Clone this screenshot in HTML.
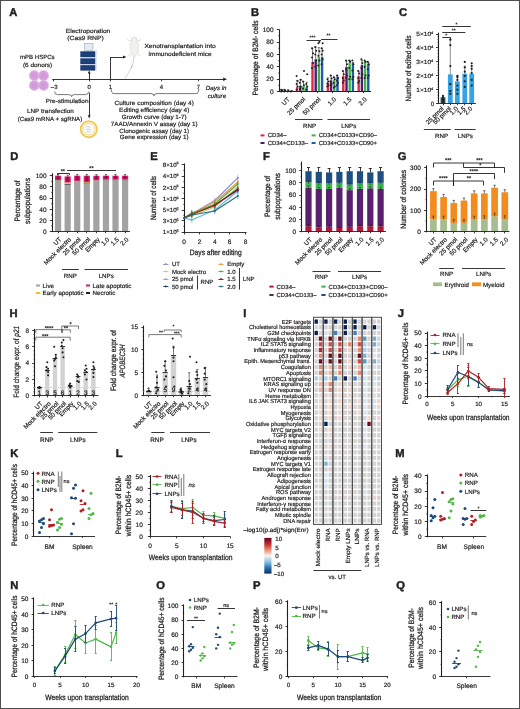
<!DOCTYPE html>
<html><head><meta charset="utf-8"><style>
html,body{margin:0;padding:0;background:#fff;}
body{width:520px;height:709px;overflow:hidden;}
svg{display:block;will-change:transform;}
svg text{text-rendering:geometricPrecision;font-family:"Liberation Sans", sans-serif;fill:#231f20;stroke:#231f20;stroke-width:0.2px;}
</style></head><body>
<svg width="520" height="709" viewBox="0 0 520 709" font-family='"Liberation Sans", sans-serif'>
<rect x="0" y="0" width="520" height="709" fill="#ffffff"/>
<text x="9.2" y="16.16" font-size="11.2" font-weight="bold" style="stroke-width:0.45px">A</text>
<text x="88.00" y="32.66" font-size="6.0" text-anchor="middle" textLength="44.5" lengthAdjust="spacingAndGlyphs">Electroporation</text>
<text x="85.50" y="39.86" font-size="6.0" text-anchor="middle" textLength="36.5" lengthAdjust="spacingAndGlyphs">(Cas9 RNP)</text>
<text x="37.30" y="59.16" font-size="6.0" text-anchor="middle" textLength="34.6" lengthAdjust="spacingAndGlyphs">mPB HSPCs</text>
<text x="37.60" y="67.16" font-size="6.0" text-anchor="middle" textLength="29.3" lengthAdjust="spacingAndGlyphs">(6 donors)</text>
<circle cx="34.30" cy="75.60" r="5.00" fill="#d7a0de" stroke="#e2bce8" stroke-width="0.8"/>
<circle cx="43.60" cy="75.60" r="5.00" fill="#d7a0de" stroke="#e2bce8" stroke-width="0.8"/>
<circle cx="34.30" cy="85.40" r="5.00" fill="#d7a0de" stroke="#e2bce8" stroke-width="0.8"/>
<circle cx="43.60" cy="85.40" r="5.00" fill="#d7a0de" stroke="#e2bce8" stroke-width="0.8"/>
<circle cx="34.30" cy="75.60" r="2.60" fill="#d29ada" />
<circle cx="43.60" cy="75.60" r="2.60" fill="#d29ada" />
<circle cx="34.30" cy="85.40" r="2.60" fill="#d29ada" />
<circle cx="43.60" cy="85.40" r="2.60" fill="#d29ada" />
<rect x="84.60" y="43.40" width="8.40" height="6.90" fill="#e6ecf3" stroke="#9aa8b8" stroke-width="0.6"/>
<rect x="95.20" y="49.50" width="1.60" height="21.00" fill="#dde3ea" />
<rect x="80.30" y="51.30" width="14.90" height="5.80" fill="#1c3c76" />
<line x1="81.50" y1="54.20" x2="94.00" y2="54.20" stroke="#3b5c96" stroke-width="0.5" stroke-dasharray="1 0.6"/>
<rect x="80.30" y="58.20" width="14.90" height="5.80" fill="#1c3c76" />
<line x1="81.50" y1="61.10" x2="94.00" y2="61.10" stroke="#3b5c96" stroke-width="0.5" stroke-dasharray="1 0.6"/>
<rect x="80.30" y="65.10" width="14.90" height="5.50" fill="#1c3c76" />
<line x1="81.50" y1="67.85" x2="94.00" y2="67.85" stroke="#3b5c96" stroke-width="0.5" stroke-dasharray="1 0.6"/>
<rect x="80.30" y="57.10" width="14.90" height="1.10" fill="#c4d1e6" />
<rect x="80.30" y="64.00" width="14.90" height="1.10" fill="#c4d1e6" />
<line x1="52.30" y1="79.50" x2="224.00" y2="79.50" stroke="#231f20" stroke-width="0.9" />
<path d="M223.2,77.6 L227.0,79.3 L223.2,81.0 Z" fill="#231f20" stroke="none" stroke-width="0" />
<line x1="53.50" y1="79.30" x2="53.50" y2="81.30" stroke="#231f20" stroke-width="0.9" />
<line x1="89.50" y1="79.30" x2="89.50" y2="81.30" stroke="#231f20" stroke-width="0.9" />
<line x1="110.50" y1="79.30" x2="110.50" y2="81.30" stroke="#231f20" stroke-width="0.9" />
<line x1="161.50" y1="79.30" x2="161.50" y2="81.30" stroke="#231f20" stroke-width="0.9" />
<line x1="198.50" y1="79.30" x2="198.50" y2="81.30" stroke="#231f20" stroke-width="0.9" />
<text x="54.20" y="89.16" font-size="6.0" text-anchor="middle">–3</text>
<text x="89.20" y="89.36" font-size="6.0" text-anchor="middle">0</text>
<text x="110.30" y="89.36" font-size="6.0" text-anchor="middle">1</text>
<text x="161.40" y="89.36" font-size="6.0" text-anchor="middle">4</text>
<text x="198.30" y="89.36" font-size="6.0" text-anchor="middle">7</text>
<line x1="89.50" y1="79.30" x2="89.50" y2="73.00" stroke="#231f20" stroke-width="0.9" />
<path d="M87.8,73.6 L89.2,70.6 L90.6,73.6 Z" fill="#231f20" stroke="none" stroke-width="0" />
<line x1="89.50" y1="92.60" x2="89.50" y2="116.00" stroke="#231f20" stroke-width="0.9" />
<path d="M87.8,115.2 L89.2,118.4 L90.6,115.2 Z" fill="#231f20" stroke="none" stroke-width="0" />
<path d="M54.6,91.5 Q54.6,94.6 57.6,94.6 L68.6,94.6 Q71.6,94.6 71.6,96.6 Q71.6,94.6 74.6,94.6 L85.6,94.6 Q88.6,94.6 88.6,91.5" fill="none" stroke="#231f20" stroke-width="0.6" />
<text x="67.10" y="102.96" font-size="6.0" text-anchor="middle" textLength="42.8" lengthAdjust="spacingAndGlyphs">Pre-stimulation</text>
<text x="50.40" y="113.36" font-size="6.0" text-anchor="middle" textLength="46.8" lengthAdjust="spacingAndGlyphs">LNP transfection</text>
<text x="50.00" y="120.66" font-size="6.0" text-anchor="middle" textLength="64.6" lengthAdjust="spacingAndGlyphs">(Cas9 mRNA + sgRNA)</text>
<circle cx="88.80" cy="129.20" r="8.60" fill="#fdf6dc" />
<circle cx="88.80" cy="129.20" r="8.10" fill="none" stroke="#efc84c" stroke-width="1.7"/>
<circle cx="88.80" cy="129.20" r="5.60" fill="#ffffff" stroke="#f0cf66" stroke-width="0.7"/>
<path d="M85.8,127.2 Q88,125.8 90.5,127.6 M86.2,129.6 Q88.6,128.4 91.2,130.2 M86.4,132 Q88.8,130.6 90.8,132.6" fill="none" stroke="#9a8fbf" stroke-width="0.5" />
<line x1="110.50" y1="79.30" x2="110.50" y2="57.00" stroke="#231f20" stroke-width="0.9" />
<line x1="110.00" y1="57.50" x2="123.60" y2="57.50" stroke="#231f20" stroke-width="0.9" />
<path d="M123.0,55.4 L126.4,57.0 L123.0,58.6 Z" fill="#231f20" stroke="none" stroke-width="0" />
<g fill="#f3f0f0" stroke="#d2cccc" stroke-width="0.5">
<path d="M134.2,36.6 Q131.2,38 131.4,41.5 Q129.6,44 130.2,48.5 Q130.6,53.5 133.2,56.2 L135.4,56.2 Q138,53.5 138.4,48.5 Q139,44 137.2,41.5 Q137.4,38 134.2,36.6 Z"/>
</g>
<path d="M131.2,41.2 L127.2,39.6 M137.2,41.2 L141.2,39.6 M130.6,53.6 L128.2,56.4 M137.8,53.6 L140.6,56.4 M132.2,39.2 L131.2,37.6 M136.2,39.2 L137.2,37.6" fill="none" stroke="#cfc6c6" stroke-width="0.7" />
<path d="M134.2,56.2 Q133.6,63 131.2,68 Q128.5,73.5 124.8,78.6" fill="none" stroke="#d6d0d0" stroke-width="1.0" />
<path d="M131.0,68.4 L132.6,65.0" fill="none" stroke="#e8b890" stroke-width="1.0" />
<text x="180.10" y="47.96" font-size="6.0" text-anchor="middle" textLength="71.4" lengthAdjust="spacingAndGlyphs">Xenotransplantation into</text>
<text x="180.10" y="55.96" font-size="6.0" text-anchor="middle" textLength="63.2" lengthAdjust="spacingAndGlyphs">immunodeficient mice</text>
<text x="216.20" y="90.46" font-size="6.0" text-anchor="middle" textLength="20.7" lengthAdjust="spacingAndGlyphs" font-style="italic">Days in</text>
<text x="216.90" y="98.46" font-size="6.0" text-anchor="middle" textLength="18.3" lengthAdjust="spacingAndGlyphs" font-style="italic">culture</text>
<path d="M111.2,89.0 Q111.2,93.6 114.2,93.6 L151.0,93.6 Q154.0,93.6 154.0,95.8 Q154.0,93.6 157.0,93.6 L195.8,93.6 Q198.8,93.6 198.8,89.0" fill="none" stroke="#231f20" stroke-width="0.6" />
<text x="154.20" y="105.46" font-size="6.0" text-anchor="middle" textLength="79.2" lengthAdjust="spacingAndGlyphs">Culture composition (day 4)</text>
<text x="154.20" y="112.16" font-size="6.0" text-anchor="middle" textLength="70.2" lengthAdjust="spacingAndGlyphs">Editing efficiency (day 4)</text>
<text x="154.20" y="118.76" font-size="6.0" text-anchor="middle" textLength="64.8" lengthAdjust="spacingAndGlyphs">Growth curve (day 1-7)</text>
<text x="154.20" y="125.66" font-size="6.0" text-anchor="middle" textLength="86.9" lengthAdjust="spacingAndGlyphs">7AAD/Annexin V assay (day 1)</text>
<text x="154.20" y="132.76" font-size="6.0" text-anchor="middle" textLength="69.8" lengthAdjust="spacingAndGlyphs">Clonogenic assay (day 1)</text>
<text x="154.20" y="139.46" font-size="6.0" text-anchor="middle" textLength="68.7" lengthAdjust="spacingAndGlyphs">Gene expression (day 1)</text>
<text x="251.0" y="16.16" font-size="11.2" font-weight="bold" style="stroke-width:0.45px">B</text>
<line x1="279.50" y1="29.30" x2="279.50" y2="92.00" stroke="#231f20" stroke-width="1.1" />
<line x1="276.80" y1="91.50" x2="279.00" y2="91.50" stroke="#231f20" stroke-width="0.9" />
<text x="273.60" y="93.84" font-size="6.5" text-anchor="end">0</text>
<line x1="276.80" y1="79.50" x2="279.00" y2="79.50" stroke="#231f20" stroke-width="0.9" />
<text x="273.60" y="81.48" font-size="6.5" text-anchor="end">20</text>
<line x1="276.80" y1="66.50" x2="279.00" y2="66.50" stroke="#231f20" stroke-width="0.9" />
<text x="273.60" y="69.12" font-size="6.5" text-anchor="end">40</text>
<line x1="276.80" y1="54.50" x2="279.00" y2="54.50" stroke="#231f20" stroke-width="0.9" />
<text x="273.60" y="56.76" font-size="6.5" text-anchor="end">60</text>
<line x1="276.80" y1="42.50" x2="279.00" y2="42.50" stroke="#231f20" stroke-width="0.9" />
<text x="273.60" y="44.40" font-size="6.5" text-anchor="end">80</text>
<line x1="276.80" y1="29.50" x2="279.00" y2="29.50" stroke="#231f20" stroke-width="0.9" />
<text x="273.60" y="32.04" font-size="6.5" text-anchor="end">100</text>
<line x1="278.00" y1="85.32" x2="279.00" y2="85.32" stroke="#231f20" stroke-width="0.6" />
<line x1="278.00" y1="72.96" x2="279.00" y2="72.96" stroke="#231f20" stroke-width="0.6" />
<line x1="278.00" y1="60.60" x2="279.00" y2="60.60" stroke="#231f20" stroke-width="0.6" />
<line x1="278.00" y1="48.24" x2="279.00" y2="48.24" stroke="#231f20" stroke-width="0.6" />
<line x1="278.00" y1="35.88" x2="279.00" y2="35.88" stroke="#231f20" stroke-width="0.6" />
<text x="255.40" y="60.81" font-size="7.8" text-anchor="middle" textLength="75" lengthAdjust="spacingAndGlyphs" transform="rotate(-90 255.40 58.00)" style="stroke-width:0.26px">Percentage of B2M- cells</text>
<line x1="278.60" y1="91.50" x2="371.00" y2="91.50" stroke="#231f20" stroke-width="0.9" />
<line x1="301.50" y1="91.50" x2="301.50" y2="93.10" stroke="#231f20" stroke-width="0.9" />
<line x1="317.50" y1="91.50" x2="317.50" y2="93.10" stroke="#231f20" stroke-width="0.9" />
<line x1="332.50" y1="91.50" x2="332.50" y2="93.10" stroke="#231f20" stroke-width="0.9" />
<line x1="348.50" y1="91.50" x2="348.50" y2="93.10" stroke="#231f20" stroke-width="0.9" />
<line x1="363.50" y1="91.50" x2="363.50" y2="93.10" stroke="#231f20" stroke-width="0.9" />
<rect x="280.50" y="90.57" width="2.40" height="0.93" fill="#e0294a" />
<line x1="281.70" y1="89.65" x2="281.70" y2="90.57" stroke="#231f20" stroke-width="0.6" />
<line x1="280.70" y1="89.65" x2="282.70" y2="89.65" stroke="#231f20" stroke-width="0.6" />
<circle cx="281.20" cy="91.50" r="1.00" fill="#231f20" />
<circle cx="282.20" cy="90.26" r="1.00" fill="#231f20" />
<circle cx="281.20" cy="89.65" r="1.00" fill="#231f20" />
<rect x="283.70" y="90.76" width="2.40" height="0.74" fill="#4b1f6f" />
<line x1="284.90" y1="89.65" x2="284.90" y2="90.76" stroke="#231f20" stroke-width="0.6" />
<line x1="283.90" y1="89.65" x2="285.90" y2="89.65" stroke="#231f20" stroke-width="0.6" />
<circle cx="284.40" cy="91.50" r="1.00" fill="#231f20" />
<circle cx="285.40" cy="90.88" r="1.00" fill="#231f20" />
<circle cx="284.40" cy="89.65" r="1.00" fill="#231f20" />
<rect x="286.90" y="90.57" width="2.40" height="0.93" fill="#3db54a" />
<line x1="288.10" y1="89.65" x2="288.10" y2="90.57" stroke="#231f20" stroke-width="0.6" />
<line x1="287.10" y1="89.65" x2="289.10" y2="89.65" stroke="#231f20" stroke-width="0.6" />
<circle cx="287.60" cy="91.50" r="1.00" fill="#231f20" />
<circle cx="288.60" cy="90.88" r="1.00" fill="#231f20" />
<rect x="290.10" y="90.88" width="2.40" height="0.62" fill="#1f5fa8" />
<circle cx="290.80" cy="91.50" r="1.00" fill="#231f20" />
<circle cx="291.80" cy="90.88" r="1.00" fill="#231f20" />
<rect x="295.90" y="87.17" width="2.40" height="4.33" fill="#e0294a" />
<line x1="297.10" y1="80.38" x2="297.10" y2="87.17" stroke="#231f20" stroke-width="0.6" />
<line x1="296.10" y1="80.38" x2="298.10" y2="80.38" stroke="#231f20" stroke-width="0.6" />
<circle cx="296.60" cy="89.65" r="1.00" fill="#231f20" />
<circle cx="297.60" cy="86.56" r="1.00" fill="#231f20" />
<circle cx="296.60" cy="84.08" r="1.00" fill="#231f20" />
<circle cx="297.60" cy="80.99" r="1.00" fill="#231f20" />
<circle cx="296.60" cy="76.05" r="1.00" fill="#231f20" />
<rect x="299.10" y="85.94" width="2.40" height="5.56" fill="#4b1f6f" />
<line x1="300.30" y1="79.76" x2="300.30" y2="85.94" stroke="#231f20" stroke-width="0.6" />
<line x1="299.30" y1="79.76" x2="301.30" y2="79.76" stroke="#231f20" stroke-width="0.6" />
<circle cx="299.80" cy="89.03" r="1.00" fill="#231f20" />
<circle cx="300.80" cy="86.56" r="1.00" fill="#231f20" />
<circle cx="299.80" cy="82.85" r="1.00" fill="#231f20" />
<circle cx="300.80" cy="79.76" r="1.00" fill="#231f20" />
<rect x="302.30" y="85.94" width="2.40" height="5.56" fill="#3db54a" />
<line x1="303.50" y1="81.61" x2="303.50" y2="85.94" stroke="#231f20" stroke-width="0.6" />
<line x1="302.50" y1="81.61" x2="304.50" y2="81.61" stroke="#231f20" stroke-width="0.6" />
<circle cx="303.00" cy="88.41" r="1.00" fill="#231f20" />
<circle cx="304.00" cy="85.32" r="1.00" fill="#231f20" />
<circle cx="303.00" cy="81.61" r="1.00" fill="#231f20" />
<circle cx="304.00" cy="71.11" r="1.00" fill="#231f20" />
<rect x="305.50" y="87.17" width="2.40" height="4.33" fill="#1f5fa8" />
<line x1="306.70" y1="82.23" x2="306.70" y2="87.17" stroke="#231f20" stroke-width="0.6" />
<line x1="305.70" y1="82.23" x2="307.70" y2="82.23" stroke="#231f20" stroke-width="0.6" />
<circle cx="306.20" cy="89.65" r="1.00" fill="#231f20" />
<circle cx="307.20" cy="86.56" r="1.00" fill="#231f20" />
<circle cx="306.20" cy="84.08" r="1.00" fill="#231f20" />
<circle cx="307.20" cy="74.20" r="1.00" fill="#231f20" />
<rect x="311.30" y="61.84" width="2.40" height="29.66" fill="#e0294a" />
<line x1="312.50" y1="48.24" x2="312.50" y2="61.84" stroke="#231f20" stroke-width="0.6" />
<line x1="311.50" y1="48.24" x2="313.50" y2="48.24" stroke="#231f20" stroke-width="0.6" />
<circle cx="312.00" cy="68.02" r="1.00" fill="#231f20" />
<circle cx="313.00" cy="63.07" r="1.00" fill="#231f20" />
<circle cx="312.00" cy="57.51" r="1.00" fill="#231f20" />
<circle cx="313.00" cy="53.18" r="1.00" fill="#231f20" />
<circle cx="312.00" cy="48.24" r="1.00" fill="#231f20" />
<rect x="314.50" y="59.36" width="2.40" height="32.14" fill="#4b1f6f" />
<line x1="315.70" y1="47.00" x2="315.70" y2="59.36" stroke="#231f20" stroke-width="0.6" />
<line x1="314.70" y1="47.00" x2="316.70" y2="47.00" stroke="#231f20" stroke-width="0.6" />
<circle cx="315.20" cy="66.78" r="1.00" fill="#231f20" />
<circle cx="316.20" cy="60.60" r="1.00" fill="#231f20" />
<circle cx="315.20" cy="54.42" r="1.00" fill="#231f20" />
<circle cx="316.20" cy="50.71" r="1.00" fill="#231f20" />
<circle cx="315.20" cy="47.00" r="1.00" fill="#231f20" />
<rect x="317.70" y="56.89" width="2.40" height="34.61" fill="#3db54a" />
<line x1="318.90" y1="47.62" x2="318.90" y2="56.89" stroke="#231f20" stroke-width="0.6" />
<line x1="317.90" y1="47.62" x2="319.90" y2="47.62" stroke="#231f20" stroke-width="0.6" />
<circle cx="318.40" cy="65.54" r="1.00" fill="#231f20" />
<circle cx="319.40" cy="60.60" r="1.00" fill="#231f20" />
<circle cx="318.40" cy="55.66" r="1.00" fill="#231f20" />
<circle cx="319.40" cy="51.33" r="1.00" fill="#231f20" />
<circle cx="318.40" cy="43.30" r="1.00" fill="#231f20" />
<circle cx="319.40" cy="42.06" r="1.00" fill="#231f20" />
<rect x="320.90" y="56.89" width="2.40" height="34.61" fill="#1f5fa8" />
<line x1="322.10" y1="48.24" x2="322.10" y2="56.89" stroke="#231f20" stroke-width="0.6" />
<line x1="321.10" y1="48.24" x2="323.10" y2="48.24" stroke="#231f20" stroke-width="0.6" />
<circle cx="321.60" cy="64.31" r="1.00" fill="#231f20" />
<circle cx="322.60" cy="59.36" r="1.00" fill="#231f20" />
<circle cx="321.60" cy="54.42" r="1.00" fill="#231f20" />
<circle cx="322.60" cy="50.71" r="1.00" fill="#231f20" />
<circle cx="321.60" cy="48.24" r="1.00" fill="#231f20" />
<circle cx="322.60" cy="43.30" r="1.00" fill="#231f20" />
<rect x="326.70" y="82.85" width="2.40" height="8.65" fill="#e0294a" />
<line x1="327.90" y1="77.90" x2="327.90" y2="82.85" stroke="#231f20" stroke-width="0.6" />
<line x1="326.90" y1="77.90" x2="328.90" y2="77.90" stroke="#231f20" stroke-width="0.6" />
<circle cx="327.40" cy="86.56" r="1.00" fill="#231f20" />
<circle cx="328.40" cy="85.32" r="1.00" fill="#231f20" />
<circle cx="327.40" cy="83.47" r="1.00" fill="#231f20" />
<circle cx="328.40" cy="81.61" r="1.00" fill="#231f20" />
<circle cx="327.40" cy="79.14" r="1.00" fill="#231f20" />
<rect x="329.90" y="80.38" width="2.40" height="11.12" fill="#4b1f6f" />
<line x1="331.10" y1="75.43" x2="331.10" y2="80.38" stroke="#231f20" stroke-width="0.6" />
<line x1="330.10" y1="75.43" x2="332.10" y2="75.43" stroke="#231f20" stroke-width="0.6" />
<circle cx="330.60" cy="85.32" r="1.00" fill="#231f20" />
<circle cx="331.60" cy="84.08" r="1.00" fill="#231f20" />
<circle cx="330.60" cy="81.61" r="1.00" fill="#231f20" />
<circle cx="331.60" cy="78.52" r="1.00" fill="#231f20" />
<circle cx="330.60" cy="75.43" r="1.00" fill="#231f20" />
<rect x="333.10" y="79.76" width="2.40" height="11.74" fill="#3db54a" />
<line x1="334.30" y1="77.29" x2="334.30" y2="79.76" stroke="#231f20" stroke-width="0.6" />
<line x1="333.30" y1="77.29" x2="335.30" y2="77.29" stroke="#231f20" stroke-width="0.6" />
<circle cx="333.80" cy="87.79" r="1.00" fill="#231f20" />
<circle cx="334.80" cy="86.56" r="1.00" fill="#231f20" />
<circle cx="333.80" cy="82.85" r="1.00" fill="#231f20" />
<circle cx="334.80" cy="79.14" r="1.00" fill="#231f20" />
<circle cx="333.80" cy="77.29" r="1.00" fill="#231f20" />
<rect x="336.30" y="76.67" width="2.40" height="14.83" fill="#1f5fa8" />
<line x1="337.50" y1="75.43" x2="337.50" y2="76.67" stroke="#231f20" stroke-width="0.6" />
<line x1="336.50" y1="75.43" x2="338.50" y2="75.43" stroke="#231f20" stroke-width="0.6" />
<circle cx="337.00" cy="85.32" r="1.00" fill="#231f20" />
<circle cx="338.00" cy="82.85" r="1.00" fill="#231f20" />
<circle cx="337.00" cy="80.38" r="1.00" fill="#231f20" />
<circle cx="338.00" cy="77.90" r="1.00" fill="#231f20" />
<circle cx="337.00" cy="75.43" r="1.00" fill="#231f20" />
<rect x="342.10" y="76.05" width="2.40" height="15.45" fill="#e0294a" />
<line x1="343.30" y1="71.11" x2="343.30" y2="76.05" stroke="#231f20" stroke-width="0.6" />
<line x1="342.30" y1="71.11" x2="344.30" y2="71.11" stroke="#231f20" stroke-width="0.6" />
<circle cx="342.80" cy="82.85" r="1.00" fill="#231f20" />
<circle cx="343.80" cy="80.38" r="1.00" fill="#231f20" />
<circle cx="342.80" cy="77.90" r="1.00" fill="#231f20" />
<circle cx="343.80" cy="74.20" r="1.00" fill="#231f20" />
<circle cx="342.80" cy="71.11" r="1.00" fill="#231f20" />
<rect x="345.30" y="66.78" width="2.40" height="24.72" fill="#4b1f6f" />
<line x1="346.50" y1="61.22" x2="346.50" y2="66.78" stroke="#231f20" stroke-width="0.6" />
<line x1="345.50" y1="61.22" x2="347.50" y2="61.22" stroke="#231f20" stroke-width="0.6" />
<circle cx="346.00" cy="77.90" r="1.00" fill="#231f20" />
<circle cx="347.00" cy="75.43" r="1.00" fill="#231f20" />
<circle cx="346.00" cy="69.25" r="1.00" fill="#231f20" />
<circle cx="347.00" cy="64.31" r="1.00" fill="#231f20" />
<circle cx="346.00" cy="60.60" r="1.00" fill="#231f20" />
<rect x="348.50" y="62.45" width="2.40" height="29.05" fill="#3db54a" />
<line x1="349.70" y1="60.60" x2="349.70" y2="62.45" stroke="#231f20" stroke-width="0.6" />
<line x1="348.70" y1="60.60" x2="350.70" y2="60.60" stroke="#231f20" stroke-width="0.6" />
<circle cx="349.20" cy="79.14" r="1.00" fill="#231f20" />
<circle cx="350.20" cy="76.67" r="1.00" fill="#231f20" />
<circle cx="349.20" cy="68.02" r="1.00" fill="#231f20" />
<circle cx="350.20" cy="61.84" r="1.00" fill="#231f20" />
<circle cx="349.20" cy="60.60" r="1.00" fill="#231f20" />
<rect x="351.70" y="63.07" width="2.40" height="28.43" fill="#1f5fa8" />
<line x1="352.90" y1="62.45" x2="352.90" y2="63.07" stroke="#231f20" stroke-width="0.6" />
<line x1="351.90" y1="62.45" x2="353.90" y2="62.45" stroke="#231f20" stroke-width="0.6" />
<circle cx="352.40" cy="79.14" r="1.00" fill="#231f20" />
<circle cx="353.40" cy="76.67" r="1.00" fill="#231f20" />
<circle cx="352.40" cy="70.49" r="1.00" fill="#231f20" />
<circle cx="353.40" cy="64.31" r="1.00" fill="#231f20" />
<circle cx="352.40" cy="60.60" r="1.00" fill="#231f20" />
<rect x="357.50" y="76.05" width="2.40" height="15.45" fill="#e0294a" />
<line x1="358.70" y1="71.11" x2="358.70" y2="76.05" stroke="#231f20" stroke-width="0.6" />
<line x1="357.70" y1="71.11" x2="359.70" y2="71.11" stroke="#231f20" stroke-width="0.6" />
<circle cx="358.20" cy="82.85" r="1.00" fill="#231f20" />
<circle cx="359.20" cy="80.99" r="1.00" fill="#231f20" />
<circle cx="358.20" cy="77.90" r="1.00" fill="#231f20" />
<circle cx="359.20" cy="73.58" r="1.00" fill="#231f20" />
<circle cx="358.20" cy="71.11" r="1.00" fill="#231f20" />
<rect x="360.70" y="64.93" width="2.40" height="26.57" fill="#4b1f6f" />
<line x1="361.90" y1="60.60" x2="361.90" y2="64.93" stroke="#231f20" stroke-width="0.6" />
<line x1="360.90" y1="60.60" x2="362.90" y2="60.60" stroke="#231f20" stroke-width="0.6" />
<circle cx="361.40" cy="77.90" r="1.00" fill="#231f20" />
<circle cx="362.40" cy="74.20" r="1.00" fill="#231f20" />
<circle cx="361.40" cy="68.02" r="1.00" fill="#231f20" />
<circle cx="362.40" cy="63.07" r="1.00" fill="#231f20" />
<circle cx="361.40" cy="59.36" r="1.00" fill="#231f20" />
<rect x="363.90" y="61.22" width="2.40" height="30.28" fill="#3db54a" />
<circle cx="364.60" cy="77.90" r="1.00" fill="#231f20" />
<circle cx="365.60" cy="75.43" r="1.00" fill="#231f20" />
<circle cx="364.60" cy="66.78" r="1.00" fill="#231f20" />
<circle cx="365.60" cy="61.84" r="1.00" fill="#231f20" />
<circle cx="364.60" cy="60.60" r="1.00" fill="#231f20" />
<rect x="367.10" y="63.69" width="2.40" height="27.81" fill="#1f5fa8" />
<line x1="368.30" y1="62.45" x2="368.30" y2="63.69" stroke="#231f20" stroke-width="0.6" />
<line x1="367.30" y1="62.45" x2="369.30" y2="62.45" stroke="#231f20" stroke-width="0.6" />
<circle cx="367.80" cy="77.90" r="1.00" fill="#231f20" />
<circle cx="368.80" cy="75.43" r="1.00" fill="#231f20" />
<circle cx="367.80" cy="69.25" r="1.00" fill="#231f20" />
<circle cx="368.80" cy="64.31" r="1.00" fill="#231f20" />
<circle cx="367.80" cy="61.84" r="1.00" fill="#231f20" />
<line x1="278.60" y1="91.50" x2="371.00" y2="91.50" stroke="#231f20" stroke-width="0.9" />
<line x1="306.50" y1="40.50" x2="321.00" y2="40.50" stroke="#231f20" stroke-width="0.9" />
<line x1="321.00" y1="39.50" x2="337.50" y2="39.50" stroke="#231f20" stroke-width="0.9" />
<text x="312.50" y="38.70" font-size="5.0" text-anchor="middle">***</text>
<text x="328.50" y="37.40" font-size="5.0" text-anchor="middle">**</text>
<text x="290.30" y="99.70" font-size="6.3" text-anchor="end" transform="rotate(-45 290.30 99.70)">UT</text>
<text x="305.70" y="99.70" font-size="6.3" text-anchor="end" transform="rotate(-45 305.70 99.70)">25 pmol</text>
<text x="321.10" y="99.70" font-size="6.3" text-anchor="end" transform="rotate(-45 321.10 99.70)">50 pmol</text>
<text x="336.50" y="99.70" font-size="6.3" text-anchor="end" transform="rotate(-45 336.50 99.70)">1.0</text>
<text x="351.90" y="99.70" font-size="6.3" text-anchor="end" transform="rotate(-45 351.90 99.70)">1.5</text>
<text x="367.30" y="99.70" font-size="6.3" text-anchor="end" transform="rotate(-45 367.30 99.70)">2.0</text>
<line x1="295.00" y1="119.50" x2="322.50" y2="119.50" stroke="#231f20" stroke-width="0.9" />
<line x1="327.50" y1="119.50" x2="370.00" y2="119.50" stroke="#231f20" stroke-width="0.9" />
<text x="309.50" y="128.43" font-size="6.2" text-anchor="middle">RNP</text>
<text x="348.70" y="128.43" font-size="6.2" text-anchor="middle">LNPs</text>
<rect x="260.50" y="134.40" width="4.00" height="2.00" fill="#e0294a" />
<text x="267.70" y="137.49" font-size="5.8" textLength="18.8" lengthAdjust="spacingAndGlyphs">CD34–</text>
<rect x="260.50" y="142.00" width="4.00" height="2.00" fill="#4b1f6f" />
<text x="267.70" y="145.09" font-size="5.8" textLength="40.4" lengthAdjust="spacingAndGlyphs">CD34+CD133–</text>
<rect x="311.60" y="134.40" width="4.00" height="2.00" fill="#3db54a" />
<text x="318.80" y="137.49" font-size="5.8" textLength="58.2" lengthAdjust="spacingAndGlyphs">CD34+CD133+CD90–</text>
<rect x="311.60" y="142.00" width="4.00" height="2.00" fill="#1f5fa8" />
<text x="318.80" y="145.09" font-size="5.8" textLength="58.2" lengthAdjust="spacingAndGlyphs">CD34+CD133+CD90+</text>
<text x="399.0" y="16.46" font-size="11.2" font-weight="bold" style="stroke-width:0.45px">C</text>
<line x1="438.50" y1="104.00" x2="438.50" y2="32.60" stroke="#231f20" stroke-width="1.1" />
<line x1="436.10" y1="103.50" x2="438.50" y2="103.50" stroke="#231f20" stroke-width="0.9" />
<text x="434.30" y="105.83" font-size="6.2" text-anchor="end">0</text>
<line x1="436.10" y1="89.50" x2="438.50" y2="89.50" stroke="#231f20" stroke-width="0.9" />
<text x="433.30" y="91.80" font-size="6.0" text-anchor="end" textLength="17" lengthAdjust="spacingAndGlyphs">1×10<tspan font-size="3.6" dy="-2.2">4</tspan></text>
<line x1="436.10" y1="75.50" x2="438.50" y2="75.50" stroke="#231f20" stroke-width="0.9" />
<text x="433.30" y="77.90" font-size="6.0" text-anchor="end" textLength="17" lengthAdjust="spacingAndGlyphs">2×10<tspan font-size="3.6" dy="-2.2">4</tspan></text>
<line x1="436.10" y1="61.50" x2="438.50" y2="61.50" stroke="#231f20" stroke-width="0.9" />
<text x="433.30" y="64.00" font-size="6.0" text-anchor="end" textLength="17" lengthAdjust="spacingAndGlyphs">3×10<tspan font-size="3.6" dy="-2.2">4</tspan></text>
<line x1="436.10" y1="47.50" x2="438.50" y2="47.50" stroke="#231f20" stroke-width="0.9" />
<text x="433.30" y="50.10" font-size="6.0" text-anchor="end" textLength="17" lengthAdjust="spacingAndGlyphs">4×10<tspan font-size="3.6" dy="-2.2">4</tspan></text>
<line x1="436.10" y1="34.50" x2="438.50" y2="34.50" stroke="#231f20" stroke-width="0.9" />
<text x="433.30" y="36.20" font-size="6.0" text-anchor="end" textLength="17" lengthAdjust="spacingAndGlyphs">5×10<tspan font-size="3.6" dy="-2.2">4</tspan></text>
<line x1="437.40" y1="100.82" x2="438.50" y2="100.82" stroke="#231f20" stroke-width="0.55" />
<line x1="437.40" y1="98.04" x2="438.50" y2="98.04" stroke="#231f20" stroke-width="0.55" />
<line x1="437.40" y1="95.26" x2="438.50" y2="95.26" stroke="#231f20" stroke-width="0.55" />
<line x1="437.40" y1="92.48" x2="438.50" y2="92.48" stroke="#231f20" stroke-width="0.55" />
<line x1="437.40" y1="86.92" x2="438.50" y2="86.92" stroke="#231f20" stroke-width="0.55" />
<line x1="437.40" y1="84.14" x2="438.50" y2="84.14" stroke="#231f20" stroke-width="0.55" />
<line x1="437.40" y1="81.36" x2="438.50" y2="81.36" stroke="#231f20" stroke-width="0.55" />
<line x1="437.40" y1="78.58" x2="438.50" y2="78.58" stroke="#231f20" stroke-width="0.55" />
<line x1="437.40" y1="73.02" x2="438.50" y2="73.02" stroke="#231f20" stroke-width="0.55" />
<line x1="437.40" y1="70.24" x2="438.50" y2="70.24" stroke="#231f20" stroke-width="0.55" />
<line x1="437.40" y1="67.46" x2="438.50" y2="67.46" stroke="#231f20" stroke-width="0.55" />
<line x1="437.40" y1="64.68" x2="438.50" y2="64.68" stroke="#231f20" stroke-width="0.55" />
<line x1="437.40" y1="59.12" x2="438.50" y2="59.12" stroke="#231f20" stroke-width="0.55" />
<line x1="437.40" y1="56.34" x2="438.50" y2="56.34" stroke="#231f20" stroke-width="0.55" />
<line x1="437.40" y1="53.56" x2="438.50" y2="53.56" stroke="#231f20" stroke-width="0.55" />
<line x1="437.40" y1="50.78" x2="438.50" y2="50.78" stroke="#231f20" stroke-width="0.55" />
<line x1="437.40" y1="45.22" x2="438.50" y2="45.22" stroke="#231f20" stroke-width="0.55" />
<line x1="437.40" y1="42.44" x2="438.50" y2="42.44" stroke="#231f20" stroke-width="0.55" />
<line x1="437.40" y1="39.66" x2="438.50" y2="39.66" stroke="#231f20" stroke-width="0.55" />
<line x1="437.40" y1="36.88" x2="438.50" y2="36.88" stroke="#231f20" stroke-width="0.55" />
<text x="408.60" y="71.31" font-size="7.8" text-anchor="middle" textLength="66" lengthAdjust="spacingAndGlyphs" transform="rotate(-90 408.60 68.50)" style="stroke-width:0.26px">Number of edited cells</text>
<rect x="440.60" y="97.34" width="4.80" height="6.25" fill="#1f4f5c" />
<line x1="443.00" y1="97.34" x2="443.00" y2="97.34" stroke="#231f20" stroke-width="0.5" />
<line x1="442.00" y1="97.34" x2="444.00" y2="97.34" stroke="#231f20" stroke-width="0.5" />
<circle cx="443.00" cy="102.21" r="1.10" fill="#231f20" />
<circle cx="443.00" cy="101.52" r="1.10" fill="#231f20" />
<circle cx="443.00" cy="100.12" r="1.10" fill="#231f20" />
<circle cx="443.00" cy="99.43" r="1.10" fill="#231f20" />
<circle cx="443.00" cy="97.34" r="1.10" fill="#231f20" />
<circle cx="443.00" cy="95.95" r="1.10" fill="#231f20" />
<rect x="447.90" y="74.41" width="4.80" height="29.19" fill="#37a3e4" />
<line x1="450.30" y1="39.66" x2="450.30" y2="74.41" stroke="#231f20" stroke-width="0.5" />
<line x1="449.30" y1="39.66" x2="451.30" y2="39.66" stroke="#231f20" stroke-width="0.5" />
<circle cx="450.30" cy="93.87" r="1.10" fill="#231f20" />
<circle cx="450.30" cy="91.09" r="1.10" fill="#231f20" />
<circle cx="450.30" cy="84.14" r="1.10" fill="#231f20" />
<circle cx="450.30" cy="66.07" r="1.10" fill="#231f20" />
<circle cx="450.30" cy="45.22" r="1.10" fill="#231f20" />
<circle cx="450.30" cy="39.66" r="1.10" fill="#231f20" />
<rect x="455.00" y="81.36" width="4.80" height="22.24" fill="#37a3e4" />
<line x1="457.40" y1="75.80" x2="457.40" y2="81.36" stroke="#231f20" stroke-width="0.5" />
<line x1="456.40" y1="75.80" x2="458.40" y2="75.80" stroke="#231f20" stroke-width="0.5" />
<circle cx="457.40" cy="93.87" r="1.10" fill="#231f20" />
<circle cx="457.40" cy="89.70" r="1.10" fill="#231f20" />
<circle cx="457.40" cy="85.53" r="1.10" fill="#231f20" />
<circle cx="457.40" cy="79.97" r="1.10" fill="#231f20" />
<circle cx="457.40" cy="77.19" r="1.10" fill="#231f20" />
<circle cx="457.40" cy="75.80" r="1.10" fill="#231f20" />
<rect x="462.40" y="73.72" width="4.80" height="29.88" fill="#37a3e4" />
<line x1="464.80" y1="66.07" x2="464.80" y2="73.72" stroke="#231f20" stroke-width="0.5" />
<line x1="463.80" y1="66.07" x2="465.80" y2="66.07" stroke="#231f20" stroke-width="0.5" />
<circle cx="464.80" cy="86.92" r="1.10" fill="#231f20" />
<circle cx="464.80" cy="81.36" r="1.10" fill="#231f20" />
<circle cx="464.80" cy="75.80" r="1.10" fill="#231f20" />
<circle cx="464.80" cy="71.63" r="1.10" fill="#231f20" />
<circle cx="464.80" cy="67.46" r="1.10" fill="#231f20" />
<circle cx="464.80" cy="61.90" r="1.10" fill="#231f20" />
<rect x="469.30" y="73.72" width="4.80" height="29.88" fill="#37a3e4" />
<line x1="471.70" y1="66.07" x2="471.70" y2="73.72" stroke="#231f20" stroke-width="0.5" />
<line x1="470.70" y1="66.07" x2="472.70" y2="66.07" stroke="#231f20" stroke-width="0.5" />
<circle cx="471.70" cy="85.53" r="1.10" fill="#231f20" />
<circle cx="471.70" cy="79.97" r="1.10" fill="#231f20" />
<circle cx="471.70" cy="73.02" r="1.10" fill="#231f20" />
<circle cx="471.70" cy="68.85" r="1.10" fill="#231f20" />
<circle cx="471.70" cy="66.07" r="1.10" fill="#231f20" />
<circle cx="471.70" cy="63.29" r="1.10" fill="#231f20" />
<line x1="438.10" y1="103.50" x2="476.00" y2="103.50" stroke="#231f20" stroke-width="0.9" />
<line x1="443.50" y1="103.60" x2="443.50" y2="105.20" stroke="#231f20" stroke-width="0.9" />
<line x1="450.50" y1="103.60" x2="450.50" y2="105.20" stroke="#231f20" stroke-width="0.9" />
<line x1="457.50" y1="103.60" x2="457.50" y2="105.20" stroke="#231f20" stroke-width="0.9" />
<line x1="464.50" y1="103.60" x2="464.50" y2="105.20" stroke="#231f20" stroke-width="0.9" />
<line x1="471.50" y1="103.60" x2="471.50" y2="105.20" stroke="#231f20" stroke-width="0.9" />
<line x1="442.30" y1="26.50" x2="470.80" y2="26.50" stroke="#231f20" stroke-width="0.9" />
<text x="456.50" y="26.40" font-size="5.0" text-anchor="middle">*</text>
<line x1="442.30" y1="32.50" x2="465.40" y2="32.50" stroke="#231f20" stroke-width="0.9" />
<text x="453.80" y="32.00" font-size="5.0" text-anchor="middle">**</text>
<line x1="442.30" y1="37.50" x2="450.60" y2="37.50" stroke="#231f20" stroke-width="0.9" />
<line x1="450.50" y1="37.30" x2="450.50" y2="39.50" stroke="#231f20" stroke-width="0.9" />
<text x="446.20" y="37.40" font-size="5.0" text-anchor="middle">*</text>
<text x="444.10" y="109.00" font-size="6.3" text-anchor="end" transform="rotate(-45 444.10 109.00)">25 pmol</text>
<text x="451.40" y="109.00" font-size="6.3" text-anchor="end" transform="rotate(-45 451.40 109.00)">50 pmol</text>
<text x="458.50" y="109.00" font-size="6.3" text-anchor="end" transform="rotate(-45 458.50 109.00)">1.0</text>
<text x="465.90" y="109.00" font-size="6.3" text-anchor="end" transform="rotate(-45 465.90 109.00)">1.5</text>
<text x="472.80" y="109.00" font-size="6.3" text-anchor="end" transform="rotate(-45 472.80 109.00)">2.0</text>
<line x1="423.80" y1="129.50" x2="450.80" y2="129.50" stroke="#231f20" stroke-width="0.9" />
<line x1="454.60" y1="129.50" x2="475.70" y2="129.50" stroke="#231f20" stroke-width="0.9" />
<text x="441.50" y="138.13" font-size="6.2" text-anchor="middle">RNP</text>
<text x="465.40" y="138.13" font-size="6.2" text-anchor="middle">LNPs</text>
<text x="10.2" y="160.16" font-size="11.2" font-weight="bold" style="stroke-width:0.45px">D</text>
<line x1="52.50" y1="173.30" x2="52.50" y2="232.10" stroke="#231f20" stroke-width="1.1" />
<line x1="49.80" y1="231.50" x2="52.00" y2="231.50" stroke="#231f20" stroke-width="0.9" />
<text x="46.60" y="233.94" font-size="6.5" text-anchor="end">0</text>
<line x1="49.80" y1="220.50" x2="52.00" y2="220.50" stroke="#231f20" stroke-width="0.9" />
<text x="46.60" y="222.76" font-size="6.5" text-anchor="end">20</text>
<line x1="49.80" y1="209.50" x2="52.00" y2="209.50" stroke="#231f20" stroke-width="0.9" />
<text x="46.60" y="211.58" font-size="6.5" text-anchor="end">40</text>
<line x1="49.80" y1="198.50" x2="52.00" y2="198.50" stroke="#231f20" stroke-width="0.9" />
<text x="46.60" y="200.40" font-size="6.5" text-anchor="end">60</text>
<line x1="49.80" y1="186.50" x2="52.00" y2="186.50" stroke="#231f20" stroke-width="0.9" />
<text x="46.60" y="189.22" font-size="6.5" text-anchor="end">80</text>
<line x1="49.80" y1="175.50" x2="52.00" y2="175.50" stroke="#231f20" stroke-width="0.9" />
<text x="46.60" y="178.04" font-size="6.5" text-anchor="end">100</text>
<line x1="51.00" y1="226.01" x2="52.00" y2="226.01" stroke="#231f20" stroke-width="0.6" />
<line x1="51.00" y1="214.83" x2="52.00" y2="214.83" stroke="#231f20" stroke-width="0.6" />
<line x1="51.00" y1="203.65" x2="52.00" y2="203.65" stroke="#231f20" stroke-width="0.6" />
<line x1="51.00" y1="192.47" x2="52.00" y2="192.47" stroke="#231f20" stroke-width="0.6" />
<line x1="51.00" y1="181.29" x2="52.00" y2="181.29" stroke="#231f20" stroke-width="0.6" />
<text x="17.30" y="203.71" font-size="7.8" text-anchor="middle" textLength="41" lengthAdjust="spacingAndGlyphs" transform="rotate(-90 17.30 200.90)" style="stroke-width:0.26px">Percentage of</text>
<text x="26.90" y="203.71" font-size="7.8" text-anchor="middle" textLength="46" lengthAdjust="spacingAndGlyphs" transform="rotate(-90 26.90 200.90)" style="stroke-width:0.26px">subpopulations</text>
<rect x="55.00" y="180.45" width="6.20" height="51.15" fill="#a3a3a3" />
<rect x="55.00" y="180.17" width="6.20" height="0.28" fill="#231f20" />
<rect x="55.00" y="180.00" width="6.20" height="0.17" fill="#f2c318" />
<rect x="55.00" y="175.70" width="6.20" height="4.30" fill="#df1a78" />
<ellipse cx="58.10" cy="177.85" rx="1.9" ry="1.55" fill="#9e0f45"/>
<line x1="58.10" y1="174.50" x2="58.10" y2="177.20" stroke="#231f20" stroke-width="0.6" />
<line x1="57.00" y1="174.50" x2="59.20" y2="174.50" stroke="#231f20" stroke-width="0.6" />
<rect x="64.57" y="184.64" width="6.20" height="46.96" fill="#a3a3a3" />
<rect x="64.57" y="183.81" width="6.20" height="0.84" fill="#231f20" />
<rect x="64.57" y="182.58" width="6.20" height="1.23" fill="#f2c318" />
<rect x="64.57" y="176.43" width="6.20" height="6.15" fill="#df1a78" />
<ellipse cx="67.67" cy="179.50" rx="1.9" ry="2.47" fill="#9e0f45"/>
<line x1="67.67" y1="175.23" x2="67.67" y2="177.93" stroke="#231f20" stroke-width="0.6" />
<line x1="66.57" y1="175.23" x2="68.77" y2="175.23" stroke="#231f20" stroke-width="0.6" />
<rect x="74.14" y="181.57" width="6.20" height="50.03" fill="#a3a3a3" />
<rect x="74.14" y="181.23" width="6.20" height="0.34" fill="#231f20" />
<rect x="74.14" y="180.95" width="6.20" height="0.28" fill="#f2c318" />
<rect x="74.14" y="175.70" width="6.20" height="5.25" fill="#df1a78" />
<ellipse cx="77.24" cy="178.33" rx="1.9" ry="2.03" fill="#9e0f45"/>
<line x1="77.24" y1="174.50" x2="77.24" y2="177.20" stroke="#231f20" stroke-width="0.6" />
<line x1="76.14" y1="174.50" x2="78.34" y2="174.50" stroke="#231f20" stroke-width="0.6" />
<rect x="83.71" y="183.25" width="6.20" height="48.35" fill="#a3a3a3" />
<rect x="83.71" y="182.58" width="6.20" height="0.67" fill="#231f20" />
<rect x="83.71" y="182.13" width="6.20" height="0.45" fill="#f2c318" />
<rect x="83.71" y="175.70" width="6.20" height="6.43" fill="#df1a78" />
<ellipse cx="86.81" cy="178.91" rx="1.9" ry="2.61" fill="#9e0f45"/>
<line x1="86.81" y1="174.50" x2="86.81" y2="177.20" stroke="#231f20" stroke-width="0.6" />
<line x1="85.71" y1="174.50" x2="87.91" y2="174.50" stroke="#231f20" stroke-width="0.6" />
<rect x="93.28" y="180.73" width="6.20" height="50.87" fill="#a3a3a3" />
<rect x="93.28" y="180.51" width="6.20" height="0.22" fill="#231f20" />
<rect x="93.28" y="180.28" width="6.20" height="0.22" fill="#f2c318" />
<rect x="93.28" y="175.70" width="6.20" height="4.58" fill="#df1a78" />
<ellipse cx="96.38" cy="177.99" rx="1.9" ry="1.69" fill="#9e0f45"/>
<line x1="96.38" y1="174.50" x2="96.38" y2="177.20" stroke="#231f20" stroke-width="0.6" />
<line x1="95.28" y1="174.50" x2="97.48" y2="174.50" stroke="#231f20" stroke-width="0.6" />
<rect x="102.85" y="180.17" width="6.20" height="51.43" fill="#a3a3a3" />
<rect x="102.85" y="179.95" width="6.20" height="0.22" fill="#231f20" />
<rect x="102.85" y="179.72" width="6.20" height="0.22" fill="#f2c318" />
<rect x="102.85" y="175.70" width="6.20" height="4.02" fill="#df1a78" />
<ellipse cx="105.95" cy="177.71" rx="1.9" ry="1.41" fill="#9e0f45"/>
<line x1="105.95" y1="174.50" x2="105.95" y2="177.20" stroke="#231f20" stroke-width="0.6" />
<line x1="104.85" y1="174.50" x2="107.05" y2="174.50" stroke="#231f20" stroke-width="0.6" />
<rect x="112.42" y="180.17" width="6.20" height="51.43" fill="#a3a3a3" />
<rect x="112.42" y="179.95" width="6.20" height="0.22" fill="#231f20" />
<rect x="112.42" y="179.72" width="6.20" height="0.22" fill="#f2c318" />
<rect x="112.42" y="175.70" width="6.20" height="4.02" fill="#df1a78" />
<ellipse cx="115.52" cy="177.71" rx="1.9" ry="1.41" fill="#9e0f45"/>
<line x1="115.52" y1="174.50" x2="115.52" y2="177.20" stroke="#231f20" stroke-width="0.6" />
<line x1="114.42" y1="174.50" x2="116.62" y2="174.50" stroke="#231f20" stroke-width="0.6" />
<rect x="121.99" y="180.17" width="6.20" height="51.43" fill="#a3a3a3" />
<rect x="121.99" y="179.95" width="6.20" height="0.22" fill="#231f20" />
<rect x="121.99" y="179.72" width="6.20" height="0.22" fill="#f2c318" />
<rect x="121.99" y="175.70" width="6.20" height="4.02" fill="#df1a78" />
<ellipse cx="125.09" cy="177.71" rx="1.9" ry="1.41" fill="#9e0f45"/>
<line x1="125.09" y1="174.50" x2="125.09" y2="177.20" stroke="#231f20" stroke-width="0.6" />
<line x1="123.99" y1="174.50" x2="126.19" y2="174.50" stroke="#231f20" stroke-width="0.6" />
<line x1="51.60" y1="231.50" x2="130.00" y2="231.50" stroke="#231f20" stroke-width="0.9" />
<line x1="58.50" y1="231.60" x2="58.50" y2="233.20" stroke="#231f20" stroke-width="0.9" />
<line x1="67.50" y1="231.60" x2="67.50" y2="233.20" stroke="#231f20" stroke-width="0.9" />
<line x1="77.50" y1="231.60" x2="77.50" y2="233.20" stroke="#231f20" stroke-width="0.9" />
<line x1="86.50" y1="231.60" x2="86.50" y2="233.20" stroke="#231f20" stroke-width="0.9" />
<line x1="96.50" y1="231.60" x2="96.50" y2="233.20" stroke="#231f20" stroke-width="0.9" />
<line x1="105.50" y1="231.60" x2="105.50" y2="233.20" stroke="#231f20" stroke-width="0.9" />
<line x1="115.50" y1="231.60" x2="115.50" y2="233.20" stroke="#231f20" stroke-width="0.9" />
<line x1="125.50" y1="231.60" x2="125.50" y2="233.20" stroke="#231f20" stroke-width="0.9" />
<path d="M57.5,175.2 L57.5,173.5 L69.5,173.5 L69.5,175.2" fill="none" stroke="#231f20" stroke-width="0.9" />
<text x="62.80" y="172.98" font-size="5.5" text-anchor="middle">**</text>
<line x1="67.00" y1="170.50" x2="116.00" y2="170.50" stroke="#231f20" stroke-width="0.9" />
<text x="91.50" y="169.88" font-size="5.5" text-anchor="middle">**</text>
<text x="62.00" y="239.90" font-size="6.3" text-anchor="end" transform="rotate(-45 62.00 239.90)">UT</text>
<text x="71.57" y="239.90" font-size="6.3" text-anchor="end" transform="rotate(-45 71.57 239.90)">Mock electro</text>
<text x="81.14" y="239.90" font-size="6.3" text-anchor="end" transform="rotate(-45 81.14 239.90)">25 pmol</text>
<text x="90.71" y="239.90" font-size="6.3" text-anchor="end" transform="rotate(-45 90.71 239.90)">50 pmol</text>
<text x="100.28" y="239.90" font-size="6.3" text-anchor="end" transform="rotate(-45 100.28 239.90)">Empty</text>
<text x="109.85" y="239.90" font-size="6.3" text-anchor="end" transform="rotate(-45 109.85 239.90)">1.0</text>
<text x="119.42" y="239.90" font-size="6.3" text-anchor="end" transform="rotate(-45 119.42 239.90)">1.5</text>
<text x="128.99" y="239.90" font-size="6.3" text-anchor="end" transform="rotate(-45 128.99 239.90)">2.0</text>
<line x1="62.00" y1="269.50" x2="78.80" y2="269.50" stroke="#231f20" stroke-width="0.9" />
<line x1="84.50" y1="269.50" x2="128.00" y2="269.50" stroke="#231f20" stroke-width="0.9" />
<text x="70.40" y="278.43" font-size="6.2" text-anchor="middle">RNP</text>
<text x="106.20" y="278.43" font-size="6.2" text-anchor="middle">LNPs</text>
<rect x="36.00" y="284.50" width="4.00" height="2.00" fill="#a3a3a3" />
<text x="42.60" y="287.73" font-size="6.2">Live</text>
<rect x="86.00" y="284.50" width="4.00" height="2.00" fill="#d6186a" />
<text x="92.60" y="287.73" font-size="6.2">Late apoptotic</text>
<rect x="36.00" y="292.00" width="4.00" height="2.00" fill="#f2c318" />
<text x="42.60" y="295.23" font-size="6.2">Early apoptotic</text>
<rect x="86.00" y="292.00" width="4.00" height="2.00" fill="#231f20" />
<text x="92.60" y="295.23" font-size="6.2">Necrotic</text>
<text x="150.2" y="160.16" font-size="11.2" font-weight="bold" style="stroke-width:0.45px">E</text>
<line x1="184.50" y1="232.60" x2="184.50" y2="163.50" stroke="#231f20" stroke-width="1.1" />
<line x1="181.70" y1="164.50" x2="184.10" y2="164.50" stroke="#231f20" stroke-width="0.9" />
<text x="178.70" y="166.60" font-size="6.0" text-anchor="end" textLength="16" lengthAdjust="spacingAndGlyphs">8×10<tspan font-size="3.6" dy="-2.2">6</tspan></text>
<line x1="181.70" y1="176.50" x2="184.10" y2="176.50" stroke="#231f20" stroke-width="0.9" />
<text x="178.70" y="178.30" font-size="6.0" text-anchor="end" textLength="16" lengthAdjust="spacingAndGlyphs">4×10<tspan font-size="3.6" dy="-2.2">6</tspan></text>
<line x1="181.70" y1="187.50" x2="184.10" y2="187.50" stroke="#231f20" stroke-width="0.9" />
<text x="178.70" y="189.50" font-size="6.0" text-anchor="end" textLength="16" lengthAdjust="spacingAndGlyphs">2×10<tspan font-size="3.6" dy="-2.2">6</tspan></text>
<line x1="181.70" y1="198.50" x2="184.10" y2="198.50" stroke="#231f20" stroke-width="0.9" />
<text x="178.70" y="200.90" font-size="6.0" text-anchor="end" textLength="16" lengthAdjust="spacingAndGlyphs">1×10<tspan font-size="3.6" dy="-2.2">6</tspan></text>
<line x1="181.70" y1="210.50" x2="184.10" y2="210.50" stroke="#231f20" stroke-width="0.9" />
<text x="178.70" y="212.10" font-size="6.0" text-anchor="end" textLength="16" lengthAdjust="spacingAndGlyphs">5×10<tspan font-size="3.6" dy="-2.2">5</tspan></text>
<line x1="181.70" y1="220.50" x2="184.10" y2="220.50" stroke="#231f20" stroke-width="0.9" />
<text x="178.70" y="222.70" font-size="6.0" text-anchor="end" textLength="16" lengthAdjust="spacingAndGlyphs">3×10<tspan font-size="3.6" dy="-2.2">5</tspan></text>
<line x1="181.70" y1="232.50" x2="184.10" y2="232.50" stroke="#231f20" stroke-width="0.9" />
<text x="178.70" y="234.30" font-size="6.0" text-anchor="end" textLength="16" lengthAdjust="spacingAndGlyphs">1×10<tspan font-size="3.6" dy="-2.2">5</tspan></text>
<line x1="183.10" y1="170.35" x2="184.10" y2="170.35" stroke="#231f20" stroke-width="0.6" />
<line x1="183.10" y1="181.80" x2="184.10" y2="181.80" stroke="#231f20" stroke-width="0.6" />
<line x1="183.10" y1="193.10" x2="184.10" y2="193.10" stroke="#231f20" stroke-width="0.6" />
<line x1="183.10" y1="204.40" x2="184.10" y2="204.40" stroke="#231f20" stroke-width="0.6" />
<line x1="183.10" y1="215.30" x2="184.10" y2="215.30" stroke="#231f20" stroke-width="0.6" />
<line x1="183.10" y1="226.40" x2="184.10" y2="226.40" stroke="#231f20" stroke-width="0.6" />
<text x="153.50" y="200.81" font-size="7.8" text-anchor="middle" textLength="44" lengthAdjust="spacingAndGlyphs" transform="rotate(-90 153.50 198.00)" style="stroke-width:0.26px">Number of cells</text>
<line x1="183.70" y1="232.50" x2="246.50" y2="232.50" stroke="#231f20" stroke-width="0.9" />
<line x1="184.50" y1="232.20" x2="184.50" y2="234.40" stroke="#231f20" stroke-width="0.9" />
<text x="184.10" y="243.94" font-size="6.5" text-anchor="middle">0</text>
<line x1="199.50" y1="232.20" x2="199.50" y2="234.40" stroke="#231f20" stroke-width="0.9" />
<text x="199.60" y="243.94" font-size="6.5" text-anchor="middle">2</text>
<line x1="214.50" y1="232.20" x2="214.50" y2="234.40" stroke="#231f20" stroke-width="0.9" />
<text x="214.80" y="243.94" font-size="6.5" text-anchor="middle">4</text>
<line x1="229.50" y1="232.20" x2="229.50" y2="234.40" stroke="#231f20" stroke-width="0.9" />
<text x="229.60" y="243.94" font-size="6.5" text-anchor="middle">6</text>
<line x1="245.50" y1="232.20" x2="245.50" y2="234.40" stroke="#231f20" stroke-width="0.9" />
<text x="245.50" y="243.94" font-size="6.5" text-anchor="middle">8</text>
<text x="215.80" y="255.01" font-size="7.8" text-anchor="middle" textLength="52" lengthAdjust="spacingAndGlyphs" style="stroke-width:0.26px">Days after editing</text>
<line x1="191.77" y1="210.80" x2="191.77" y2="217.20" stroke="#8f86d6" stroke-width="0.5" />
<line x1="214.78" y1="197.30" x2="214.78" y2="203.70" stroke="#8f86d6" stroke-width="0.5" />
<line x1="237.79" y1="174.60" x2="237.79" y2="181.00" stroke="#8f86d6" stroke-width="0.5" />
<path d="M184.10,218.00 L191.77,214.00 L214.78,200.50 L237.79,177.80" fill="none" stroke="#8f86d6" stroke-width="1.1" stroke-linejoin="round"/>
<circle cx="184.10" cy="218.00" r="1.10" fill="#8f86d6" />
<circle cx="191.77" cy="214.00" r="1.10" fill="#8f86d6" />
<circle cx="214.78" cy="200.50" r="1.10" fill="#8f86d6" />
<circle cx="237.79" cy="177.80" r="1.10" fill="#8f86d6" />
<line x1="191.77" y1="212.80" x2="191.77" y2="219.20" stroke="#c8c86a" stroke-width="0.5" />
<line x1="214.78" y1="203.80" x2="214.78" y2="210.20" stroke="#c8c86a" stroke-width="0.5" />
<line x1="237.79" y1="183.80" x2="237.79" y2="190.20" stroke="#c8c86a" stroke-width="0.5" />
<path d="M184.10,218.00 L191.77,216.00 L214.78,207.00 L237.79,187.00" fill="none" stroke="#c8c86a" stroke-width="1.1" stroke-linejoin="round"/>
<circle cx="184.10" cy="218.00" r="1.10" fill="#c8c86a" />
<circle cx="191.77" cy="216.00" r="1.10" fill="#c8c86a" />
<circle cx="214.78" cy="207.00" r="1.10" fill="#c8c86a" />
<circle cx="237.79" cy="187.00" r="1.10" fill="#c8c86a" />
<line x1="191.77" y1="216.80" x2="191.77" y2="223.20" stroke="#58b6e8" stroke-width="0.5" />
<line x1="214.78" y1="206.80" x2="214.78" y2="213.20" stroke="#58b6e8" stroke-width="0.5" />
<line x1="237.79" y1="187.80" x2="237.79" y2="194.20" stroke="#58b6e8" stroke-width="0.5" />
<path d="M184.10,218.00 L191.77,220.00 L214.78,210.00 L237.79,191.00" fill="none" stroke="#58b6e8" stroke-width="1.1" stroke-linejoin="round"/>
<circle cx="184.10" cy="218.00" r="1.10" fill="#58b6e8" />
<circle cx="191.77" cy="220.00" r="1.10" fill="#58b6e8" />
<circle cx="214.78" cy="210.00" r="1.10" fill="#58b6e8" />
<circle cx="237.79" cy="191.00" r="1.10" fill="#58b6e8" />
<line x1="191.77" y1="209.80" x2="191.77" y2="216.20" stroke="#17365e" stroke-width="0.5" />
<line x1="214.78" y1="201.80" x2="214.78" y2="208.20" stroke="#17365e" stroke-width="0.5" />
<line x1="237.79" y1="186.80" x2="237.79" y2="193.20" stroke="#17365e" stroke-width="0.5" />
<path d="M184.10,218.00 L191.77,213.00 L214.78,205.00 L237.79,190.00" fill="none" stroke="#17365e" stroke-width="1.1" stroke-linejoin="round"/>
<circle cx="184.10" cy="218.00" r="1.10" fill="#17365e" />
<circle cx="191.77" cy="213.00" r="1.10" fill="#17365e" />
<circle cx="214.78" cy="205.00" r="1.10" fill="#17365e" />
<circle cx="237.79" cy="190.00" r="1.10" fill="#17365e" />
<line x1="191.77" y1="210.30" x2="191.77" y2="216.70" stroke="#f29a38" stroke-width="0.5" />
<line x1="214.78" y1="198.80" x2="214.78" y2="205.20" stroke="#f29a38" stroke-width="0.5" />
<line x1="237.79" y1="178.80" x2="237.79" y2="185.20" stroke="#f29a38" stroke-width="0.5" />
<path d="M184.10,218.00 L191.77,213.50 L214.78,202.00 L237.79,182.00" fill="none" stroke="#f29a38" stroke-width="1.1" stroke-linejoin="round"/>
<circle cx="184.10" cy="218.00" r="1.10" fill="#f29a38" />
<circle cx="191.77" cy="213.50" r="1.10" fill="#f29a38" />
<circle cx="214.78" cy="202.00" r="1.10" fill="#f29a38" />
<circle cx="237.79" cy="182.00" r="1.10" fill="#f29a38" />
<line x1="191.77" y1="210.80" x2="191.77" y2="217.20" stroke="#3dae49" stroke-width="0.5" />
<line x1="214.78" y1="200.80" x2="214.78" y2="207.20" stroke="#3dae49" stroke-width="0.5" />
<line x1="237.79" y1="180.80" x2="237.79" y2="187.20" stroke="#3dae49" stroke-width="0.5" />
<path d="M184.10,218.00 L191.77,214.00 L214.78,204.00 L237.79,184.00" fill="none" stroke="#3dae49" stroke-width="1.1" stroke-linejoin="round"/>
<circle cx="184.10" cy="218.00" r="1.10" fill="#3dae49" />
<circle cx="191.77" cy="214.00" r="1.10" fill="#3dae49" />
<circle cx="214.78" cy="204.00" r="1.10" fill="#3dae49" />
<circle cx="237.79" cy="184.00" r="1.10" fill="#3dae49" />
<line x1="191.77" y1="211.30" x2="191.77" y2="217.70" stroke="#8e1b1b" stroke-width="0.5" />
<line x1="214.78" y1="202.30" x2="214.78" y2="208.70" stroke="#8e1b1b" stroke-width="0.5" />
<line x1="237.79" y1="185.80" x2="237.79" y2="192.20" stroke="#8e1b1b" stroke-width="0.5" />
<path d="M184.10,218.00 L191.77,214.50 L214.78,205.50 L237.79,189.00" fill="none" stroke="#8e1b1b" stroke-width="1.1" stroke-linejoin="round"/>
<circle cx="184.10" cy="218.00" r="1.10" fill="#8e1b1b" />
<circle cx="191.77" cy="214.50" r="1.10" fill="#8e1b1b" />
<circle cx="214.78" cy="205.50" r="1.10" fill="#8e1b1b" />
<circle cx="237.79" cy="189.00" r="1.10" fill="#8e1b1b" />
<line x1="191.77" y1="211.80" x2="191.77" y2="218.20" stroke="#2c6d7a" stroke-width="0.5" />
<line x1="214.78" y1="207.80" x2="214.78" y2="214.20" stroke="#2c6d7a" stroke-width="0.5" />
<line x1="237.79" y1="192.80" x2="237.79" y2="199.20" stroke="#2c6d7a" stroke-width="0.5" />
<path d="M184.10,218.00 L191.77,215.00 L214.78,211.00 L237.79,196.00" fill="none" stroke="#2c6d7a" stroke-width="1.1" stroke-linejoin="round"/>
<circle cx="184.10" cy="218.00" r="1.10" fill="#2c6d7a" />
<circle cx="191.77" cy="215.00" r="1.10" fill="#2c6d7a" />
<circle cx="214.78" cy="211.00" r="1.10" fill="#2c6d7a" />
<circle cx="237.79" cy="196.00" r="1.10" fill="#2c6d7a" />
<line x1="163.20" y1="264.50" x2="168.40" y2="264.50" stroke="#8f86d6" stroke-width="0.9" />
<circle cx="165.80" cy="264.00" r="0.90" fill="#8f86d6" />
<text x="172.00" y="266.16" font-size="6.0">UT</text>
<line x1="163.20" y1="271.50" x2="168.40" y2="271.50" stroke="#c8c86a" stroke-width="0.9" />
<circle cx="165.80" cy="271.40" r="0.90" fill="#c8c86a" />
<text x="172.00" y="273.56" font-size="6.0">Mock electro</text>
<line x1="163.20" y1="279.50" x2="168.40" y2="279.50" stroke="#58b6e8" stroke-width="0.9" />
<circle cx="165.80" cy="279.00" r="0.90" fill="#58b6e8" />
<text x="172.00" y="281.16" font-size="6.0">25 pmol</text>
<line x1="163.20" y1="286.50" x2="168.40" y2="286.50" stroke="#17365e" stroke-width="0.9" />
<circle cx="165.80" cy="286.50" r="0.90" fill="#17365e" />
<text x="172.00" y="288.66" font-size="6.0">50 pmol</text>
<line x1="218.40" y1="264.50" x2="223.60" y2="264.50" stroke="#f29a38" stroke-width="0.9" />
<circle cx="221.00" cy="264.00" r="0.90" fill="#f29a38" />
<text x="227.20" y="266.16" font-size="6.0">Empty</text>
<line x1="218.40" y1="271.50" x2="223.60" y2="271.50" stroke="#3dae49" stroke-width="0.9" />
<circle cx="221.00" cy="271.40" r="0.90" fill="#3dae49" />
<text x="227.20" y="273.56" font-size="6.0">1.0</text>
<line x1="218.40" y1="279.50" x2="223.60" y2="279.50" stroke="#8e1b1b" stroke-width="0.9" />
<circle cx="221.00" cy="279.00" r="0.90" fill="#8e1b1b" />
<text x="227.20" y="281.16" font-size="6.0">1.5</text>
<line x1="218.40" y1="286.50" x2="223.60" y2="286.50" stroke="#2c6d7a" stroke-width="0.9" />
<circle cx="221.00" cy="286.50" r="0.90" fill="#2c6d7a" />
<text x="227.20" y="288.66" font-size="6.0">2.0</text>
<line x1="197.50" y1="275.60" x2="197.50" y2="289.60" stroke="#231f20" stroke-width="0.9" />
<text x="200.60" y="284.16" font-size="6.0">RNP</text>
<line x1="239.50" y1="268.00" x2="239.50" y2="289.60" stroke="#231f20" stroke-width="0.9" />
<text x="242.80" y="280.66" font-size="6.0">LNP</text>
<text x="262.9" y="160.16" font-size="11.2" font-weight="bold" style="stroke-width:0.45px">F</text>
<line x1="301.50" y1="161.60" x2="301.50" y2="232.20" stroke="#231f20" stroke-width="1.1" />
<line x1="299.30" y1="231.50" x2="301.50" y2="231.50" stroke="#231f20" stroke-width="0.9" />
<text x="296.10" y="234.04" font-size="6.5" text-anchor="end">0</text>
<line x1="299.30" y1="219.50" x2="301.50" y2="219.50" stroke="#231f20" stroke-width="0.9" />
<text x="296.10" y="221.82" font-size="6.5" text-anchor="end">20</text>
<line x1="299.30" y1="207.50" x2="301.50" y2="207.50" stroke="#231f20" stroke-width="0.9" />
<text x="296.10" y="209.60" font-size="6.5" text-anchor="end">40</text>
<line x1="299.30" y1="195.50" x2="301.50" y2="195.50" stroke="#231f20" stroke-width="0.9" />
<text x="296.10" y="197.38" font-size="6.5" text-anchor="end">60</text>
<line x1="299.30" y1="182.50" x2="301.50" y2="182.50" stroke="#231f20" stroke-width="0.9" />
<text x="296.10" y="185.16" font-size="6.5" text-anchor="end">80</text>
<line x1="299.30" y1="170.50" x2="301.50" y2="170.50" stroke="#231f20" stroke-width="0.9" />
<text x="296.10" y="172.94" font-size="6.5" text-anchor="end">100</text>
<line x1="300.50" y1="225.59" x2="301.50" y2="225.59" stroke="#231f20" stroke-width="0.6" />
<line x1="300.50" y1="213.37" x2="301.50" y2="213.37" stroke="#231f20" stroke-width="0.6" />
<line x1="300.50" y1="201.15" x2="301.50" y2="201.15" stroke="#231f20" stroke-width="0.6" />
<line x1="300.50" y1="188.93" x2="301.50" y2="188.93" stroke="#231f20" stroke-width="0.6" />
<line x1="300.50" y1="176.71" x2="301.50" y2="176.71" stroke="#231f20" stroke-width="0.6" />
<line x1="300.50" y1="164.49" x2="301.50" y2="164.49" stroke="#231f20" stroke-width="0.6" />
<text x="267.50" y="199.21" font-size="7.8" text-anchor="middle" textLength="41" lengthAdjust="spacingAndGlyphs" transform="rotate(-90 267.50 196.40)" style="stroke-width:0.26px">Percentage of</text>
<text x="277.50" y="199.21" font-size="7.8" text-anchor="middle" textLength="46.8" lengthAdjust="spacingAndGlyphs" transform="rotate(-90 277.50 196.40)" style="stroke-width:0.26px">subpopulations</text>
<rect x="305.40" y="226.20" width="6.20" height="5.50" fill="#b3173c" />
<rect x="305.40" y="187.71" width="6.20" height="38.49" fill="#5a1f6e" />
<rect x="305.40" y="182.21" width="6.20" height="5.50" fill="#3cb44b" />
<rect x="305.40" y="171.21" width="6.20" height="11.00" fill="#1d4f7f" />
<line x1="308.50" y1="167.24" x2="308.50" y2="171.21" stroke="#231f20" stroke-width="0.9" />
<line x1="307.00" y1="167.50" x2="310.00" y2="167.50" stroke="#231f20" stroke-width="0.9" />
<line x1="308.50" y1="224.67" x2="308.50" y2="227.73" stroke="#231f20" stroke-width="0.5" />
<line x1="307.60" y1="224.67" x2="309.40" y2="224.67" stroke="#231f20" stroke-width="0.5" />
<line x1="308.50" y1="186.18" x2="308.50" y2="189.24" stroke="#231f20" stroke-width="0.5" />
<line x1="307.60" y1="186.18" x2="309.40" y2="186.18" stroke="#231f20" stroke-width="0.5" />
<line x1="308.50" y1="180.68" x2="308.50" y2="183.74" stroke="#231f20" stroke-width="0.5" />
<line x1="307.60" y1="180.68" x2="309.40" y2="180.68" stroke="#231f20" stroke-width="0.5" />
<rect x="315.70" y="227.42" width="6.20" height="4.28" fill="#b3173c" />
<rect x="315.70" y="188.93" width="6.20" height="38.49" fill="#5a1f6e" />
<rect x="315.70" y="183.43" width="6.20" height="5.50" fill="#3cb44b" />
<rect x="315.70" y="171.82" width="6.20" height="11.61" fill="#1d4f7f" />
<line x1="318.50" y1="167.85" x2="318.50" y2="171.82" stroke="#231f20" stroke-width="0.9" />
<line x1="317.30" y1="167.50" x2="320.30" y2="167.50" stroke="#231f20" stroke-width="0.9" />
<line x1="318.80" y1="225.90" x2="318.80" y2="228.95" stroke="#231f20" stroke-width="0.5" />
<line x1="317.90" y1="225.90" x2="319.70" y2="225.90" stroke="#231f20" stroke-width="0.5" />
<line x1="318.80" y1="187.40" x2="318.80" y2="190.46" stroke="#231f20" stroke-width="0.5" />
<line x1="317.90" y1="187.40" x2="319.70" y2="187.40" stroke="#231f20" stroke-width="0.5" />
<line x1="318.80" y1="181.90" x2="318.80" y2="184.96" stroke="#231f20" stroke-width="0.5" />
<line x1="317.90" y1="181.90" x2="319.70" y2="181.90" stroke="#231f20" stroke-width="0.5" />
<rect x="326.00" y="226.81" width="6.20" height="4.89" fill="#b3173c" />
<rect x="326.00" y="188.93" width="6.20" height="37.88" fill="#5a1f6e" />
<rect x="326.00" y="183.43" width="6.20" height="5.50" fill="#3cb44b" />
<rect x="326.00" y="172.43" width="6.20" height="11.00" fill="#1d4f7f" />
<line x1="329.50" y1="168.46" x2="329.50" y2="172.43" stroke="#231f20" stroke-width="0.9" />
<line x1="327.60" y1="168.50" x2="330.60" y2="168.50" stroke="#231f20" stroke-width="0.9" />
<line x1="329.10" y1="225.28" x2="329.10" y2="228.34" stroke="#231f20" stroke-width="0.5" />
<line x1="328.20" y1="225.28" x2="330.00" y2="225.28" stroke="#231f20" stroke-width="0.5" />
<line x1="329.10" y1="187.40" x2="329.10" y2="190.46" stroke="#231f20" stroke-width="0.5" />
<line x1="328.20" y1="187.40" x2="330.00" y2="187.40" stroke="#231f20" stroke-width="0.5" />
<line x1="329.10" y1="181.90" x2="329.10" y2="184.96" stroke="#231f20" stroke-width="0.5" />
<line x1="328.20" y1="181.90" x2="330.00" y2="181.90" stroke="#231f20" stroke-width="0.5" />
<rect x="336.30" y="228.03" width="6.20" height="3.67" fill="#b3173c" />
<rect x="336.30" y="187.71" width="6.20" height="40.33" fill="#5a1f6e" />
<rect x="336.30" y="182.82" width="6.20" height="4.89" fill="#3cb44b" />
<rect x="336.30" y="171.82" width="6.20" height="11.00" fill="#1d4f7f" />
<line x1="339.50" y1="167.85" x2="339.50" y2="171.82" stroke="#231f20" stroke-width="0.9" />
<line x1="337.90" y1="167.50" x2="340.90" y2="167.50" stroke="#231f20" stroke-width="0.9" />
<line x1="339.40" y1="226.51" x2="339.40" y2="229.56" stroke="#231f20" stroke-width="0.5" />
<line x1="338.50" y1="226.51" x2="340.30" y2="226.51" stroke="#231f20" stroke-width="0.5" />
<line x1="339.40" y1="186.18" x2="339.40" y2="189.24" stroke="#231f20" stroke-width="0.5" />
<line x1="338.50" y1="186.18" x2="340.30" y2="186.18" stroke="#231f20" stroke-width="0.5" />
<line x1="339.40" y1="181.29" x2="339.40" y2="184.35" stroke="#231f20" stroke-width="0.5" />
<line x1="338.50" y1="181.29" x2="340.30" y2="181.29" stroke="#231f20" stroke-width="0.5" />
<rect x="346.60" y="226.81" width="6.20" height="4.89" fill="#b3173c" />
<rect x="346.60" y="190.15" width="6.20" height="36.66" fill="#5a1f6e" />
<rect x="346.60" y="184.65" width="6.20" height="5.50" fill="#3cb44b" />
<rect x="346.60" y="171.21" width="6.20" height="13.44" fill="#1d4f7f" />
<line x1="349.50" y1="167.24" x2="349.50" y2="171.21" stroke="#231f20" stroke-width="0.9" />
<line x1="348.20" y1="167.50" x2="351.20" y2="167.50" stroke="#231f20" stroke-width="0.9" />
<line x1="349.70" y1="225.28" x2="349.70" y2="228.34" stroke="#231f20" stroke-width="0.5" />
<line x1="348.80" y1="225.28" x2="350.60" y2="225.28" stroke="#231f20" stroke-width="0.5" />
<line x1="349.70" y1="188.62" x2="349.70" y2="191.68" stroke="#231f20" stroke-width="0.5" />
<line x1="348.80" y1="188.62" x2="350.60" y2="188.62" stroke="#231f20" stroke-width="0.5" />
<line x1="349.70" y1="183.13" x2="349.70" y2="186.18" stroke="#231f20" stroke-width="0.5" />
<line x1="348.80" y1="183.13" x2="350.60" y2="183.13" stroke="#231f20" stroke-width="0.5" />
<rect x="356.90" y="226.20" width="6.20" height="5.50" fill="#b3173c" />
<rect x="356.90" y="188.93" width="6.20" height="37.27" fill="#5a1f6e" />
<rect x="356.90" y="183.43" width="6.20" height="5.50" fill="#3cb44b" />
<rect x="356.90" y="171.21" width="6.20" height="12.22" fill="#1d4f7f" />
<line x1="360.50" y1="167.24" x2="360.50" y2="171.21" stroke="#231f20" stroke-width="0.9" />
<line x1="358.50" y1="167.50" x2="361.50" y2="167.50" stroke="#231f20" stroke-width="0.9" />
<line x1="360.00" y1="224.67" x2="360.00" y2="227.73" stroke="#231f20" stroke-width="0.5" />
<line x1="359.10" y1="224.67" x2="360.90" y2="224.67" stroke="#231f20" stroke-width="0.5" />
<line x1="360.00" y1="187.40" x2="360.00" y2="190.46" stroke="#231f20" stroke-width="0.5" />
<line x1="359.10" y1="187.40" x2="360.90" y2="187.40" stroke="#231f20" stroke-width="0.5" />
<line x1="360.00" y1="181.90" x2="360.00" y2="184.96" stroke="#231f20" stroke-width="0.5" />
<line x1="359.10" y1="181.90" x2="360.90" y2="181.90" stroke="#231f20" stroke-width="0.5" />
<rect x="367.20" y="226.20" width="6.20" height="5.50" fill="#b3173c" />
<rect x="367.20" y="188.32" width="6.20" height="37.88" fill="#5a1f6e" />
<rect x="367.20" y="183.43" width="6.20" height="4.89" fill="#3cb44b" />
<rect x="367.20" y="172.43" width="6.20" height="11.00" fill="#1d4f7f" />
<line x1="370.50" y1="168.46" x2="370.50" y2="172.43" stroke="#231f20" stroke-width="0.9" />
<line x1="368.80" y1="168.50" x2="371.80" y2="168.50" stroke="#231f20" stroke-width="0.9" />
<line x1="370.30" y1="224.67" x2="370.30" y2="227.73" stroke="#231f20" stroke-width="0.5" />
<line x1="369.40" y1="224.67" x2="371.20" y2="224.67" stroke="#231f20" stroke-width="0.5" />
<line x1="370.30" y1="186.79" x2="370.30" y2="189.85" stroke="#231f20" stroke-width="0.5" />
<line x1="369.40" y1="186.79" x2="371.20" y2="186.79" stroke="#231f20" stroke-width="0.5" />
<line x1="370.30" y1="181.90" x2="370.30" y2="184.96" stroke="#231f20" stroke-width="0.5" />
<line x1="369.40" y1="181.90" x2="371.20" y2="181.90" stroke="#231f20" stroke-width="0.5" />
<rect x="377.50" y="226.20" width="6.20" height="5.50" fill="#b3173c" />
<rect x="377.50" y="188.93" width="6.20" height="37.27" fill="#5a1f6e" />
<rect x="377.50" y="182.82" width="6.20" height="6.11" fill="#3cb44b" />
<rect x="377.50" y="171.21" width="6.20" height="11.61" fill="#1d4f7f" />
<line x1="380.50" y1="167.24" x2="380.50" y2="171.21" stroke="#231f20" stroke-width="0.9" />
<line x1="379.10" y1="167.50" x2="382.10" y2="167.50" stroke="#231f20" stroke-width="0.9" />
<line x1="380.60" y1="224.67" x2="380.60" y2="227.73" stroke="#231f20" stroke-width="0.5" />
<line x1="379.70" y1="224.67" x2="381.50" y2="224.67" stroke="#231f20" stroke-width="0.5" />
<line x1="380.60" y1="187.40" x2="380.60" y2="190.46" stroke="#231f20" stroke-width="0.5" />
<line x1="379.70" y1="187.40" x2="381.50" y2="187.40" stroke="#231f20" stroke-width="0.5" />
<line x1="380.60" y1="181.29" x2="380.60" y2="184.35" stroke="#231f20" stroke-width="0.5" />
<line x1="379.70" y1="181.29" x2="381.50" y2="181.29" stroke="#231f20" stroke-width="0.5" />
<line x1="301.10" y1="231.50" x2="386.00" y2="231.50" stroke="#231f20" stroke-width="0.9" />
<line x1="308.50" y1="231.70" x2="308.50" y2="233.30" stroke="#231f20" stroke-width="0.9" />
<line x1="318.50" y1="231.70" x2="318.50" y2="233.30" stroke="#231f20" stroke-width="0.9" />
<line x1="329.50" y1="231.70" x2="329.50" y2="233.30" stroke="#231f20" stroke-width="0.9" />
<line x1="339.50" y1="231.70" x2="339.50" y2="233.30" stroke="#231f20" stroke-width="0.9" />
<line x1="349.50" y1="231.70" x2="349.50" y2="233.30" stroke="#231f20" stroke-width="0.9" />
<line x1="360.50" y1="231.70" x2="360.50" y2="233.30" stroke="#231f20" stroke-width="0.9" />
<line x1="370.50" y1="231.70" x2="370.50" y2="233.30" stroke="#231f20" stroke-width="0.9" />
<line x1="380.50" y1="231.70" x2="380.50" y2="233.30" stroke="#231f20" stroke-width="0.9" />
<text x="312.40" y="240.00" font-size="6.3" text-anchor="end" transform="rotate(-45 312.40 240.00)">UT</text>
<text x="322.70" y="240.00" font-size="6.3" text-anchor="end" transform="rotate(-45 322.70 240.00)">Mock electro</text>
<text x="333.00" y="240.00" font-size="6.3" text-anchor="end" transform="rotate(-45 333.00 240.00)">25 pmol</text>
<text x="343.30" y="240.00" font-size="6.3" text-anchor="end" transform="rotate(-45 343.30 240.00)">50 pmol</text>
<text x="353.60" y="240.00" font-size="6.3" text-anchor="end" transform="rotate(-45 353.60 240.00)">Empty</text>
<text x="363.90" y="240.00" font-size="6.3" text-anchor="end" transform="rotate(-45 363.90 240.00)">1.0</text>
<text x="374.20" y="240.00" font-size="6.3" text-anchor="end" transform="rotate(-45 374.20 240.00)">1.5</text>
<text x="384.50" y="240.00" font-size="6.3" text-anchor="end" transform="rotate(-45 384.50 240.00)">2.0</text>
<line x1="312.50" y1="271.50" x2="330.50" y2="271.50" stroke="#231f20" stroke-width="0.9" />
<line x1="338.00" y1="271.50" x2="381.00" y2="271.50" stroke="#231f20" stroke-width="0.9" />
<text x="321.40" y="279.43" font-size="6.2" text-anchor="middle">RNP</text>
<text x="359.60" y="279.43" font-size="6.2" text-anchor="middle">LNPs</text>
<rect x="269.40" y="285.60" width="4.20" height="2.00" fill="#b3173c" />
<text x="276.60" y="288.69" font-size="5.8" textLength="18.8" lengthAdjust="spacingAndGlyphs">CD34–</text>
<rect x="269.40" y="294.00" width="4.20" height="2.00" fill="#5a1f6e" />
<text x="276.60" y="297.09" font-size="5.8" textLength="40.0" lengthAdjust="spacingAndGlyphs">CD34+CD133–</text>
<rect x="321.40" y="285.60" width="4.20" height="2.00" fill="#3cb44b" />
<text x="328.60" y="288.69" font-size="5.8" textLength="59" lengthAdjust="spacingAndGlyphs">CD34+CD133+CD90–</text>
<rect x="321.40" y="294.00" width="4.20" height="2.00" fill="#1d4f7f" />
<text x="328.60" y="297.09" font-size="5.8" textLength="59" lengthAdjust="spacingAndGlyphs">CD34+CD133+CD90+</text>
<text x="397.7" y="160.16" font-size="11.2" font-weight="bold" style="stroke-width:0.45px">G</text>
<line x1="426.50" y1="165.30" x2="426.50" y2="232.30" stroke="#231f20" stroke-width="1.1" />
<line x1="424.10" y1="231.50" x2="426.30" y2="231.50" stroke="#231f20" stroke-width="0.9" />
<text x="420.90" y="234.14" font-size="6.5" text-anchor="end">0</text>
<line x1="424.10" y1="210.50" x2="426.30" y2="210.50" stroke="#231f20" stroke-width="0.9" />
<text x="420.90" y="212.77" font-size="6.5" text-anchor="end">100</text>
<line x1="424.10" y1="189.50" x2="426.30" y2="189.50" stroke="#231f20" stroke-width="0.9" />
<text x="420.90" y="191.41" font-size="6.5" text-anchor="end">200</text>
<line x1="424.10" y1="167.50" x2="426.30" y2="167.50" stroke="#231f20" stroke-width="0.9" />
<text x="420.90" y="170.04" font-size="6.5" text-anchor="end">300</text>
<line x1="425.30" y1="221.12" x2="426.30" y2="221.12" stroke="#231f20" stroke-width="0.6" />
<line x1="425.30" y1="199.75" x2="426.30" y2="199.75" stroke="#231f20" stroke-width="0.6" />
<line x1="425.30" y1="178.38" x2="426.30" y2="178.38" stroke="#231f20" stroke-width="0.6" />
<text x="402.90" y="202.01" font-size="7.8" text-anchor="middle" textLength="59" lengthAdjust="spacingAndGlyphs" transform="rotate(-90 402.90 199.20)" style="stroke-width:0.26px">Number of colonies</text>
<rect x="430.05" y="219.41" width="6.70" height="12.39" fill="#a6bd8f" />
<rect x="430.05" y="191.20" width="6.70" height="28.20" fill="#f28c1e" />
<line x1="433.40" y1="188.64" x2="433.40" y2="191.20" stroke="#231f20" stroke-width="0.6" />
<line x1="432.20" y1="188.64" x2="434.60" y2="188.64" stroke="#231f20" stroke-width="0.6" />
<line x1="433.40" y1="216.20" x2="433.40" y2="219.41" stroke="#231f20" stroke-width="0.6" />
<line x1="432.40" y1="216.20" x2="434.40" y2="216.20" stroke="#231f20" stroke-width="0.6" />
<rect x="440.25" y="219.41" width="6.70" height="12.39" fill="#a6bd8f" />
<rect x="440.25" y="196.97" width="6.70" height="22.44" fill="#f28c1e" />
<line x1="443.60" y1="194.41" x2="443.60" y2="196.97" stroke="#231f20" stroke-width="0.6" />
<line x1="442.40" y1="194.41" x2="444.80" y2="194.41" stroke="#231f20" stroke-width="0.6" />
<line x1="443.60" y1="216.20" x2="443.60" y2="219.41" stroke="#231f20" stroke-width="0.6" />
<line x1="442.60" y1="216.20" x2="444.60" y2="216.20" stroke="#231f20" stroke-width="0.6" />
<rect x="450.45" y="222.83" width="6.70" height="8.97" fill="#a6bd8f" />
<rect x="450.45" y="202.95" width="6.70" height="19.87" fill="#f28c1e" />
<line x1="453.80" y1="200.39" x2="453.80" y2="202.95" stroke="#231f20" stroke-width="0.6" />
<line x1="452.60" y1="200.39" x2="455.00" y2="200.39" stroke="#231f20" stroke-width="0.6" />
<line x1="453.80" y1="219.62" x2="453.80" y2="222.83" stroke="#231f20" stroke-width="0.6" />
<line x1="452.80" y1="219.62" x2="454.80" y2="219.62" stroke="#231f20" stroke-width="0.6" />
<rect x="460.65" y="222.83" width="6.70" height="8.97" fill="#a6bd8f" />
<rect x="460.65" y="200.60" width="6.70" height="22.22" fill="#f28c1e" />
<line x1="464.00" y1="198.04" x2="464.00" y2="200.60" stroke="#231f20" stroke-width="0.6" />
<line x1="462.80" y1="198.04" x2="465.20" y2="198.04" stroke="#231f20" stroke-width="0.6" />
<line x1="464.00" y1="219.62" x2="464.00" y2="222.83" stroke="#231f20" stroke-width="0.6" />
<line x1="463.00" y1="219.62" x2="465.00" y2="219.62" stroke="#231f20" stroke-width="0.6" />
<rect x="470.85" y="219.41" width="6.70" height="12.39" fill="#a6bd8f" />
<rect x="470.85" y="193.34" width="6.70" height="26.07" fill="#f28c1e" />
<line x1="474.20" y1="190.78" x2="474.20" y2="193.34" stroke="#231f20" stroke-width="0.6" />
<line x1="473.00" y1="190.78" x2="475.40" y2="190.78" stroke="#231f20" stroke-width="0.6" />
<line x1="474.20" y1="216.20" x2="474.20" y2="219.41" stroke="#231f20" stroke-width="0.6" />
<line x1="473.20" y1="216.20" x2="475.20" y2="216.20" stroke="#231f20" stroke-width="0.6" />
<rect x="481.05" y="218.98" width="6.70" height="12.82" fill="#a6bd8f" />
<rect x="481.05" y="193.34" width="6.70" height="25.64" fill="#f28c1e" />
<line x1="484.40" y1="190.78" x2="484.40" y2="193.34" stroke="#231f20" stroke-width="0.6" />
<line x1="483.20" y1="190.78" x2="485.60" y2="190.78" stroke="#231f20" stroke-width="0.6" />
<line x1="484.40" y1="215.78" x2="484.40" y2="218.98" stroke="#231f20" stroke-width="0.6" />
<line x1="483.40" y1="215.78" x2="485.40" y2="215.78" stroke="#231f20" stroke-width="0.6" />
<rect x="491.25" y="216.42" width="6.70" height="15.38" fill="#a6bd8f" />
<rect x="491.25" y="187.78" width="6.70" height="28.63" fill="#f28c1e" />
<line x1="494.60" y1="185.22" x2="494.60" y2="187.78" stroke="#231f20" stroke-width="0.6" />
<line x1="493.40" y1="185.22" x2="495.80" y2="185.22" stroke="#231f20" stroke-width="0.6" />
<line x1="494.60" y1="213.21" x2="494.60" y2="216.42" stroke="#231f20" stroke-width="0.6" />
<line x1="493.60" y1="213.21" x2="495.60" y2="213.21" stroke="#231f20" stroke-width="0.6" />
<rect x="501.45" y="218.98" width="6.70" height="12.82" fill="#a6bd8f" />
<rect x="501.45" y="192.27" width="6.70" height="26.71" fill="#f28c1e" />
<line x1="504.80" y1="189.71" x2="504.80" y2="192.27" stroke="#231f20" stroke-width="0.6" />
<line x1="503.60" y1="189.71" x2="506.00" y2="189.71" stroke="#231f20" stroke-width="0.6" />
<line x1="504.80" y1="215.78" x2="504.80" y2="218.98" stroke="#231f20" stroke-width="0.6" />
<line x1="503.80" y1="215.78" x2="505.80" y2="215.78" stroke="#231f20" stroke-width="0.6" />
<line x1="425.90" y1="231.50" x2="509.50" y2="231.50" stroke="#231f20" stroke-width="0.9" />
<line x1="433.50" y1="231.80" x2="433.50" y2="233.40" stroke="#231f20" stroke-width="0.9" />
<line x1="443.50" y1="231.80" x2="443.50" y2="233.40" stroke="#231f20" stroke-width="0.9" />
<line x1="453.50" y1="231.80" x2="453.50" y2="233.40" stroke="#231f20" stroke-width="0.9" />
<line x1="464.50" y1="231.80" x2="464.50" y2="233.40" stroke="#231f20" stroke-width="0.9" />
<line x1="474.50" y1="231.80" x2="474.50" y2="233.40" stroke="#231f20" stroke-width="0.9" />
<line x1="484.50" y1="231.80" x2="484.50" y2="233.40" stroke="#231f20" stroke-width="0.9" />
<line x1="494.50" y1="231.80" x2="494.50" y2="233.40" stroke="#231f20" stroke-width="0.9" />
<line x1="504.50" y1="231.80" x2="504.50" y2="233.40" stroke="#231f20" stroke-width="0.9" />
<text x="437.30" y="240.10" font-size="6.3" text-anchor="end" transform="rotate(-45 437.30 240.10)">UT</text>
<text x="447.50" y="240.10" font-size="6.3" text-anchor="end" transform="rotate(-45 447.50 240.10)">Mock electro</text>
<text x="457.70" y="240.10" font-size="6.3" text-anchor="end" transform="rotate(-45 457.70 240.10)">25 pmol</text>
<text x="467.90" y="240.10" font-size="6.3" text-anchor="end" transform="rotate(-45 467.90 240.10)">50 pmol</text>
<text x="478.10" y="240.10" font-size="6.3" text-anchor="end" transform="rotate(-45 478.10 240.10)">Empty</text>
<text x="488.30" y="240.10" font-size="6.3" text-anchor="end" transform="rotate(-45 488.30 240.10)">1.0</text>
<text x="498.50" y="240.10" font-size="6.3" text-anchor="end" transform="rotate(-45 498.50 240.10)">1.5</text>
<text x="508.70" y="240.10" font-size="6.3" text-anchor="end" transform="rotate(-45 508.70 240.10)">2.0</text>
<path d="M433.50,167.50 L433.50,163.00 L494.50,163.00 L494.50,167.50" fill="none" stroke="#231f20" stroke-width="0.9" />
<line x1="463.50" y1="163.00" x2="463.50" y2="167.50" stroke="#231f20" stroke-width="0.9" />
<text x="448.30" y="162.18" font-size="5.5" text-anchor="middle">***</text>
<text x="479.40" y="162.18" font-size="5.5" text-anchor="middle">***</text>
<path d="M463.5,167.5 L504.5,167.5 L504.5,172.8" fill="none" stroke="#231f20" stroke-width="0.9" />
<text x="480.30" y="166.98" font-size="5.5" text-anchor="middle">*</text>
<path d="M453.5,181 L453.5,173.5 L494.5,173.5 L494.5,179.2" fill="none" stroke="#231f20" stroke-width="0.9" />
<text x="473.90" y="172.78" font-size="5.5" text-anchor="middle">****</text>
<path d="M433.50,185.50 L433.50,181.00 L483.50,181.00 L483.50,185.50" fill="none" stroke="#231f20" stroke-width="0.9" />
<line x1="453.50" y1="181.00" x2="453.50" y2="186.00" stroke="#231f20" stroke-width="1.1" />
<text x="443.40" y="180.48" font-size="5.5" text-anchor="middle">****</text>
<text x="469.00" y="180.48" font-size="5.5" text-anchor="middle">**</text>
<line x1="439.20" y1="268.50" x2="454.00" y2="268.50" stroke="#231f20" stroke-width="0.9" />
<line x1="462.00" y1="268.50" x2="505.20" y2="268.50" stroke="#231f20" stroke-width="0.9" />
<text x="446.60" y="276.43" font-size="6.2" text-anchor="middle">RNP</text>
<text x="483.60" y="276.43" font-size="6.2" text-anchor="middle">LNPs</text>
<rect x="433.00" y="282.40" width="9.00" height="3.80" fill="#a6bd8f" />
<text x="444.60" y="286.53" font-size="6.2" textLength="24.3" lengthAdjust="spacingAndGlyphs">Erythroid</text>
<rect x="472.00" y="282.40" width="9.00" height="3.80" fill="#f28c1e" />
<text x="482.90" y="286.53" font-size="6.2" textLength="21.5" lengthAdjust="spacingAndGlyphs">Myeloid</text>
<text x="9.399999999999999" y="316.66" font-size="11.2" font-weight="bold" style="stroke-width:0.45px">H</text>
<line x1="34.50" y1="328.90" x2="34.50" y2="396.30" stroke="#231f20" stroke-width="1.1" />
<line x1="32.20" y1="395.50" x2="34.40" y2="395.50" stroke="#231f20" stroke-width="0.9" />
<text x="29.00" y="398.14" font-size="6.5" text-anchor="end">0</text>
<line x1="32.20" y1="379.50" x2="34.40" y2="379.50" stroke="#231f20" stroke-width="0.9" />
<text x="29.00" y="381.76" font-size="6.5" text-anchor="end">2</text>
<line x1="32.20" y1="363.50" x2="34.40" y2="363.50" stroke="#231f20" stroke-width="0.9" />
<text x="29.00" y="365.39" font-size="6.5" text-anchor="end">4</text>
<line x1="32.20" y1="346.50" x2="34.40" y2="346.50" stroke="#231f20" stroke-width="0.9" />
<text x="29.00" y="349.01" font-size="6.5" text-anchor="end">6</text>
<line x1="32.20" y1="330.50" x2="34.40" y2="330.50" stroke="#231f20" stroke-width="0.9" />
<text x="29.00" y="332.64" font-size="6.5" text-anchor="end">8</text>
<line x1="33.40" y1="391.71" x2="34.40" y2="391.71" stroke="#231f20" stroke-width="0.6" />
<line x1="33.40" y1="387.61" x2="34.40" y2="387.61" stroke="#231f20" stroke-width="0.6" />
<line x1="33.40" y1="383.52" x2="34.40" y2="383.52" stroke="#231f20" stroke-width="0.6" />
<line x1="33.40" y1="375.33" x2="34.40" y2="375.33" stroke="#231f20" stroke-width="0.6" />
<line x1="33.40" y1="371.24" x2="34.40" y2="371.24" stroke="#231f20" stroke-width="0.6" />
<line x1="33.40" y1="367.14" x2="34.40" y2="367.14" stroke="#231f20" stroke-width="0.6" />
<line x1="33.40" y1="358.96" x2="34.40" y2="358.96" stroke="#231f20" stroke-width="0.6" />
<line x1="33.40" y1="354.86" x2="34.40" y2="354.86" stroke="#231f20" stroke-width="0.6" />
<line x1="33.40" y1="350.77" x2="34.40" y2="350.77" stroke="#231f20" stroke-width="0.6" />
<line x1="33.40" y1="342.58" x2="34.40" y2="342.58" stroke="#231f20" stroke-width="0.6" />
<line x1="33.40" y1="338.49" x2="34.40" y2="338.49" stroke="#231f20" stroke-width="0.6" />
<line x1="33.40" y1="334.39" x2="34.40" y2="334.39" stroke="#231f20" stroke-width="0.6" />
<text x="16.9" y="364.3" font-size="7.8" text-anchor="middle" transform="rotate(-90 16.9 361.8)" textLength="72" lengthAdjust="spacingAndGlyphs">Fold change expr. of <tspan font-style="italic">p21</tspan></text>
<line x1="34.40" y1="387.50" x2="100.00" y2="387.50" stroke="#c8c8c8" stroke-width="0.9" stroke-dasharray="1.5 0.8"/>
<rect x="37.20" y="387.61" width="4.40" height="8.19" fill="#d3d3d3" />
<line x1="37.00" y1="387.61" x2="41.80" y2="387.61" stroke="#231f20" stroke-width="1.4" />
<circle cx="39.40" cy="387.61" r="1.05" fill="#231f20" />
<circle cx="39.40" cy="387.61" r="1.05" fill="#231f20" />
<circle cx="39.40" cy="387.61" r="1.05" fill="#231f20" />
<circle cx="39.40" cy="387.61" r="1.05" fill="#231f20" />
<circle cx="39.40" cy="387.61" r="1.05" fill="#231f20" />
<circle cx="39.40" cy="387.61" r="1.05" fill="#231f20" />
<text x="39.40" y="394.60" font-size="6.4" text-anchor="middle" fill="#555555">1</text>
<rect x="45.10" y="370.01" width="4.40" height="25.79" fill="#d3d3d3" />
<line x1="44.90" y1="370.50" x2="49.70" y2="370.50" stroke="#231f20" stroke-width="0.9" />
<circle cx="48.10" cy="375.33" r="1.05" fill="#231f20" />
<circle cx="48.10" cy="372.06" r="1.05" fill="#231f20" />
<circle cx="46.50" cy="370.42" r="1.05" fill="#231f20" />
<circle cx="48.10" cy="368.78" r="1.05" fill="#231f20" />
<circle cx="46.50" cy="367.14" r="1.05" fill="#231f20" />
<circle cx="47.30" cy="362.23" r="1.05" fill="#231f20" />
<text x="47.30" y="394.60" font-size="6.4" text-anchor="middle" fill="#555555">3</text>
<rect x="52.80" y="358.14" width="4.40" height="37.66" fill="#d3d3d3" />
<line x1="52.60" y1="358.50" x2="57.40" y2="358.50" stroke="#231f20" stroke-width="0.9" />
<circle cx="55.00" cy="366.32" r="1.05" fill="#231f20" />
<circle cx="54.20" cy="360.59" r="1.05" fill="#231f20" />
<circle cx="55.00" cy="358.96" r="1.05" fill="#231f20" />
<circle cx="55.80" cy="357.32" r="1.05" fill="#231f20" />
<circle cx="55.80" cy="354.86" r="1.05" fill="#231f20" />
<circle cx="54.20" cy="346.68" r="1.05" fill="#231f20" />
<text x="55.00" y="394.60" font-size="6.4" text-anchor="middle" fill="#555555">5</text>
<rect x="60.40" y="346.68" width="4.40" height="49.12" fill="#d3d3d3" />
<line x1="60.20" y1="346.50" x2="65.00" y2="346.50" stroke="#231f20" stroke-width="0.9" />
<circle cx="63.40" cy="357.32" r="1.05" fill="#231f20" />
<circle cx="62.60" cy="352.41" r="1.05" fill="#231f20" />
<circle cx="62.60" cy="348.31" r="1.05" fill="#231f20" />
<circle cx="61.80" cy="345.86" r="1.05" fill="#231f20" />
<circle cx="61.80" cy="342.58" r="1.05" fill="#231f20" />
<circle cx="63.40" cy="340.12" r="1.05" fill="#231f20" />
<text x="62.60" y="394.60" font-size="6.4" text-anchor="middle" fill="#555555">6</text>
<rect x="68.00" y="385.98" width="4.40" height="9.82" fill="#d3d3d3" />
<line x1="67.80" y1="385.98" x2="72.60" y2="385.98" stroke="#231f20" stroke-width="1.4" />
<circle cx="70.20" cy="387.61" r="1.05" fill="#231f20" />
<circle cx="70.20" cy="386.79" r="1.05" fill="#231f20" />
<circle cx="71.00" cy="385.98" r="1.05" fill="#231f20" />
<circle cx="69.40" cy="385.16" r="1.05" fill="#231f20" />
<circle cx="70.20" cy="383.52" r="1.05" fill="#231f20" />
<text x="70.20" y="394.60" font-size="6.4" text-anchor="middle" fill="#555555">1</text>
<rect x="75.80" y="376.56" width="4.40" height="19.24" fill="#d3d3d3" />
<line x1="75.60" y1="376.50" x2="80.40" y2="376.50" stroke="#231f20" stroke-width="0.9" />
<circle cx="78.80" cy="381.88" r="1.05" fill="#231f20" />
<circle cx="77.20" cy="381.06" r="1.05" fill="#231f20" />
<circle cx="78.00" cy="376.97" r="1.05" fill="#231f20" />
<circle cx="78.00" cy="376.15" r="1.05" fill="#231f20" />
<circle cx="77.20" cy="374.51" r="1.05" fill="#231f20" />
<text x="78.00" y="394.60" font-size="6.4" text-anchor="middle" fill="#555555">2</text>
<rect x="83.50" y="372.06" width="4.40" height="23.74" fill="#d3d3d3" />
<line x1="83.30" y1="372.50" x2="88.10" y2="372.50" stroke="#231f20" stroke-width="0.9" />
<circle cx="86.50" cy="379.43" r="1.05" fill="#231f20" />
<circle cx="84.90" cy="374.51" r="1.05" fill="#231f20" />
<circle cx="86.50" cy="372.06" r="1.05" fill="#231f20" />
<circle cx="84.90" cy="370.42" r="1.05" fill="#231f20" />
<circle cx="86.50" cy="368.78" r="1.05" fill="#231f20" />
<circle cx="85.70" cy="365.51" r="1.05" fill="#231f20" />
<text x="85.70" y="394.60" font-size="6.4" text-anchor="middle" fill="#555555">3</text>
<rect x="91.20" y="369.19" width="4.40" height="26.61" fill="#d3d3d3" />
<line x1="91.00" y1="369.50" x2="95.80" y2="369.50" stroke="#231f20" stroke-width="0.9" />
<circle cx="93.40" cy="376.97" r="1.05" fill="#231f20" />
<circle cx="93.40" cy="372.88" r="1.05" fill="#231f20" />
<circle cx="93.40" cy="369.60" r="1.05" fill="#231f20" />
<circle cx="94.20" cy="367.96" r="1.05" fill="#231f20" />
<circle cx="93.40" cy="366.32" r="1.05" fill="#231f20" />
<circle cx="93.40" cy="362.23" r="1.05" fill="#231f20" />
<text x="93.40" y="394.60" font-size="6.4" text-anchor="middle" fill="#555555">3</text>
<line x1="34.00" y1="395.50" x2="98.50" y2="395.50" stroke="#231f20" stroke-width="0.9" />
<line x1="39.50" y1="395.80" x2="39.50" y2="397.40" stroke="#231f20" stroke-width="0.9" />
<line x1="47.50" y1="395.80" x2="47.50" y2="397.40" stroke="#231f20" stroke-width="0.9" />
<line x1="55.50" y1="395.80" x2="55.50" y2="397.40" stroke="#231f20" stroke-width="0.9" />
<line x1="62.50" y1="395.80" x2="62.50" y2="397.40" stroke="#231f20" stroke-width="0.9" />
<line x1="70.50" y1="395.80" x2="70.50" y2="397.40" stroke="#231f20" stroke-width="0.9" />
<line x1="78.50" y1="395.80" x2="78.50" y2="397.40" stroke="#231f20" stroke-width="0.9" />
<line x1="85.50" y1="395.80" x2="85.50" y2="397.40" stroke="#231f20" stroke-width="0.9" />
<line x1="93.50" y1="395.80" x2="93.50" y2="397.40" stroke="#231f20" stroke-width="0.9" />
<path d="M35.80,333.10 L35.80,329.60 L62.60,329.60 L62.60,333.10" fill="none" stroke="#231f20" stroke-width="0.6" />
<text x="49.00" y="329.98" font-size="5.5" text-anchor="middle">****</text>
<path d="M35.80,340.70 L35.80,337.20 L70.20,337.20 L70.20,340.70" fill="none" stroke="#231f20" stroke-width="0.6" />
<text x="45.30" y="337.58" font-size="5.5" text-anchor="middle">***</text>
<path d="M61.50,332.80 L61.50,329.80 L70.40,329.80 L70.40,332.80" fill="none" stroke="#231f20" stroke-width="0.6" />
<text x="66.00" y="330.18" font-size="5.5" text-anchor="middle">**</text>
<path d="M61.80,329.00 L61.80,326.00 L78.50,326.00 L78.50,329.00" fill="none" stroke="#231f20" stroke-width="0.6" />
<text x="70.50" y="326.38" font-size="5.5" text-anchor="middle">*</text>
<text x="43.30" y="404.10" font-size="6.3" text-anchor="end" transform="rotate(-45 43.30 404.10)">UT</text>
<text x="51.20" y="404.10" font-size="6.3" text-anchor="end" transform="rotate(-45 51.20 404.10)">Mock electro</text>
<text x="58.90" y="404.10" font-size="6.3" text-anchor="end" transform="rotate(-45 58.90 404.10)">25 pmol</text>
<text x="66.50" y="404.10" font-size="6.3" text-anchor="end" transform="rotate(-45 66.50 404.10)">50 pmol</text>
<text x="74.10" y="404.10" font-size="6.3" text-anchor="end" transform="rotate(-45 74.10 404.10)">Empty</text>
<text x="81.90" y="404.10" font-size="6.3" text-anchor="end" transform="rotate(-45 81.90 404.10)">1.0</text>
<text x="89.60" y="404.10" font-size="6.3" text-anchor="end" transform="rotate(-45 89.60 404.10)">1.5</text>
<text x="97.30" y="404.10" font-size="6.3" text-anchor="end" transform="rotate(-45 97.30 404.10)">2.0</text>
<line x1="40.20" y1="432.50" x2="52.90" y2="432.50" stroke="#231f20" stroke-width="0.9" />
<line x1="58.20" y1="432.50" x2="97.30" y2="432.50" stroke="#231f20" stroke-width="0.9" />
<text x="46.80" y="442.30" font-size="6.4" text-anchor="middle">RNP</text>
<text x="77.80" y="442.30" font-size="6.4" text-anchor="middle">LNPs</text>
<line x1="143.50" y1="325.60" x2="143.50" y2="396.10" stroke="#231f20" stroke-width="1.1" />
<line x1="141.40" y1="395.50" x2="143.60" y2="395.50" stroke="#231f20" stroke-width="0.9" />
<text x="138.20" y="397.94" font-size="6.5" text-anchor="end">0</text>
<line x1="141.40" y1="372.50" x2="143.60" y2="372.50" stroke="#231f20" stroke-width="0.9" />
<text x="138.20" y="375.07" font-size="6.5" text-anchor="end">5</text>
<line x1="141.40" y1="349.50" x2="143.60" y2="349.50" stroke="#231f20" stroke-width="0.9" />
<text x="138.20" y="352.21" font-size="6.5" text-anchor="end">10</text>
<line x1="141.40" y1="327.50" x2="143.60" y2="327.50" stroke="#231f20" stroke-width="0.9" />
<text x="138.20" y="329.34" font-size="6.5" text-anchor="end">15</text>
<line x1="142.60" y1="391.03" x2="143.60" y2="391.03" stroke="#231f20" stroke-width="0.6" />
<line x1="142.60" y1="386.45" x2="143.60" y2="386.45" stroke="#231f20" stroke-width="0.6" />
<line x1="142.60" y1="381.88" x2="143.60" y2="381.88" stroke="#231f20" stroke-width="0.6" />
<line x1="142.60" y1="377.31" x2="143.60" y2="377.31" stroke="#231f20" stroke-width="0.6" />
<line x1="142.60" y1="368.16" x2="143.60" y2="368.16" stroke="#231f20" stroke-width="0.6" />
<line x1="142.60" y1="363.59" x2="143.60" y2="363.59" stroke="#231f20" stroke-width="0.6" />
<line x1="142.60" y1="359.01" x2="143.60" y2="359.01" stroke="#231f20" stroke-width="0.6" />
<line x1="142.60" y1="354.44" x2="143.60" y2="354.44" stroke="#231f20" stroke-width="0.6" />
<line x1="142.60" y1="345.29" x2="143.60" y2="345.29" stroke="#231f20" stroke-width="0.6" />
<line x1="142.60" y1="340.72" x2="143.60" y2="340.72" stroke="#231f20" stroke-width="0.6" />
<line x1="142.60" y1="336.15" x2="143.60" y2="336.15" stroke="#231f20" stroke-width="0.6" />
<line x1="142.60" y1="331.57" x2="143.60" y2="331.57" stroke="#231f20" stroke-width="0.6" />
<text x="113.00" y="363.41" font-size="7.8" text-anchor="middle" textLength="61" lengthAdjust="spacingAndGlyphs" transform="rotate(-90 113.00 360.60)" style="stroke-width:0.26px">Fold change expr. of</text>
<text x="122.00" y="363.81" font-size="7.8" text-anchor="middle" textLength="33" lengthAdjust="spacingAndGlyphs" font-style="italic" transform="rotate(-90 122.00 361.00)" style="stroke-width:0.26px">APOBEC3H</text>
<line x1="143.60" y1="391.50" x2="211.00" y2="391.50" stroke="#c8c8c8" stroke-width="0.9" stroke-dasharray="1.5 0.8"/>
<rect x="146.10" y="391.48" width="5.40" height="4.12" fill="#d3d3d3" />
<line x1="146.20" y1="391.48" x2="151.40" y2="391.48" stroke="#231f20" stroke-width="1.4" />
<circle cx="148.80" cy="391.03" r="1.05" fill="#231f20" />
<circle cx="148.80" cy="391.03" r="1.05" fill="#231f20" />
<circle cx="148.80" cy="391.03" r="1.05" fill="#231f20" />
<circle cx="148.80" cy="391.03" r="1.05" fill="#231f20" />
<circle cx="148.80" cy="391.03" r="1.05" fill="#231f20" />
<circle cx="148.80" cy="391.03" r="1.05" fill="#231f20" />
<text x="148.80" y="392.30" font-size="6.4" text-anchor="middle" fill="#555555">1</text>
<rect x="154.30" y="387.37" width="5.40" height="8.23" fill="#d3d3d3" />
<line x1="154.40" y1="387.50" x2="159.60" y2="387.50" stroke="#231f20" stroke-width="0.9" />
<line x1="157.00" y1="375.02" x2="157.00" y2="387.37" stroke="#231f20" stroke-width="0.6" />
<line x1="155.90" y1="375.02" x2="158.10" y2="375.02" stroke="#231f20" stroke-width="0.6" />
<circle cx="156.20" cy="393.31" r="1.05" fill="#231f20" />
<circle cx="157.80" cy="390.11" r="1.05" fill="#231f20" />
<circle cx="156.20" cy="387.37" r="1.05" fill="#231f20" />
<circle cx="157.00" cy="382.79" r="1.05" fill="#231f20" />
<circle cx="157.00" cy="377.31" r="1.05" fill="#231f20" />
<circle cx="156.20" cy="371.82" r="1.05" fill="#231f20" />
<text x="157.00" y="392.30" font-size="6.4" text-anchor="middle" fill="#555555">2</text>
<rect x="162.50" y="372.73" width="5.40" height="22.87" fill="#d3d3d3" />
<line x1="162.60" y1="372.50" x2="167.80" y2="372.50" stroke="#231f20" stroke-width="0.9" />
<line x1="165.20" y1="361.30" x2="165.20" y2="372.73" stroke="#231f20" stroke-width="0.6" />
<line x1="164.10" y1="361.30" x2="166.30" y2="361.30" stroke="#231f20" stroke-width="0.6" />
<circle cx="166.00" cy="386.45" r="1.05" fill="#231f20" />
<circle cx="164.40" cy="379.59" r="1.05" fill="#231f20" />
<circle cx="166.00" cy="376.39" r="1.05" fill="#231f20" />
<circle cx="166.00" cy="370.45" r="1.05" fill="#231f20" />
<circle cx="164.40" cy="365.87" r="1.05" fill="#231f20" />
<circle cx="165.20" cy="361.30" r="1.05" fill="#231f20" />
<text x="165.20" y="392.30" font-size="6.4" text-anchor="middle" fill="#555555">5</text>
<rect x="170.80" y="355.35" width="5.40" height="40.25" fill="#d3d3d3" />
<line x1="170.90" y1="355.50" x2="176.10" y2="355.50" stroke="#231f20" stroke-width="0.9" />
<line x1="173.50" y1="346.21" x2="173.50" y2="355.35" stroke="#231f20" stroke-width="0.6" />
<line x1="172.40" y1="346.21" x2="174.60" y2="346.21" stroke="#231f20" stroke-width="0.6" />
<circle cx="174.30" cy="386.45" r="1.05" fill="#231f20" />
<circle cx="173.50" cy="377.31" r="1.05" fill="#231f20" />
<circle cx="173.50" cy="361.30" r="1.05" fill="#231f20" />
<circle cx="173.50" cy="357.64" r="1.05" fill="#231f20" />
<circle cx="173.50" cy="347.58" r="1.05" fill="#231f20" />
<circle cx="172.70" cy="338.43" r="1.05" fill="#231f20" />
<text x="173.50" y="392.30" font-size="6.4" text-anchor="middle" fill="#555555">9</text>
<rect x="178.50" y="391.94" width="5.40" height="3.66" fill="#d3d3d3" />
<line x1="178.60" y1="391.94" x2="183.80" y2="391.94" stroke="#231f20" stroke-width="1.4" />
<line x1="181.20" y1="390.11" x2="181.20" y2="391.94" stroke="#231f20" stroke-width="0.6" />
<line x1="180.10" y1="390.11" x2="182.30" y2="390.11" stroke="#231f20" stroke-width="0.6" />
<circle cx="182.00" cy="393.77" r="1.05" fill="#231f20" />
<circle cx="181.20" cy="392.40" r="1.05" fill="#231f20" />
<circle cx="181.20" cy="391.03" r="1.05" fill="#231f20" />
<circle cx="180.40" cy="389.65" r="1.05" fill="#231f20" />
<text x="181.20" y="392.30" font-size="6.4" text-anchor="middle" fill="#555555">1</text>
<rect x="186.50" y="386.45" width="5.40" height="9.15" fill="#d3d3d3" />
<line x1="186.60" y1="386.50" x2="191.80" y2="386.50" stroke="#231f20" stroke-width="0.9" />
<line x1="189.20" y1="372.73" x2="189.20" y2="386.45" stroke="#231f20" stroke-width="0.6" />
<line x1="188.10" y1="372.73" x2="190.30" y2="372.73" stroke="#231f20" stroke-width="0.6" />
<circle cx="188.40" cy="393.31" r="1.05" fill="#231f20" />
<circle cx="189.20" cy="388.74" r="1.05" fill="#231f20" />
<circle cx="190.00" cy="384.17" r="1.05" fill="#231f20" />
<circle cx="189.20" cy="380.97" r="1.05" fill="#231f20" />
<circle cx="190.00" cy="356.73" r="1.05" fill="#231f20" />
<text x="189.20" y="392.30" font-size="6.4" text-anchor="middle" fill="#555555">2</text>
<rect x="194.60" y="378.68" width="5.40" height="16.92" fill="#d3d3d3" />
<line x1="194.70" y1="378.50" x2="199.90" y2="378.50" stroke="#231f20" stroke-width="0.9" />
<line x1="197.30" y1="369.53" x2="197.30" y2="378.68" stroke="#231f20" stroke-width="0.6" />
<line x1="196.20" y1="369.53" x2="198.40" y2="369.53" stroke="#231f20" stroke-width="0.6" />
<circle cx="197.30" cy="388.74" r="1.05" fill="#231f20" />
<circle cx="197.30" cy="382.79" r="1.05" fill="#231f20" />
<circle cx="196.50" cy="379.59" r="1.05" fill="#231f20" />
<circle cx="197.30" cy="375.02" r="1.05" fill="#231f20" />
<circle cx="196.50" cy="371.82" r="1.05" fill="#231f20" />
<circle cx="196.50" cy="362.21" r="1.05" fill="#231f20" />
<text x="197.30" y="392.30" font-size="6.4" text-anchor="middle" fill="#555555">4</text>
<rect x="202.80" y="377.31" width="5.40" height="18.29" fill="#d3d3d3" />
<line x1="202.90" y1="377.50" x2="208.10" y2="377.50" stroke="#231f20" stroke-width="0.9" />
<line x1="205.50" y1="367.25" x2="205.50" y2="377.31" stroke="#231f20" stroke-width="0.6" />
<line x1="204.40" y1="367.25" x2="206.60" y2="367.25" stroke="#231f20" stroke-width="0.6" />
<circle cx="205.50" cy="388.74" r="1.05" fill="#231f20" />
<circle cx="206.30" cy="384.17" r="1.05" fill="#231f20" />
<circle cx="204.70" cy="379.59" r="1.05" fill="#231f20" />
<circle cx="204.70" cy="373.65" r="1.05" fill="#231f20" />
<circle cx="204.70" cy="368.16" r="1.05" fill="#231f20" />
<text x="205.50" y="392.30" font-size="6.4" text-anchor="middle" fill="#555555">4</text>
<line x1="143.20" y1="395.50" x2="211.00" y2="395.50" stroke="#231f20" stroke-width="0.9" />
<line x1="148.50" y1="395.60" x2="148.50" y2="397.20" stroke="#231f20" stroke-width="0.9" />
<line x1="157.50" y1="395.60" x2="157.50" y2="397.20" stroke="#231f20" stroke-width="0.9" />
<line x1="165.50" y1="395.60" x2="165.50" y2="397.20" stroke="#231f20" stroke-width="0.9" />
<line x1="173.50" y1="395.60" x2="173.50" y2="397.20" stroke="#231f20" stroke-width="0.9" />
<line x1="181.50" y1="395.60" x2="181.50" y2="397.20" stroke="#231f20" stroke-width="0.9" />
<line x1="189.50" y1="395.60" x2="189.50" y2="397.20" stroke="#231f20" stroke-width="0.9" />
<line x1="197.50" y1="395.60" x2="197.50" y2="397.20" stroke="#231f20" stroke-width="0.9" />
<line x1="205.50" y1="395.60" x2="205.50" y2="397.20" stroke="#231f20" stroke-width="0.9" />
<path d="M148.80,337.40 L148.80,334.60 L181.20,334.60 L181.20,337.40" fill="none" stroke="#231f20" stroke-width="0.6" />
<text x="161.00" y="334.40" font-size="5.0" text-anchor="middle">**</text>
<path d="M164.20,332.00 L164.20,330.00 L181.20,330.00 L181.20,332.00" fill="none" stroke="#231f20" stroke-width="0.6" />
<text x="173.50" y="328.40" font-size="5.0" text-anchor="middle">*</text>
<text x="176.80" y="335.00" font-size="5.0" text-anchor="middle">***</text>
<text x="152.70" y="403.90" font-size="6.3" text-anchor="end" transform="rotate(-45 152.70 403.90)">UT</text>
<text x="160.90" y="403.90" font-size="6.3" text-anchor="end" transform="rotate(-45 160.90 403.90)">Mock electro</text>
<text x="169.10" y="403.90" font-size="6.3" text-anchor="end" transform="rotate(-45 169.10 403.90)">25 pmol</text>
<text x="177.40" y="403.90" font-size="6.3" text-anchor="end" transform="rotate(-45 177.40 403.90)">50 pmol</text>
<text x="185.10" y="403.90" font-size="6.3" text-anchor="end" transform="rotate(-45 185.10 403.90)">Empty</text>
<text x="193.10" y="403.90" font-size="6.3" text-anchor="end" transform="rotate(-45 193.10 403.90)">1.0</text>
<text x="201.20" y="403.90" font-size="6.3" text-anchor="end" transform="rotate(-45 201.20 403.90)">1.5</text>
<text x="209.40" y="403.90" font-size="6.3" text-anchor="end" transform="rotate(-45 209.40 403.90)">2.0</text>
<line x1="151.30" y1="432.50" x2="164.50" y2="432.50" stroke="#231f20" stroke-width="0.9" />
<line x1="170.00" y1="432.50" x2="210.00" y2="432.50" stroke="#231f20" stroke-width="0.9" />
<text x="157.00" y="441.80" font-size="6.4" text-anchor="middle">RNP</text>
<text x="189.00" y="441.80" font-size="6.4" text-anchor="middle">LNPs</text>
<text x="243.2" y="316.66" font-size="11.2" font-weight="bold" style="stroke-width:0.45px">I</text>
<rect x="314.50" y="319.45" width="3.40" height="4.30" fill="#0b1f4f" />
<rect x="318.80" y="319.45" width="3.40" height="4.30" fill="#d5d2d2" />
<rect x="324.21" y="319.45" width="3.40" height="4.30" fill="#0b1f4f" />
<rect x="328.51" y="319.45" width="3.40" height="4.30" fill="#d5d2d2" />
<rect x="333.92" y="319.45" width="3.40" height="4.30" fill="#0b1f4f" />
<rect x="338.22" y="319.45" width="3.40" height="4.30" fill="#d5d2d2" />
<rect x="343.63" y="319.45" width="3.40" height="4.30" fill="#0b1f4f" />
<rect x="347.93" y="319.45" width="3.40" height="4.30" fill="#d5d2d2" />
<rect x="353.34" y="319.45" width="3.40" height="4.30" fill="#0b1f4f" />
<rect x="357.64" y="319.45" width="3.40" height="4.30" fill="#d5d2d2" />
<rect x="363.05" y="319.45" width="3.40" height="4.30" fill="#d0d6dc" />
<rect x="367.35" y="319.45" width="3.40" height="4.30" fill="#d5d2d2" />
<rect x="372.76" y="319.45" width="3.40" height="4.30" fill="#d5d2d2" />
<rect x="377.06" y="319.45" width="3.40" height="4.30" fill="#d5d2d2" />
<text x="310.90" y="323.69" font-size="5.8" text-anchor="end" textLength="29.2" lengthAdjust="spacingAndGlyphs">E2F targets</text>
<rect x="314.50" y="325.13" width="3.40" height="4.30" fill="#d0d6dc" />
<rect x="318.80" y="325.13" width="3.40" height="4.30" fill="#d8d0d0" />
<rect x="324.21" y="325.13" width="3.40" height="4.30" fill="#d5d2d2" />
<rect x="328.51" y="325.13" width="3.40" height="4.30" fill="#d8d0d0" />
<rect x="333.92" y="325.13" width="3.40" height="4.30" fill="#d5d2d2" />
<rect x="338.22" y="325.13" width="3.40" height="4.30" fill="#d8d0d0" />
<rect x="343.63" y="325.13" width="3.40" height="4.30" fill="#0b1f4f" />
<rect x="347.93" y="325.13" width="3.40" height="4.30" fill="#d5d2d2" />
<rect x="353.34" y="325.13" width="3.40" height="4.30" fill="#0b1f4f" />
<rect x="357.64" y="325.13" width="3.40" height="4.30" fill="#d5d2d2" />
<rect x="363.05" y="325.13" width="3.40" height="4.30" fill="#0b1f4f" />
<rect x="367.35" y="325.13" width="3.40" height="4.30" fill="#d5d2d2" />
<rect x="372.76" y="325.13" width="3.40" height="4.30" fill="#0b1f4f" />
<rect x="377.06" y="325.13" width="3.40" height="4.30" fill="#d5d2d2" />
<text x="310.90" y="329.37" font-size="5.8" text-anchor="end" textLength="61.86" lengthAdjust="spacingAndGlyphs">Cholesterol homeostasis</text>
<rect x="314.50" y="330.82" width="3.40" height="4.30" fill="#0b1f4f" />
<rect x="318.80" y="330.82" width="3.40" height="4.30" fill="#d5d2d2" />
<rect x="324.21" y="330.82" width="3.40" height="4.30" fill="#cfe2f0" />
<rect x="328.51" y="330.82" width="3.40" height="4.30" fill="#d5d2d2" />
<rect x="333.92" y="330.82" width="3.40" height="4.30" fill="#3f7fbf" />
<rect x="338.22" y="330.82" width="3.40" height="4.30" fill="#d5d2d2" />
<rect x="343.63" y="330.82" width="3.40" height="4.30" fill="#0b1f4f" />
<rect x="347.93" y="330.82" width="3.40" height="4.30" fill="#d5d2d2" />
<rect x="353.34" y="330.82" width="3.40" height="4.30" fill="#3f7fbf" />
<rect x="357.64" y="330.82" width="3.40" height="4.30" fill="#d5d2d2" />
<rect x="363.05" y="330.82" width="3.40" height="4.30" fill="#d5d2d2" />
<rect x="367.35" y="330.82" width="3.40" height="4.30" fill="#d5d2d2" />
<rect x="372.76" y="330.82" width="3.40" height="4.30" fill="#d5d2d2" />
<rect x="377.06" y="330.82" width="3.40" height="4.30" fill="#d5d2d2" />
<text x="310.90" y="335.05" font-size="5.8" text-anchor="end" textLength="43.65" lengthAdjust="spacingAndGlyphs">G2M checkpoints</text>
<rect x="314.50" y="336.50" width="3.40" height="4.30" fill="#d5d2d2" />
<rect x="318.80" y="336.50" width="3.40" height="4.30" fill="#6e0a1c" />
<rect x="324.21" y="336.50" width="3.40" height="4.30" fill="#d5d2d2" />
<rect x="328.51" y="336.50" width="3.40" height="4.30" fill="#6e0a1c" />
<rect x="333.92" y="336.50" width="3.40" height="4.30" fill="#d5d2d2" />
<rect x="338.22" y="336.50" width="3.40" height="4.30" fill="#6e0a1c" />
<rect x="343.63" y="336.50" width="3.40" height="4.30" fill="#d5d2d2" />
<rect x="347.93" y="336.50" width="3.40" height="4.30" fill="#d5d2d2" />
<rect x="353.34" y="336.50" width="3.40" height="4.30" fill="#d5d2d2" />
<rect x="357.64" y="336.50" width="3.40" height="4.30" fill="#e6866f" />
<rect x="363.05" y="336.50" width="3.40" height="4.30" fill="#4f9cc6" />
<rect x="367.35" y="336.50" width="3.40" height="4.30" fill="#d5d2d2" />
<rect x="372.76" y="336.50" width="3.40" height="4.30" fill="#74afd9" />
<rect x="377.06" y="336.50" width="3.40" height="4.30" fill="#d5d2d2" />
<text x="310.90" y="340.74" font-size="5.8" text-anchor="end" textLength="63.55" lengthAdjust="spacingAndGlyphs">TNFα signaling via NFKB</text>
<rect x="314.50" y="342.18" width="3.40" height="4.30" fill="#d5d2d2" />
<rect x="318.80" y="342.18" width="3.40" height="4.30" fill="#cf4a45" />
<rect x="324.21" y="342.18" width="3.40" height="4.30" fill="#d5d2d2" />
<rect x="328.51" y="342.18" width="3.40" height="4.30" fill="#cf4a45" />
<rect x="333.92" y="342.18" width="3.40" height="4.30" fill="#d5d2d2" />
<rect x="338.22" y="342.18" width="3.40" height="4.30" fill="#cf4a45" />
<rect x="343.63" y="342.18" width="3.40" height="4.30" fill="#d5d2d2" />
<rect x="347.93" y="342.18" width="3.40" height="4.30" fill="#e6866f" />
<rect x="353.34" y="342.18" width="3.40" height="4.30" fill="#d5d2d2" />
<rect x="357.64" y="342.18" width="3.40" height="4.30" fill="#cf4a45" />
<rect x="363.05" y="342.18" width="3.40" height="4.30" fill="#a8d0ea" />
<rect x="367.35" y="342.18" width="3.40" height="4.30" fill="#d5d2d2" />
<rect x="372.76" y="342.18" width="3.40" height="4.30" fill="#74afd9" />
<rect x="377.06" y="342.18" width="3.40" height="4.30" fill="#d5d2d2" />
<text x="310.90" y="346.42" font-size="5.8" text-anchor="end" textLength="50.04" lengthAdjust="spacingAndGlyphs">IL2 STAT5 signaling</text>
<rect x="314.50" y="347.87" width="3.40" height="4.30" fill="#d5d2d2" />
<rect x="318.80" y="347.87" width="3.40" height="4.30" fill="#b2242e" />
<rect x="324.21" y="347.87" width="3.40" height="4.30" fill="#d5d2d2" />
<rect x="328.51" y="347.87" width="3.40" height="4.30" fill="#cf4a45" />
<rect x="333.92" y="347.87" width="3.40" height="4.30" fill="#d5d2d2" />
<rect x="338.22" y="347.87" width="3.40" height="4.30" fill="#cf4a45" />
<rect x="343.63" y="347.87" width="3.40" height="4.30" fill="#d5d2d2" />
<rect x="347.93" y="347.87" width="3.40" height="4.30" fill="#ecd2c8" />
<rect x="353.34" y="347.87" width="3.40" height="4.30" fill="#d5d2d2" />
<rect x="357.64" y="347.87" width="3.40" height="4.30" fill="#e6866f" />
<rect x="363.05" y="347.87" width="3.40" height="4.30" fill="#a8d0ea" />
<rect x="367.35" y="347.87" width="3.40" height="4.30" fill="#d5d2d2" />
<rect x="372.76" y="347.87" width="3.40" height="4.30" fill="#cfe2f0" />
<rect x="377.06" y="347.87" width="3.40" height="4.30" fill="#d5d2d2" />
<text x="310.90" y="352.10" font-size="5.8" text-anchor="end" textLength="57.46" lengthAdjust="spacingAndGlyphs">Inflammatory response</text>
<rect x="314.50" y="353.55" width="3.40" height="4.30" fill="#d5d2d2" />
<rect x="318.80" y="353.55" width="3.40" height="4.30" fill="#e6866f" />
<rect x="324.21" y="353.55" width="3.40" height="4.30" fill="#d5d2d2" />
<rect x="328.51" y="353.55" width="3.40" height="4.30" fill="#6e0a1c" />
<rect x="333.92" y="353.55" width="3.40" height="4.30" fill="#d5d2d2" />
<rect x="338.22" y="353.55" width="3.40" height="4.30" fill="#6e0a1c" />
<rect x="343.63" y="353.55" width="3.40" height="4.30" fill="#d5d2d2" />
<rect x="347.93" y="353.55" width="3.40" height="4.30" fill="#d5d2d2" />
<rect x="353.34" y="353.55" width="3.40" height="4.30" fill="#d5d2d2" />
<rect x="357.64" y="353.55" width="3.40" height="4.30" fill="#6e0a1c" />
<rect x="363.05" y="353.55" width="3.40" height="4.30" fill="#78b4d6" />
<rect x="367.35" y="353.55" width="3.40" height="4.30" fill="#d5d2d2" />
<rect x="372.76" y="353.55" width="3.40" height="4.30" fill="#dceaf4" />
<rect x="377.06" y="353.55" width="3.40" height="4.30" fill="#d5d2d2" />
<text x="310.90" y="357.79" font-size="5.8" text-anchor="end" textLength="32.04" lengthAdjust="spacingAndGlyphs">p53 pathway</text>
<rect x="314.50" y="359.23" width="3.40" height="4.30" fill="#d5d2d2" />
<rect x="318.80" y="359.23" width="3.40" height="4.30" fill="#6e0a1c" />
<rect x="324.21" y="359.23" width="3.40" height="4.30" fill="#d5d2d2" />
<rect x="328.51" y="359.23" width="3.40" height="4.30" fill="#6e0a1c" />
<rect x="333.92" y="359.23" width="3.40" height="4.30" fill="#d5d2d2" />
<rect x="338.22" y="359.23" width="3.40" height="4.30" fill="#6e0a1c" />
<rect x="343.63" y="359.23" width="3.40" height="4.30" fill="#d5d2d2" />
<rect x="347.93" y="359.23" width="3.40" height="4.30" fill="#ecd2c8" />
<rect x="353.34" y="359.23" width="3.40" height="4.30" fill="#d5d2d2" />
<rect x="357.64" y="359.23" width="3.40" height="4.30" fill="#cf4a45" />
<rect x="363.05" y="359.23" width="3.40" height="4.30" fill="#4f9cc6" />
<rect x="367.35" y="359.23" width="3.40" height="4.30" fill="#d5d2d2" />
<rect x="372.76" y="359.23" width="3.40" height="4.30" fill="#78b4d6" />
<rect x="377.06" y="359.23" width="3.40" height="4.30" fill="#d5d2d2" />
<text x="310.90" y="363.47" font-size="5.8" text-anchor="end" textLength="66.57" lengthAdjust="spacingAndGlyphs">Epith. Mesenchymal trans.</text>
<rect x="314.50" y="364.91" width="3.40" height="4.30" fill="#d5d2d2" />
<rect x="318.80" y="364.91" width="3.40" height="4.30" fill="#e6866f" />
<rect x="324.21" y="364.91" width="3.40" height="4.30" fill="#d5d2d2" />
<rect x="328.51" y="364.91" width="3.40" height="4.30" fill="#f0b4a0" />
<rect x="333.92" y="364.91" width="3.40" height="4.30" fill="#d5d2d2" />
<rect x="338.22" y="364.91" width="3.40" height="4.30" fill="#e6866f" />
<rect x="343.63" y="364.91" width="3.40" height="4.30" fill="#d5d2d2" />
<rect x="347.93" y="364.91" width="3.40" height="4.30" fill="#ecd2c8" />
<rect x="353.34" y="364.91" width="3.40" height="4.30" fill="#d5d2d2" />
<rect x="357.64" y="364.91" width="3.40" height="4.30" fill="#f0b4a0" />
<rect x="363.05" y="364.91" width="3.40" height="4.30" fill="#cfe2f0" />
<rect x="367.35" y="364.91" width="3.40" height="4.30" fill="#d5d2d2" />
<rect x="372.76" y="364.91" width="3.40" height="4.30" fill="#cfe2f0" />
<rect x="377.06" y="364.91" width="3.40" height="4.30" fill="#d5d2d2" />
<text x="310.90" y="369.15" font-size="5.8" text-anchor="end" textLength="30.15" lengthAdjust="spacingAndGlyphs">Coagulation</text>
<rect x="314.50" y="370.60" width="3.40" height="4.30" fill="#d5d2d2" />
<rect x="318.80" y="370.60" width="3.40" height="4.30" fill="#e6866f" />
<rect x="324.21" y="370.60" width="3.40" height="4.30" fill="#d5d2d2" />
<rect x="328.51" y="370.60" width="3.40" height="4.30" fill="#f0b4a0" />
<rect x="333.92" y="370.60" width="3.40" height="4.30" fill="#d5d2d2" />
<rect x="338.22" y="370.60" width="3.40" height="4.30" fill="#e6866f" />
<rect x="343.63" y="370.60" width="3.40" height="4.30" fill="#d5d2d2" />
<rect x="347.93" y="370.60" width="3.40" height="4.30" fill="#d8d0d0" />
<rect x="353.34" y="370.60" width="3.40" height="4.30" fill="#d5d2d2" />
<rect x="357.64" y="370.60" width="3.40" height="4.30" fill="#e6866f" />
<rect x="363.05" y="370.60" width="3.40" height="4.30" fill="#cfe2f0" />
<rect x="367.35" y="370.60" width="3.40" height="4.30" fill="#d5d2d2" />
<rect x="372.76" y="370.60" width="3.40" height="4.30" fill="#d5d2d2" />
<rect x="377.06" y="370.60" width="3.40" height="4.30" fill="#d5d2d2" />
<text x="310.90" y="374.84" font-size="5.8" text-anchor="end" textLength="24.81" lengthAdjust="spacingAndGlyphs">Apoptosis</text>
<rect x="314.50" y="376.28" width="3.40" height="4.30" fill="#a8d0ea" />
<rect x="318.80" y="376.28" width="3.40" height="4.30" fill="#d5d2d2" />
<rect x="324.21" y="376.28" width="3.40" height="4.30" fill="#a8d0ea" />
<rect x="328.51" y="376.28" width="3.40" height="4.30" fill="#d5d2d2" />
<rect x="333.92" y="376.28" width="3.40" height="4.30" fill="#3f7fbf" />
<rect x="338.22" y="376.28" width="3.40" height="4.30" fill="#d5d2d2" />
<rect x="343.63" y="376.28" width="3.40" height="4.30" fill="#0b1f4f" />
<rect x="347.93" y="376.28" width="3.40" height="4.30" fill="#d5d2d2" />
<rect x="353.34" y="376.28" width="3.40" height="4.30" fill="#3f7fbf" />
<rect x="357.64" y="376.28" width="3.40" height="4.30" fill="#d5d2d2" />
<rect x="363.05" y="376.28" width="3.40" height="4.30" fill="#cfe2f0" />
<rect x="367.35" y="376.28" width="3.40" height="4.30" fill="#d5d2d2" />
<rect x="372.76" y="376.28" width="3.40" height="4.30" fill="#cfe2f0" />
<rect x="377.06" y="376.28" width="3.40" height="4.30" fill="#d5d2d2" />
<text x="310.90" y="380.52" font-size="5.8" text-anchor="end" textLength="47.62" lengthAdjust="spacingAndGlyphs">MTORC1 signaling</text>
<rect x="314.50" y="381.96" width="3.40" height="4.30" fill="#d5d2d2" />
<rect x="318.80" y="381.96" width="3.40" height="4.30" fill="#f0b4a0" />
<rect x="324.21" y="381.96" width="3.40" height="4.30" fill="#d5d2d2" />
<rect x="328.51" y="381.96" width="3.40" height="4.30" fill="#e6866f" />
<rect x="333.92" y="381.96" width="3.40" height="4.30" fill="#d5d2d2" />
<rect x="338.22" y="381.96" width="3.40" height="4.30" fill="#ecd2c8" />
<rect x="343.63" y="381.96" width="3.40" height="4.30" fill="#d5d2d2" />
<rect x="347.93" y="381.96" width="3.40" height="4.30" fill="#d8d0d0" />
<rect x="353.34" y="381.96" width="3.40" height="4.30" fill="#d5d2d2" />
<rect x="357.64" y="381.96" width="3.40" height="4.30" fill="#d8d0d0" />
<rect x="363.05" y="381.96" width="3.40" height="4.30" fill="#d5e3ee" />
<rect x="367.35" y="381.96" width="3.40" height="4.30" fill="#d5d2d2" />
<rect x="372.76" y="381.96" width="3.40" height="4.30" fill="#d5e3ee" />
<rect x="377.06" y="381.96" width="3.40" height="4.30" fill="#d5d2d2" />
<text x="310.90" y="386.20" font-size="5.8" text-anchor="end" textLength="47.11" lengthAdjust="spacingAndGlyphs">KRAS signaling up</text>
<rect x="314.50" y="387.65" width="3.40" height="4.30" fill="#d5d2d2" />
<rect x="318.80" y="387.65" width="3.40" height="4.30" fill="#f0b4a0" />
<rect x="324.21" y="387.65" width="3.40" height="4.30" fill="#d5d2d2" />
<rect x="328.51" y="387.65" width="3.40" height="4.30" fill="#e6866f" />
<rect x="333.92" y="387.65" width="3.40" height="4.30" fill="#d5d2d2" />
<rect x="338.22" y="387.65" width="3.40" height="4.30" fill="#ecd2c8" />
<rect x="343.63" y="387.65" width="3.40" height="4.30" fill="#d5d2d2" />
<rect x="347.93" y="387.65" width="3.40" height="4.30" fill="#efd5cb" />
<rect x="353.34" y="387.65" width="3.40" height="4.30" fill="#d5d2d2" />
<rect x="357.64" y="387.65" width="3.40" height="4.30" fill="#d5d2d2" />
<rect x="363.05" y="387.65" width="3.40" height="4.30" fill="#d5e3ee" />
<rect x="367.35" y="387.65" width="3.40" height="4.30" fill="#d5d2d2" />
<rect x="372.76" y="387.65" width="3.40" height="4.30" fill="#d5e3ee" />
<rect x="377.06" y="387.65" width="3.40" height="4.30" fill="#efd5cb" />
<text x="310.90" y="391.88" font-size="5.8" text-anchor="end" textLength="42.39" lengthAdjust="spacingAndGlyphs">UV response DN</text>
<rect x="314.50" y="393.33" width="3.40" height="4.30" fill="#d5d2d2" />
<rect x="318.80" y="393.33" width="3.40" height="4.30" fill="#efd5cb" />
<rect x="324.21" y="393.33" width="3.40" height="4.30" fill="#d5d2d2" />
<rect x="328.51" y="393.33" width="3.40" height="4.30" fill="#ecd2c8" />
<rect x="333.92" y="393.33" width="3.40" height="4.30" fill="#d5d2d2" />
<rect x="338.22" y="393.33" width="3.40" height="4.30" fill="#efd5cb" />
<rect x="343.63" y="393.33" width="3.40" height="4.30" fill="#d5d2d2" />
<rect x="347.93" y="393.33" width="3.40" height="4.30" fill="#efd5cb" />
<rect x="353.34" y="393.33" width="3.40" height="4.30" fill="#d5d2d2" />
<rect x="357.64" y="393.33" width="3.40" height="4.30" fill="#d5d2d2" />
<rect x="363.05" y="393.33" width="3.40" height="4.30" fill="#d5e3ee" />
<rect x="367.35" y="393.33" width="3.40" height="4.30" fill="#d5d2d2" />
<rect x="372.76" y="393.33" width="3.40" height="4.30" fill="#d5e3ee" />
<rect x="377.06" y="393.33" width="3.40" height="4.30" fill="#d5d2d2" />
<text x="310.90" y="397.57" font-size="5.8" text-anchor="end" textLength="45.53" lengthAdjust="spacingAndGlyphs">Heme metabolism</text>
<rect x="314.50" y="399.01" width="3.40" height="4.30" fill="#d5d2d2" />
<rect x="318.80" y="399.01" width="3.40" height="4.30" fill="#efd5cb" />
<rect x="324.21" y="399.01" width="3.40" height="4.30" fill="#d5d2d2" />
<rect x="328.51" y="399.01" width="3.40" height="4.30" fill="#efd5cb" />
<rect x="333.92" y="399.01" width="3.40" height="4.30" fill="#d5d2d2" />
<rect x="338.22" y="399.01" width="3.40" height="4.30" fill="#ecd2c8" />
<rect x="343.63" y="399.01" width="3.40" height="4.30" fill="#d5d2d2" />
<rect x="347.93" y="399.01" width="3.40" height="4.30" fill="#d5d2d2" />
<rect x="353.34" y="399.01" width="3.40" height="4.30" fill="#d5d2d2" />
<rect x="357.64" y="399.01" width="3.40" height="4.30" fill="#efd5cb" />
<rect x="363.05" y="399.01" width="3.40" height="4.30" fill="#d5e3ee" />
<rect x="367.35" y="399.01" width="3.40" height="4.30" fill="#d5d2d2" />
<rect x="372.76" y="399.01" width="3.40" height="4.30" fill="#d5e3ee" />
<rect x="377.06" y="399.01" width="3.40" height="4.30" fill="#efd5cb" />
<text x="310.90" y="403.25" font-size="5.8" text-anchor="end" textLength="61.97" lengthAdjust="spacingAndGlyphs">IL6 JAK STAT3 signaling</text>
<rect x="314.50" y="404.70" width="3.40" height="4.30" fill="#d5d2d2" />
<rect x="318.80" y="404.70" width="3.40" height="4.30" fill="#efd5cb" />
<rect x="324.21" y="404.70" width="3.40" height="4.30" fill="#d5d2d2" />
<rect x="328.51" y="404.70" width="3.40" height="4.30" fill="#efd5cb" />
<rect x="333.92" y="404.70" width="3.40" height="4.30" fill="#d5d2d2" />
<rect x="338.22" y="404.70" width="3.40" height="4.30" fill="#efd5cb" />
<rect x="343.63" y="404.70" width="3.40" height="4.30" fill="#d5d2d2" />
<rect x="347.93" y="404.70" width="3.40" height="4.30" fill="#efd5cb" />
<rect x="353.34" y="404.70" width="3.40" height="4.30" fill="#d5d2d2" />
<rect x="357.64" y="404.70" width="3.40" height="4.30" fill="#d5d2d2" />
<rect x="363.05" y="404.70" width="3.40" height="4.30" fill="#d5e3ee" />
<rect x="367.35" y="404.70" width="3.40" height="4.30" fill="#d5d2d2" />
<rect x="372.76" y="404.70" width="3.40" height="4.30" fill="#d5e3ee" />
<rect x="377.06" y="404.70" width="3.40" height="4.30" fill="#efd5cb" />
<text x="310.90" y="408.93" font-size="5.8" text-anchor="end" textLength="20.41" lengthAdjust="spacingAndGlyphs">Hypoxia</text>
<rect x="314.50" y="410.38" width="3.40" height="4.30" fill="#d5d2d2" />
<rect x="318.80" y="410.38" width="3.40" height="4.30" fill="#ecd2c8" />
<rect x="324.21" y="410.38" width="3.40" height="4.30" fill="#d5d2d2" />
<rect x="328.51" y="410.38" width="3.40" height="4.30" fill="#efd5cb" />
<rect x="333.92" y="410.38" width="3.40" height="4.30" fill="#d5d2d2" />
<rect x="338.22" y="410.38" width="3.40" height="4.30" fill="#efd5cb" />
<rect x="343.63" y="410.38" width="3.40" height="4.30" fill="#d5d2d2" />
<rect x="347.93" y="410.38" width="3.40" height="4.30" fill="#d5d2d2" />
<rect x="353.34" y="410.38" width="3.40" height="4.30" fill="#d5d2d2" />
<rect x="357.64" y="410.38" width="3.40" height="4.30" fill="#efd5cb" />
<rect x="363.05" y="410.38" width="3.40" height="4.30" fill="#d5e3ee" />
<rect x="367.35" y="410.38" width="3.40" height="4.30" fill="#d5d2d2" />
<rect x="372.76" y="410.38" width="3.40" height="4.30" fill="#d0d6dc" />
<rect x="377.06" y="410.38" width="3.40" height="4.30" fill="#d5d2d2" />
<text x="310.90" y="414.62" font-size="5.8" text-anchor="end" textLength="30.15" lengthAdjust="spacingAndGlyphs">Myogenesis</text>
<rect x="314.50" y="416.06" width="3.40" height="4.30" fill="#d5d2d2" />
<rect x="318.80" y="416.06" width="3.40" height="4.30" fill="#efd5cb" />
<rect x="324.21" y="416.06" width="3.40" height="4.30" fill="#d5d2d2" />
<rect x="328.51" y="416.06" width="3.40" height="4.30" fill="#efd5cb" />
<rect x="333.92" y="416.06" width="3.40" height="4.30" fill="#d5d2d2" />
<rect x="338.22" y="416.06" width="3.40" height="4.30" fill="#efd5cb" />
<rect x="343.63" y="416.06" width="3.40" height="4.30" fill="#d5d2d2" />
<rect x="347.93" y="416.06" width="3.40" height="4.30" fill="#d5d2d2" />
<rect x="353.34" y="416.06" width="3.40" height="4.30" fill="#d5d2d2" />
<rect x="357.64" y="416.06" width="3.40" height="4.30" fill="#d5d2d2" />
<rect x="363.05" y="416.06" width="3.40" height="4.30" fill="#d0d6dc" />
<rect x="367.35" y="416.06" width="3.40" height="4.30" fill="#efd5cb" />
<rect x="372.76" y="416.06" width="3.40" height="4.30" fill="#d5d2d2" />
<rect x="377.06" y="416.06" width="3.40" height="4.30" fill="#efd5cb" />
<text x="310.90" y="420.30" font-size="5.8" text-anchor="end" textLength="25.43" lengthAdjust="spacingAndGlyphs">Glycolysis</text>
<rect x="314.50" y="421.74" width="3.40" height="4.30" fill="#d5d2d2" />
<rect x="318.80" y="421.74" width="3.40" height="4.30" fill="#d5d2d2" />
<rect x="324.21" y="421.74" width="3.40" height="4.30" fill="#0b1f4f" />
<rect x="328.51" y="421.74" width="3.40" height="4.30" fill="#d5d2d2" />
<rect x="333.92" y="421.74" width="3.40" height="4.30" fill="#d5d2d2" />
<rect x="338.22" y="421.74" width="3.40" height="4.30" fill="#d5d2d2" />
<rect x="343.63" y="421.74" width="3.40" height="4.30" fill="#d5d2d2" />
<rect x="347.93" y="421.74" width="3.40" height="4.30" fill="#d5d2d2" />
<rect x="353.34" y="421.74" width="3.40" height="4.30" fill="#d5d2d2" />
<rect x="357.64" y="421.74" width="3.40" height="4.30" fill="#d5d2d2" />
<rect x="363.05" y="421.74" width="3.40" height="4.30" fill="#d5e3ee" />
<rect x="367.35" y="421.74" width="3.40" height="4.30" fill="#6e0a1c" />
<rect x="372.76" y="421.74" width="3.40" height="4.30" fill="#d0d6dc" />
<rect x="377.06" y="421.74" width="3.40" height="4.30" fill="#d8d0d0" />
<text x="310.90" y="425.98" font-size="5.8" text-anchor="end" textLength="65.01" lengthAdjust="spacingAndGlyphs">Oxidative phosphorylation</text>
<rect x="314.50" y="427.43" width="3.40" height="4.30" fill="#d5d2d2" />
<rect x="318.80" y="427.43" width="3.40" height="4.30" fill="#efd5cb" />
<rect x="324.21" y="427.43" width="3.40" height="4.30" fill="#d5d2d2" />
<rect x="328.51" y="427.43" width="3.40" height="4.30" fill="#efd5cb" />
<rect x="333.92" y="427.43" width="3.40" height="4.30" fill="#d5d2d2" />
<rect x="338.22" y="427.43" width="3.40" height="4.30" fill="#d5d2d2" />
<rect x="343.63" y="427.43" width="3.40" height="4.30" fill="#d5d2d2" />
<rect x="347.93" y="427.43" width="3.40" height="4.30" fill="#d5d2d2" />
<rect x="353.34" y="427.43" width="3.40" height="4.30" fill="#d5d2d2" />
<rect x="357.64" y="427.43" width="3.40" height="4.30" fill="#d5d2d2" />
<rect x="363.05" y="427.43" width="3.40" height="4.30" fill="#d5e3ee" />
<rect x="367.35" y="427.43" width="3.40" height="4.30" fill="#d5d2d2" />
<rect x="372.76" y="427.43" width="3.40" height="4.30" fill="#d5d2d2" />
<rect x="377.06" y="427.43" width="3.40" height="4.30" fill="#d5d2d2" />
<text x="310.90" y="431.67" font-size="5.8" text-anchor="end" textLength="39.88" lengthAdjust="spacingAndGlyphs">MYC targets V2</text>
<rect x="314.50" y="433.11" width="3.40" height="4.30" fill="#d5d2d2" />
<rect x="318.80" y="433.11" width="3.40" height="4.30" fill="#d5d2d2" />
<rect x="324.21" y="433.11" width="3.40" height="4.30" fill="#d5d2d2" />
<rect x="328.51" y="433.11" width="3.40" height="4.30" fill="#efd5cb" />
<rect x="333.92" y="433.11" width="3.40" height="4.30" fill="#d5d2d2" />
<rect x="338.22" y="433.11" width="3.40" height="4.30" fill="#d5d2d2" />
<rect x="343.63" y="433.11" width="3.40" height="4.30" fill="#d5d2d2" />
<rect x="347.93" y="433.11" width="3.40" height="4.30" fill="#d5d2d2" />
<rect x="353.34" y="433.11" width="3.40" height="4.30" fill="#d5d2d2" />
<rect x="357.64" y="433.11" width="3.40" height="4.30" fill="#d8d0d0" />
<rect x="363.05" y="433.11" width="3.40" height="4.30" fill="#d5e3ee" />
<rect x="367.35" y="433.11" width="3.40" height="4.30" fill="#d5d2d2" />
<rect x="372.76" y="433.11" width="3.40" height="4.30" fill="#d5d2d2" />
<rect x="377.06" y="433.11" width="3.40" height="4.30" fill="#d5d2d2" />
<text x="310.90" y="437.35" font-size="5.8" text-anchor="end" textLength="38.42" lengthAdjust="spacingAndGlyphs">TGFβ signaling</text>
<rect x="314.50" y="438.79" width="3.40" height="4.30" fill="#d0d6dc" />
<rect x="318.80" y="438.79" width="3.40" height="4.30" fill="#d5d2d2" />
<rect x="324.21" y="438.79" width="3.40" height="4.30" fill="#d5d2d2" />
<rect x="328.51" y="438.79" width="3.40" height="4.30" fill="#d5d2d2" />
<rect x="333.92" y="438.79" width="3.40" height="4.30" fill="#d5d2d2" />
<rect x="338.22" y="438.79" width="3.40" height="4.30" fill="#d5d2d2" />
<rect x="343.63" y="438.79" width="3.40" height="4.30" fill="#d0d6dc" />
<rect x="347.93" y="438.79" width="3.40" height="4.30" fill="#d5d2d2" />
<rect x="353.34" y="438.79" width="3.40" height="4.30" fill="#d5d2d2" />
<rect x="357.64" y="438.79" width="3.40" height="4.30" fill="#d5d2d2" />
<rect x="363.05" y="438.79" width="3.40" height="4.30" fill="#d5d2d2" />
<rect x="367.35" y="438.79" width="3.40" height="4.30" fill="#d5d2d2" />
<rect x="372.76" y="438.79" width="3.40" height="4.30" fill="#d5d2d2" />
<rect x="377.06" y="438.79" width="3.40" height="4.30" fill="#d5d2d2" />
<text x="310.90" y="443.03" font-size="5.8" text-anchor="end" textLength="54.14" lengthAdjust="spacingAndGlyphs">Interferon-α response</text>
<rect x="314.50" y="444.48" width="3.40" height="4.30" fill="#d5d2d2" />
<rect x="318.80" y="444.48" width="3.40" height="4.30" fill="#d5d2d2" />
<rect x="324.21" y="444.48" width="3.40" height="4.30" fill="#d5d2d2" />
<rect x="328.51" y="444.48" width="3.40" height="4.30" fill="#efd5cb" />
<rect x="333.92" y="444.48" width="3.40" height="4.30" fill="#d5d2d2" />
<rect x="338.22" y="444.48" width="3.40" height="4.30" fill="#d8d0d0" />
<rect x="343.63" y="444.48" width="3.40" height="4.30" fill="#d5d2d2" />
<rect x="347.93" y="444.48" width="3.40" height="4.30" fill="#d5d2d2" />
<rect x="353.34" y="444.48" width="3.40" height="4.30" fill="#d5d2d2" />
<rect x="357.64" y="444.48" width="3.40" height="4.30" fill="#d5d2d2" />
<rect x="363.05" y="444.48" width="3.40" height="4.30" fill="#d5e3ee" />
<rect x="367.35" y="444.48" width="3.40" height="4.30" fill="#d5d2d2" />
<rect x="372.76" y="444.48" width="3.40" height="4.30" fill="#d8d0d0" />
<rect x="377.06" y="444.48" width="3.40" height="4.30" fill="#d5d2d2" />
<text x="310.90" y="448.71" font-size="5.8" text-anchor="end" textLength="49.94" lengthAdjust="spacingAndGlyphs">Hedgehog signaling</text>
<rect x="314.50" y="450.16" width="3.40" height="4.30" fill="#d5d2d2" />
<rect x="318.80" y="450.16" width="3.40" height="4.30" fill="#d5d2d2" />
<rect x="324.21" y="450.16" width="3.40" height="4.30" fill="#d5d2d2" />
<rect x="328.51" y="450.16" width="3.40" height="4.30" fill="#d8d0d0" />
<rect x="333.92" y="450.16" width="3.40" height="4.30" fill="#d5d2d2" />
<rect x="338.22" y="450.16" width="3.40" height="4.30" fill="#d5d2d2" />
<rect x="343.63" y="450.16" width="3.40" height="4.30" fill="#d5d2d2" />
<rect x="347.93" y="450.16" width="3.40" height="4.30" fill="#d5d2d2" />
<rect x="353.34" y="450.16" width="3.40" height="4.30" fill="#d0d6dc" />
<rect x="357.64" y="450.16" width="3.40" height="4.30" fill="#d5d2d2" />
<rect x="363.05" y="450.16" width="3.40" height="4.30" fill="#d5d2d2" />
<rect x="367.35" y="450.16" width="3.40" height="4.30" fill="#d5d2d2" />
<rect x="372.76" y="450.16" width="3.40" height="4.30" fill="#d0d6dc" />
<rect x="377.06" y="450.16" width="3.40" height="4.30" fill="#d5d2d2" />
<text x="310.90" y="454.40" font-size="5.8" text-anchor="end" textLength="61.24" lengthAdjust="spacingAndGlyphs">Estrogen response early</text>
<rect x="314.50" y="455.84" width="3.40" height="4.30" fill="#d5d2d2" />
<rect x="318.80" y="455.84" width="3.40" height="4.30" fill="#d5d2d2" />
<rect x="324.21" y="455.84" width="3.40" height="4.30" fill="#d0d6dc" />
<rect x="328.51" y="455.84" width="3.40" height="4.30" fill="#d5d2d2" />
<rect x="333.92" y="455.84" width="3.40" height="4.30" fill="#d5d2d2" />
<rect x="338.22" y="455.84" width="3.40" height="4.30" fill="#d5d2d2" />
<rect x="343.63" y="455.84" width="3.40" height="4.30" fill="#d5d2d2" />
<rect x="347.93" y="455.84" width="3.40" height="4.30" fill="#d5d2d2" />
<rect x="353.34" y="455.84" width="3.40" height="4.30" fill="#d5d2d2" />
<rect x="357.64" y="455.84" width="3.40" height="4.30" fill="#d5d2d2" />
<rect x="363.05" y="455.84" width="3.40" height="4.30" fill="#d5d2d2" />
<rect x="367.35" y="455.84" width="3.40" height="4.30" fill="#d5d2d2" />
<rect x="372.76" y="455.84" width="3.40" height="4.30" fill="#d5d2d2" />
<rect x="377.06" y="455.84" width="3.40" height="4.30" fill="#d5d2d2" />
<text x="310.90" y="460.08" font-size="5.8" text-anchor="end" textLength="33.92" lengthAdjust="spacingAndGlyphs">Angiogenesis</text>
<rect x="314.50" y="461.53" width="3.40" height="4.30" fill="#d0d6dc" />
<rect x="318.80" y="461.53" width="3.40" height="4.30" fill="#d5d2d2" />
<rect x="324.21" y="461.53" width="3.40" height="4.30" fill="#78b4d6" />
<rect x="328.51" y="461.53" width="3.40" height="4.30" fill="#d5d2d2" />
<rect x="333.92" y="461.53" width="3.40" height="4.30" fill="#d0d6dc" />
<rect x="338.22" y="461.53" width="3.40" height="4.30" fill="#d5d2d2" />
<rect x="343.63" y="461.53" width="3.40" height="4.30" fill="#d5d2d2" />
<rect x="347.93" y="461.53" width="3.40" height="4.30" fill="#d5d2d2" />
<rect x="353.34" y="461.53" width="3.40" height="4.30" fill="#d5d2d2" />
<rect x="357.64" y="461.53" width="3.40" height="4.30" fill="#d5d2d2" />
<rect x="363.05" y="461.53" width="3.40" height="4.30" fill="#d5d2d2" />
<rect x="367.35" y="461.53" width="3.40" height="4.30" fill="#d5d2d2" />
<rect x="372.76" y="461.53" width="3.40" height="4.30" fill="#d0d6dc" />
<rect x="377.06" y="461.53" width="3.40" height="4.30" fill="#d5d2d2" />
<text x="310.90" y="465.76" font-size="5.8" text-anchor="end" textLength="39.88" lengthAdjust="spacingAndGlyphs">MYC targets V1</text>
<rect x="314.50" y="467.21" width="3.40" height="4.30" fill="#d5d2d2" />
<rect x="318.80" y="467.21" width="3.40" height="4.30" fill="#d8d0d0" />
<rect x="324.21" y="467.21" width="3.40" height="4.30" fill="#d5d2d2" />
<rect x="328.51" y="467.21" width="3.40" height="4.30" fill="#d8d0d0" />
<rect x="333.92" y="467.21" width="3.40" height="4.30" fill="#d5d2d2" />
<rect x="338.22" y="467.21" width="3.40" height="4.30" fill="#d5d2d2" />
<rect x="343.63" y="467.21" width="3.40" height="4.30" fill="#d5d2d2" />
<rect x="347.93" y="467.21" width="3.40" height="4.30" fill="#d5d2d2" />
<rect x="353.34" y="467.21" width="3.40" height="4.30" fill="#d8d0d0" />
<rect x="357.64" y="467.21" width="3.40" height="4.30" fill="#d5d2d2" />
<rect x="363.05" y="467.21" width="3.40" height="4.30" fill="#d5d2d2" />
<rect x="367.35" y="467.21" width="3.40" height="4.30" fill="#d5d2d2" />
<rect x="372.76" y="467.21" width="3.40" height="4.30" fill="#d5d2d2" />
<rect x="377.06" y="467.21" width="3.40" height="4.30" fill="#d5d2d2" />
<text x="310.90" y="471.45" font-size="5.8" text-anchor="end" textLength="58.1" lengthAdjust="spacingAndGlyphs">Estrogen response late</text>
<rect x="314.50" y="472.89" width="3.40" height="4.30" fill="#d5d2d2" />
<rect x="318.80" y="472.89" width="3.40" height="4.30" fill="#d5d2d2" />
<rect x="324.21" y="472.89" width="3.40" height="4.30" fill="#d5e3ee" />
<rect x="328.51" y="472.89" width="3.40" height="4.30" fill="#d5d2d2" />
<rect x="333.92" y="472.89" width="3.40" height="4.30" fill="#d5d2d2" />
<rect x="338.22" y="472.89" width="3.40" height="4.30" fill="#d5d2d2" />
<rect x="343.63" y="472.89" width="3.40" height="4.30" fill="#d5d2d2" />
<rect x="347.93" y="472.89" width="3.40" height="4.30" fill="#d5d2d2" />
<rect x="353.34" y="472.89" width="3.40" height="4.30" fill="#d0d6dc" />
<rect x="357.64" y="472.89" width="3.40" height="4.30" fill="#d5d2d2" />
<rect x="363.05" y="472.89" width="3.40" height="4.30" fill="#d5d2d2" />
<rect x="367.35" y="472.89" width="3.40" height="4.30" fill="#d5d2d2" />
<rect x="372.76" y="472.89" width="3.40" height="4.30" fill="#d5d2d2" />
<rect x="377.06" y="472.89" width="3.40" height="4.30" fill="#d5d2d2" />
<text x="310.90" y="477.13" font-size="5.8" text-anchor="end" textLength="43.65" lengthAdjust="spacingAndGlyphs">Allograft rejection</text>
<rect x="314.50" y="478.57" width="3.40" height="4.30" fill="#d5d2d2" />
<rect x="318.80" y="478.57" width="3.40" height="4.30" fill="#d5d2d2" />
<rect x="324.21" y="478.57" width="3.40" height="4.30" fill="#cfe2f0" />
<rect x="328.51" y="478.57" width="3.40" height="4.30" fill="#d5d2d2" />
<rect x="333.92" y="478.57" width="3.40" height="4.30" fill="#d0d6dc" />
<rect x="338.22" y="478.57" width="3.40" height="4.30" fill="#d5d2d2" />
<rect x="343.63" y="478.57" width="3.40" height="4.30" fill="#d5d2d2" />
<rect x="347.93" y="478.57" width="3.40" height="4.30" fill="#d5d2d2" />
<rect x="353.34" y="478.57" width="3.40" height="4.30" fill="#d5d2d2" />
<rect x="357.64" y="478.57" width="3.40" height="4.30" fill="#d5d2d2" />
<rect x="363.05" y="478.57" width="3.40" height="4.30" fill="#d5d2d2" />
<rect x="367.35" y="478.57" width="3.40" height="4.30" fill="#d5d2d2" />
<rect x="372.76" y="478.57" width="3.40" height="4.30" fill="#d5d2d2" />
<rect x="377.06" y="478.57" width="3.40" height="4.30" fill="#d5d2d2" />
<text x="310.90" y="482.81" font-size="5.8" text-anchor="end" textLength="33.92" lengthAdjust="spacingAndGlyphs">Adipogenesis</text>
<rect x="314.50" y="484.26" width="3.40" height="4.30" fill="#d5d2d2" />
<rect x="318.80" y="484.26" width="3.40" height="4.30" fill="#d5d2d2" />
<rect x="324.21" y="484.26" width="3.40" height="4.30" fill="#cfe2f0" />
<rect x="328.51" y="484.26" width="3.40" height="4.30" fill="#d5d2d2" />
<rect x="333.92" y="484.26" width="3.40" height="4.30" fill="#d5d2d2" />
<rect x="338.22" y="484.26" width="3.40" height="4.30" fill="#d5d2d2" />
<rect x="343.63" y="484.26" width="3.40" height="4.30" fill="#d0d6dc" />
<rect x="347.93" y="484.26" width="3.40" height="4.30" fill="#d5d2d2" />
<rect x="353.34" y="484.26" width="3.40" height="4.30" fill="#d5d2d2" />
<rect x="357.64" y="484.26" width="3.40" height="4.30" fill="#d5d2d2" />
<rect x="363.05" y="484.26" width="3.40" height="4.30" fill="#d5d2d2" />
<rect x="367.35" y="484.26" width="3.40" height="4.30" fill="#d5d2d2" />
<rect x="372.76" y="484.26" width="3.40" height="4.30" fill="#d5d2d2" />
<rect x="377.06" y="484.26" width="3.40" height="4.30" fill="#d5d2d2" />
<text x="310.90" y="488.50" font-size="5.8" text-anchor="end" textLength="36.43" lengthAdjust="spacingAndGlyphs">Apical junction</text>
<rect x="314.50" y="489.94" width="3.40" height="4.30" fill="#d5d2d2" />
<rect x="318.80" y="489.94" width="3.40" height="4.30" fill="#d5d2d2" />
<rect x="324.21" y="489.94" width="3.40" height="4.30" fill="#d5d2d2" />
<rect x="328.51" y="489.94" width="3.40" height="4.30" fill="#d5d2d2" />
<rect x="333.92" y="489.94" width="3.40" height="4.30" fill="#d5d2d2" />
<rect x="338.22" y="489.94" width="3.40" height="4.30" fill="#d8d0d0" />
<rect x="343.63" y="489.94" width="3.40" height="4.30" fill="#d5d2d2" />
<rect x="347.93" y="489.94" width="3.40" height="4.30" fill="#d5d2d2" />
<rect x="353.34" y="489.94" width="3.40" height="4.30" fill="#d5d2d2" />
<rect x="357.64" y="489.94" width="3.40" height="4.30" fill="#d5d2d2" />
<rect x="363.05" y="489.94" width="3.40" height="4.30" fill="#cfe2f0" />
<rect x="367.35" y="489.94" width="3.40" height="4.30" fill="#d5d2d2" />
<rect x="372.76" y="489.94" width="3.40" height="4.30" fill="#d0d6dc" />
<rect x="377.06" y="489.94" width="3.40" height="4.30" fill="#d8d0d0" />
<text x="310.90" y="494.18" font-size="5.8" text-anchor="end" textLength="34.86" lengthAdjust="spacingAndGlyphs">ROS pathway</text>
<rect x="314.50" y="495.62" width="3.40" height="4.30" fill="#d5d2d2" />
<rect x="318.80" y="495.62" width="3.40" height="4.30" fill="#d8d0d0" />
<rect x="324.21" y="495.62" width="3.40" height="4.30" fill="#d5d2d2" />
<rect x="328.51" y="495.62" width="3.40" height="4.30" fill="#d8d0d0" />
<rect x="333.92" y="495.62" width="3.40" height="4.30" fill="#d5d2d2" />
<rect x="338.22" y="495.62" width="3.40" height="4.30" fill="#d5d2d2" />
<rect x="343.63" y="495.62" width="3.40" height="4.30" fill="#d5d2d2" />
<rect x="347.93" y="495.62" width="3.40" height="4.30" fill="#d8d0d0" />
<rect x="353.34" y="495.62" width="3.40" height="4.30" fill="#d5d2d2" />
<rect x="357.64" y="495.62" width="3.40" height="4.30" fill="#d5d2d2" />
<rect x="363.05" y="495.62" width="3.40" height="4.30" fill="#d5d2d2" />
<rect x="367.35" y="495.62" width="3.40" height="4.30" fill="#d8d0d0" />
<rect x="372.76" y="495.62" width="3.40" height="4.30" fill="#ecd2c8" />
<rect x="377.06" y="495.62" width="3.40" height="4.30" fill="#d8d0d0" />
<text x="310.90" y="499.86" font-size="5.8" text-anchor="end" textLength="49.31" lengthAdjust="spacingAndGlyphs">Androgen response</text>
<rect x="314.50" y="501.31" width="3.40" height="4.30" fill="#d0d6dc" />
<rect x="318.80" y="501.31" width="3.40" height="4.30" fill="#d5d2d2" />
<rect x="324.21" y="501.31" width="3.40" height="4.30" fill="#d0d6dc" />
<rect x="328.51" y="501.31" width="3.40" height="4.30" fill="#d5d2d2" />
<rect x="333.92" y="501.31" width="3.40" height="4.30" fill="#d0d6dc" />
<rect x="338.22" y="501.31" width="3.40" height="4.30" fill="#d5d2d2" />
<rect x="343.63" y="501.31" width="3.40" height="4.30" fill="#d0d6dc" />
<rect x="347.93" y="501.31" width="3.40" height="4.30" fill="#d5d2d2" />
<rect x="353.34" y="501.31" width="3.40" height="4.30" fill="#d5d2d2" />
<rect x="357.64" y="501.31" width="3.40" height="4.30" fill="#d5d2d2" />
<rect x="363.05" y="501.31" width="3.40" height="4.30" fill="#d5d2d2" />
<rect x="367.35" y="501.31" width="3.40" height="4.30" fill="#d5d2d2" />
<rect x="372.76" y="501.31" width="3.40" height="4.30" fill="#d5d2d2" />
<rect x="377.06" y="501.31" width="3.40" height="4.30" fill="#d5d2d2" />
<text x="310.90" y="505.54" font-size="5.8" text-anchor="end" textLength="53.7" lengthAdjust="spacingAndGlyphs">Interferon-γ response</text>
<rect x="314.50" y="506.99" width="3.40" height="4.30" fill="#d5d2d2" />
<rect x="318.80" y="506.99" width="3.40" height="4.30" fill="#d5d2d2" />
<rect x="324.21" y="506.99" width="3.40" height="4.30" fill="#d5d2d2" />
<rect x="328.51" y="506.99" width="3.40" height="4.30" fill="#d8d0d0" />
<rect x="333.92" y="506.99" width="3.40" height="4.30" fill="#d5d2d2" />
<rect x="338.22" y="506.99" width="3.40" height="4.30" fill="#d5d2d2" />
<rect x="343.63" y="506.99" width="3.40" height="4.30" fill="#d0d6dc" />
<rect x="347.93" y="506.99" width="3.40" height="4.30" fill="#d5d2d2" />
<rect x="353.34" y="506.99" width="3.40" height="4.30" fill="#d5d2d2" />
<rect x="357.64" y="506.99" width="3.40" height="4.30" fill="#d5d2d2" />
<rect x="363.05" y="506.99" width="3.40" height="4.30" fill="#d5d2d2" />
<rect x="367.35" y="506.99" width="3.40" height="4.30" fill="#d5d2d2" />
<rect x="372.76" y="506.99" width="3.40" height="4.30" fill="#d5d2d2" />
<rect x="377.06" y="506.99" width="3.40" height="4.30" fill="#d5d2d2" />
<text x="310.90" y="511.23" font-size="5.8" text-anchor="end" textLength="54.95" lengthAdjust="spacingAndGlyphs">Fatty acid metabolism</text>
<rect x="314.50" y="512.67" width="3.40" height="4.30" fill="#d5d2d2" />
<rect x="318.80" y="512.67" width="3.40" height="4.30" fill="#d5d2d2" />
<rect x="324.21" y="512.67" width="3.40" height="4.30" fill="#d0d6dc" />
<rect x="328.51" y="512.67" width="3.40" height="4.30" fill="#d5d2d2" />
<rect x="333.92" y="512.67" width="3.40" height="4.30" fill="#d5d2d2" />
<rect x="338.22" y="512.67" width="3.40" height="4.30" fill="#d5d2d2" />
<rect x="343.63" y="512.67" width="3.40" height="4.30" fill="#d0d6dc" />
<rect x="347.93" y="512.67" width="3.40" height="4.30" fill="#d5d2d2" />
<rect x="353.34" y="512.67" width="3.40" height="4.30" fill="#d5d2d2" />
<rect x="357.64" y="512.67" width="3.40" height="4.30" fill="#d5d2d2" />
<rect x="363.05" y="512.67" width="3.40" height="4.30" fill="#d5d2d2" />
<rect x="367.35" y="512.67" width="3.40" height="4.30" fill="#d5d2d2" />
<rect x="372.76" y="512.67" width="3.40" height="4.30" fill="#d5d2d2" />
<rect x="377.06" y="512.67" width="3.40" height="4.30" fill="#d5d2d2" />
<text x="310.90" y="516.91" font-size="5.8" text-anchor="end" textLength="35.8" lengthAdjust="spacingAndGlyphs">Mitotic spindle</text>
<rect x="314.50" y="518.36" width="3.40" height="4.30" fill="#d5d2d2" />
<rect x="318.80" y="518.36" width="3.40" height="4.30" fill="#d5d2d2" />
<rect x="324.21" y="518.36" width="3.40" height="4.30" fill="#d5d2d2" />
<rect x="328.51" y="518.36" width="3.40" height="4.30" fill="#d5d2d2" />
<rect x="333.92" y="518.36" width="3.40" height="4.30" fill="#d5d2d2" />
<rect x="338.22" y="518.36" width="3.40" height="4.30" fill="#d5d2d2" />
<rect x="343.63" y="518.36" width="3.40" height="4.30" fill="#d5d2d2" />
<rect x="347.93" y="518.36" width="3.40" height="4.30" fill="#d8d0d0" />
<rect x="353.34" y="518.36" width="3.40" height="4.30" fill="#d5d2d2" />
<rect x="357.64" y="518.36" width="3.40" height="4.30" fill="#d5d2d2" />
<rect x="363.05" y="518.36" width="3.40" height="4.30" fill="#d5d2d2" />
<rect x="367.35" y="518.36" width="3.40" height="4.30" fill="#d5d2d2" />
<rect x="372.76" y="518.36" width="3.40" height="4.30" fill="#d5d2d2" />
<rect x="377.06" y="518.36" width="3.40" height="4.30" fill="#d5d2d2" />
<text x="310.90" y="522.59" font-size="5.8" text-anchor="end" textLength="27.63" lengthAdjust="spacingAndGlyphs">DNA repair</text>
<rect x="313.50" y="317.30" width="9.71" height="207.10" fill="none" stroke="#4a4a4a" stroke-width="1"/>
<rect x="323.21" y="317.30" width="9.71" height="207.10" fill="none" stroke="#4a4a4a" stroke-width="1"/>
<rect x="332.92" y="317.30" width="9.71" height="207.10" fill="none" stroke="#4a4a4a" stroke-width="1"/>
<rect x="342.63" y="317.30" width="9.71" height="207.10" fill="none" stroke="#4a4a4a" stroke-width="1"/>
<rect x="352.34" y="317.30" width="9.71" height="207.10" fill="none" stroke="#4a4a4a" stroke-width="1"/>
<rect x="362.05" y="317.30" width="9.71" height="207.10" fill="none" stroke="#4a4a4a" stroke-width="1"/>
<rect x="371.76" y="317.30" width="9.71" height="207.10" fill="none" stroke="#4a4a4a" stroke-width="1"/>
<text x="320.46" y="528.4" font-size="6.0" text-anchor="end" textLength="38" lengthAdjust="spacingAndGlyphs" transform="rotate(-90 320.46 528.4)">Mock electro</text>
<text x="330.17" y="528.4" font-size="6.0" text-anchor="end" textLength="13" lengthAdjust="spacingAndGlyphs" transform="rotate(-90 330.17 528.4)">RNA</text>
<text x="339.88" y="528.4" font-size="6.0" text-anchor="end" textLength="13" lengthAdjust="spacingAndGlyphs" transform="rotate(-90 339.88 528.4)">RNP</text>
<text x="349.59" y="528.4" font-size="6.0" text-anchor="end" textLength="35" lengthAdjust="spacingAndGlyphs" transform="rotate(-90 349.59 528.4)">Empty LNPs</text>
<text x="359.30" y="528.4" font-size="6.0" text-anchor="end" textLength="16" lengthAdjust="spacingAndGlyphs" transform="rotate(-90 359.30 528.4)">LNPs</text>
<text x="369.01" y="528.4" font-size="6.0" text-anchor="end" textLength="38.5" lengthAdjust="spacingAndGlyphs" transform="rotate(-90 369.01 528.4)">LNPs vs. RNA</text>
<text x="378.72" y="528.4" font-size="6.0" text-anchor="end" textLength="38.5" lengthAdjust="spacingAndGlyphs" transform="rotate(-90 378.72 528.4)">LNPs vs. RNP</text>
<line x1="313.50" y1="570.50" x2="361.40" y2="570.50" stroke="#231f20" stroke-width="0.9" />
<text x="337.30" y="578.76" font-size="6.0" text-anchor="middle" textLength="17.5" lengthAdjust="spacingAndGlyphs">vs. UT</text>
<defs><linearGradient id="rdbu" x1="0" y1="0" x2="0" y2="1"><stop offset="0" stop-color="#67001f"/><stop offset="0.17" stop-color="#c1272d"/><stop offset="0.33" stop-color="#ec8a6c"/><stop offset="0.5" stop-color="#f7f4f2"/><stop offset="0.67" stop-color="#8cc2e2"/><stop offset="0.83" stop-color="#2d74b3"/><stop offset="1" stop-color="#053061"/></linearGradient></defs>
<rect x="264.30" y="537.90" width="7.20" height="35.70" fill="url(#rdbu)" />
<text x="275.20" y="540.73" font-size="6.2">10</text>
<text x="275.20" y="549.63" font-size="6.2">5</text>
<text x="275.20" y="558.43" font-size="6.2">0</text>
<text x="273.90" y="567.43" font-size="6.2">–5</text>
<text x="273.90" y="575.83" font-size="6.2">–10</text>
<text x="243.40" y="531.83" font-size="6.2" textLength="65.2" lengthAdjust="spacingAndGlyphs">–log10(p.adj)*sign(Enr)</text>
<text x="397.7" y="316.66" font-size="11.2" font-weight="bold" style="stroke-width:0.45px">J</text>
<line x1="427.50" y1="331.60" x2="427.50" y2="396.80" stroke="#231f20" stroke-width="1.1" />
<line x1="424.80" y1="396.50" x2="427.00" y2="396.50" stroke="#231f20" stroke-width="0.9" />
<text x="421.60" y="398.64" font-size="6.5" text-anchor="end">0</text>
<line x1="424.80" y1="383.50" x2="427.00" y2="383.50" stroke="#231f20" stroke-width="0.9" />
<text x="421.60" y="385.98" font-size="6.5" text-anchor="end">10</text>
<line x1="424.80" y1="370.50" x2="427.00" y2="370.50" stroke="#231f20" stroke-width="0.9" />
<text x="421.60" y="373.32" font-size="6.5" text-anchor="end">20</text>
<line x1="424.80" y1="358.50" x2="427.00" y2="358.50" stroke="#231f20" stroke-width="0.9" />
<text x="421.60" y="360.66" font-size="6.5" text-anchor="end">30</text>
<line x1="424.80" y1="345.50" x2="427.00" y2="345.50" stroke="#231f20" stroke-width="0.9" />
<text x="421.60" y="348.00" font-size="6.5" text-anchor="end">40</text>
<line x1="424.80" y1="333.50" x2="427.00" y2="333.50" stroke="#231f20" stroke-width="0.9" />
<text x="421.60" y="335.34" font-size="6.5" text-anchor="end">50</text>
<line x1="426.00" y1="389.97" x2="427.00" y2="389.97" stroke="#231f20" stroke-width="0.6" />
<line x1="426.00" y1="377.31" x2="427.00" y2="377.31" stroke="#231f20" stroke-width="0.6" />
<line x1="426.00" y1="364.65" x2="427.00" y2="364.65" stroke="#231f20" stroke-width="0.6" />
<line x1="426.00" y1="351.99" x2="427.00" y2="351.99" stroke="#231f20" stroke-width="0.6" />
<line x1="426.00" y1="339.33" x2="427.00" y2="339.33" stroke="#231f20" stroke-width="0.6" />
<text x="405.00" y="366.31" font-size="7.8" text-anchor="middle" textLength="82" lengthAdjust="spacingAndGlyphs" transform="rotate(-90 405.00 363.50)" style="stroke-width:0.26px">Percentage of hCD45+ cells</text>
<line x1="426.60" y1="396.50" x2="510.00" y2="396.50" stroke="#231f20" stroke-width="0.9" />
<line x1="427.50" y1="396.30" x2="427.50" y2="397.90" stroke="#231f20" stroke-width="0.9" />
<text x="427.00" y="406.23" font-size="6.2" text-anchor="middle">0</text>
<line x1="452.50" y1="396.30" x2="452.50" y2="397.90" stroke="#231f20" stroke-width="0.9" />
<text x="452.80" y="406.23" font-size="6.2" text-anchor="middle">5</text>
<line x1="478.50" y1="396.30" x2="478.50" y2="397.90" stroke="#231f20" stroke-width="0.9" />
<text x="478.60" y="406.23" font-size="6.2" text-anchor="middle">10</text>
<line x1="504.50" y1="396.30" x2="504.50" y2="397.90" stroke="#231f20" stroke-width="0.9" />
<text x="504.40" y="406.23" font-size="6.2" text-anchor="middle">15</text>
<line x1="439.90" y1="396.30" x2="439.90" y2="397.30" stroke="#231f20" stroke-width="0.6" />
<line x1="465.70" y1="396.30" x2="465.70" y2="397.30" stroke="#231f20" stroke-width="0.6" />
<line x1="491.50" y1="396.30" x2="491.50" y2="397.30" stroke="#231f20" stroke-width="0.6" />
<text x="468.30" y="419.81" font-size="7.8" text-anchor="middle" textLength="82.5" lengthAdjust="spacingAndGlyphs" style="stroke-width:0.26px">Weeks upon transplantation</text>
<line x1="447.50" y1="387.44" x2="447.50" y2="392.50" stroke="#52b848" stroke-width="0.9" />
<line x1="446.54" y1="387.50" x2="448.74" y2="387.50" stroke="#52b848" stroke-width="0.9" />
<line x1="446.54" y1="392.50" x2="448.74" y2="392.50" stroke="#52b848" stroke-width="0.9" />
<line x1="457.50" y1="373.51" x2="457.50" y2="386.17" stroke="#52b848" stroke-width="0.9" />
<line x1="456.86" y1="373.50" x2="459.06" y2="373.50" stroke="#52b848" stroke-width="0.9" />
<line x1="456.86" y1="386.50" x2="459.06" y2="386.50" stroke="#52b848" stroke-width="0.9" />
<line x1="468.50" y1="365.92" x2="468.50" y2="386.17" stroke="#52b848" stroke-width="0.9" />
<line x1="467.18" y1="365.50" x2="469.38" y2="365.50" stroke="#52b848" stroke-width="0.9" />
<line x1="467.18" y1="386.50" x2="469.38" y2="386.50" stroke="#52b848" stroke-width="0.9" />
<line x1="478.50" y1="377.31" x2="478.50" y2="387.44" stroke="#52b848" stroke-width="0.9" />
<line x1="477.50" y1="377.50" x2="479.70" y2="377.50" stroke="#52b848" stroke-width="0.9" />
<line x1="477.50" y1="387.50" x2="479.70" y2="387.50" stroke="#52b848" stroke-width="0.9" />
<line x1="488.50" y1="388.07" x2="488.50" y2="391.87" stroke="#52b848" stroke-width="0.9" />
<line x1="487.82" y1="388.50" x2="490.02" y2="388.50" stroke="#52b848" stroke-width="0.9" />
<line x1="487.82" y1="391.50" x2="490.02" y2="391.50" stroke="#52b848" stroke-width="0.9" />
<line x1="504.50" y1="389.34" x2="504.50" y2="393.13" stroke="#52b848" stroke-width="0.9" />
<line x1="503.30" y1="389.50" x2="505.50" y2="389.50" stroke="#52b848" stroke-width="0.9" />
<line x1="503.30" y1="393.50" x2="505.50" y2="393.50" stroke="#52b848" stroke-width="0.9" />
<path d="M447.64,389.97 L457.96,379.84 L468.28,376.04 L478.60,382.37 L488.92,389.97 L504.40,391.24" fill="none" stroke="#52b848" stroke-width="1.2" stroke-linejoin="round"/>
<circle cx="447.64" cy="389.97" r="1.30" fill="#52b848" />
<circle cx="457.96" cy="379.84" r="1.30" fill="#52b848" />
<circle cx="468.28" cy="376.04" r="1.30" fill="#52b848" />
<circle cx="478.60" cy="382.37" r="1.30" fill="#52b848" />
<circle cx="488.92" cy="389.97" r="1.30" fill="#52b848" />
<circle cx="504.40" cy="391.24" r="1.30" fill="#52b848" />
<line x1="447.50" y1="385.54" x2="447.50" y2="393.13" stroke="#1d4a78" stroke-width="0.9" />
<line x1="446.54" y1="385.50" x2="448.74" y2="385.50" stroke="#1d4a78" stroke-width="0.9" />
<line x1="446.54" y1="393.50" x2="448.74" y2="393.50" stroke="#1d4a78" stroke-width="0.9" />
<line x1="457.50" y1="365.92" x2="457.50" y2="378.58" stroke="#1d4a78" stroke-width="0.9" />
<line x1="456.86" y1="365.50" x2="459.06" y2="365.50" stroke="#1d4a78" stroke-width="0.9" />
<line x1="456.86" y1="378.50" x2="459.06" y2="378.50" stroke="#1d4a78" stroke-width="0.9" />
<line x1="468.50" y1="367.81" x2="468.50" y2="385.54" stroke="#1d4a78" stroke-width="0.9" />
<line x1="467.18" y1="367.50" x2="469.38" y2="367.50" stroke="#1d4a78" stroke-width="0.9" />
<line x1="467.18" y1="385.50" x2="469.38" y2="385.50" stroke="#1d4a78" stroke-width="0.9" />
<line x1="478.50" y1="377.31" x2="478.50" y2="387.44" stroke="#1d4a78" stroke-width="0.9" />
<line x1="477.50" y1="377.50" x2="479.70" y2="377.50" stroke="#1d4a78" stroke-width="0.9" />
<line x1="477.50" y1="387.50" x2="479.70" y2="387.50" stroke="#1d4a78" stroke-width="0.9" />
<line x1="488.50" y1="388.07" x2="488.50" y2="391.87" stroke="#1d4a78" stroke-width="0.9" />
<line x1="487.82" y1="388.50" x2="490.02" y2="388.50" stroke="#1d4a78" stroke-width="0.9" />
<line x1="487.82" y1="391.50" x2="490.02" y2="391.50" stroke="#1d4a78" stroke-width="0.9" />
<line x1="504.50" y1="388.07" x2="504.50" y2="393.13" stroke="#1d4a78" stroke-width="0.9" />
<line x1="503.30" y1="388.50" x2="505.50" y2="388.50" stroke="#1d4a78" stroke-width="0.9" />
<line x1="503.30" y1="393.50" x2="505.50" y2="393.50" stroke="#1d4a78" stroke-width="0.9" />
<path d="M447.64,389.34 L457.96,372.25 L468.28,376.68 L478.60,382.37 L488.92,389.97 L504.40,390.60" fill="none" stroke="#1d4a78" stroke-width="1.2" stroke-linejoin="round"/>
<circle cx="447.64" cy="389.34" r="1.30" fill="#1d4a78" />
<circle cx="457.96" cy="372.25" r="1.30" fill="#1d4a78" />
<circle cx="468.28" cy="376.68" r="1.30" fill="#1d4a78" />
<circle cx="478.60" cy="382.37" r="1.30" fill="#1d4a78" />
<circle cx="488.92" cy="389.97" r="1.30" fill="#1d4a78" />
<circle cx="504.40" cy="390.60" r="1.30" fill="#1d4a78" />
<line x1="447.50" y1="390.60" x2="447.50" y2="394.40" stroke="#b21f24" stroke-width="0.9" />
<line x1="446.54" y1="390.50" x2="448.74" y2="390.50" stroke="#b21f24" stroke-width="0.9" />
<line x1="446.54" y1="394.50" x2="448.74" y2="394.50" stroke="#b21f24" stroke-width="0.9" />
<line x1="457.50" y1="373.51" x2="457.50" y2="393.77" stroke="#b21f24" stroke-width="0.9" />
<line x1="456.86" y1="373.50" x2="459.06" y2="373.50" stroke="#b21f24" stroke-width="0.9" />
<line x1="456.86" y1="393.50" x2="459.06" y2="393.50" stroke="#b21f24" stroke-width="0.9" />
<line x1="468.50" y1="363.38" x2="468.50" y2="378.58" stroke="#b21f24" stroke-width="0.9" />
<line x1="467.18" y1="363.50" x2="469.38" y2="363.50" stroke="#b21f24" stroke-width="0.9" />
<line x1="467.18" y1="378.50" x2="469.38" y2="378.50" stroke="#b21f24" stroke-width="0.9" />
<line x1="478.50" y1="373.51" x2="478.50" y2="381.11" stroke="#b21f24" stroke-width="0.9" />
<line x1="477.50" y1="373.50" x2="479.70" y2="373.50" stroke="#b21f24" stroke-width="0.9" />
<line x1="477.50" y1="381.50" x2="479.70" y2="381.50" stroke="#b21f24" stroke-width="0.9" />
<line x1="488.50" y1="386.81" x2="488.50" y2="390.60" stroke="#b21f24" stroke-width="0.9" />
<line x1="487.82" y1="386.50" x2="490.02" y2="386.50" stroke="#b21f24" stroke-width="0.9" />
<line x1="487.82" y1="390.50" x2="490.02" y2="390.50" stroke="#b21f24" stroke-width="0.9" />
<line x1="504.50" y1="378.58" x2="504.50" y2="396.30" stroke="#b21f24" stroke-width="0.9" />
<line x1="503.30" y1="378.50" x2="505.50" y2="378.50" stroke="#b21f24" stroke-width="0.9" />
<line x1="503.30" y1="396.50" x2="505.50" y2="396.50" stroke="#b21f24" stroke-width="0.9" />
<path d="M447.64,392.50 L457.96,383.64 L468.28,370.98 L478.60,377.31 L488.92,388.70 L504.40,389.34" fill="none" stroke="#b21f24" stroke-width="1.2" stroke-linejoin="round"/>
<circle cx="447.64" cy="392.50" r="1.30" fill="#b21f24" />
<circle cx="457.96" cy="383.64" r="1.30" fill="#b21f24" />
<circle cx="468.28" cy="370.98" r="1.30" fill="#b21f24" />
<circle cx="478.60" cy="377.31" r="1.30" fill="#b21f24" />
<circle cx="488.92" cy="388.70" r="1.30" fill="#b21f24" />
<circle cx="504.40" cy="389.34" r="1.30" fill="#b21f24" />
<line x1="430.50" y1="335.50" x2="439.50" y2="335.50" stroke="#b21f24" stroke-width="0.9" />
<circle cx="435.00" cy="335.00" r="1.35" fill="#b21f24" />
<text x="442.50" y="337.23" font-size="6.2">RNA</text>
<line x1="430.50" y1="343.50" x2="439.50" y2="343.50" stroke="#52b848" stroke-width="0.9" />
<circle cx="435.00" cy="343.80" r="1.35" fill="#52b848" />
<text x="442.50" y="346.03" font-size="6.2">RNP</text>
<line x1="430.50" y1="353.50" x2="439.50" y2="353.50" stroke="#1d4a78" stroke-width="0.9" />
<circle cx="435.00" cy="353.00" r="1.35" fill="#1d4a78" />
<text x="442.50" y="355.23" font-size="6.2">LNPs</text>
<line x1="458.00" y1="333.30" x2="458.00" y2="347.00" stroke="#231f20" stroke-width="0.6" />
<line x1="460.80" y1="337.00" x2="460.80" y2="355.00" stroke="#231f20" stroke-width="0.6" />
<line x1="463.30" y1="333.30" x2="463.30" y2="355.00" stroke="#231f20" stroke-width="0.6" />
<text x="467.00" y="346.02" font-size="5.6">ns</text>
<text x="10.2" y="456.66" font-size="11.2" font-weight="bold" style="stroke-width:0.45px">K</text>
<line x1="33.50" y1="471.60" x2="33.50" y2="536.80" stroke="#231f20" stroke-width="1.1" />
<line x1="31.60" y1="536.50" x2="33.80" y2="536.50" stroke="#231f20" stroke-width="0.9" />
<text x="28.40" y="538.64" font-size="6.5" text-anchor="end">0</text>
<line x1="31.60" y1="523.50" x2="33.80" y2="523.50" stroke="#231f20" stroke-width="0.9" />
<text x="28.40" y="525.98" font-size="6.5" text-anchor="end">10</text>
<line x1="31.60" y1="510.50" x2="33.80" y2="510.50" stroke="#231f20" stroke-width="0.9" />
<text x="28.40" y="513.32" font-size="6.5" text-anchor="end">20</text>
<line x1="31.60" y1="498.50" x2="33.80" y2="498.50" stroke="#231f20" stroke-width="0.9" />
<text x="28.40" y="500.66" font-size="6.5" text-anchor="end">30</text>
<line x1="31.60" y1="485.50" x2="33.80" y2="485.50" stroke="#231f20" stroke-width="0.9" />
<text x="28.40" y="488.00" font-size="6.5" text-anchor="end">40</text>
<line x1="31.60" y1="473.50" x2="33.80" y2="473.50" stroke="#231f20" stroke-width="0.9" />
<text x="28.40" y="475.34" font-size="6.5" text-anchor="end">50</text>
<line x1="32.80" y1="529.97" x2="33.80" y2="529.97" stroke="#231f20" stroke-width="0.6" />
<line x1="32.80" y1="517.31" x2="33.80" y2="517.31" stroke="#231f20" stroke-width="0.6" />
<line x1="32.80" y1="504.65" x2="33.80" y2="504.65" stroke="#231f20" stroke-width="0.6" />
<line x1="32.80" y1="491.99" x2="33.80" y2="491.99" stroke="#231f20" stroke-width="0.6" />
<line x1="32.80" y1="479.33" x2="33.80" y2="479.33" stroke="#231f20" stroke-width="0.6" />
<text x="13.80" y="507.81" font-size="7.8" text-anchor="middle" textLength="82" lengthAdjust="spacingAndGlyphs" transform="rotate(-90 13.80 505.00)" style="stroke-width:0.26px">Percentage of hCD45+ cells</text>
<line x1="33.40" y1="536.50" x2="95.00" y2="536.50" stroke="#231f20" stroke-width="0.9" />
<line x1="49.50" y1="536.30" x2="49.50" y2="537.90" stroke="#231f20" stroke-width="0.9" />
<line x1="82.50" y1="536.30" x2="82.50" y2="537.90" stroke="#231f20" stroke-width="0.9" />
<text x="49.50" y="548.68" font-size="6.6" text-anchor="middle">BM</text>
<text x="82.50" y="548.68" font-size="6.6" text-anchor="middle">Spleen</text>
<circle cx="39.52" cy="532.50" r="1.50" fill="#1d4a78" />
<circle cx="41.50" cy="527.44" r="1.50" fill="#1d4a78" />
<circle cx="43.48" cy="523.64" r="1.50" fill="#1d4a78" />
<circle cx="39.52" cy="521.11" r="1.50" fill="#1d4a78" />
<circle cx="41.50" cy="519.84" r="1.50" fill="#1d4a78" />
<circle cx="43.48" cy="518.58" r="1.50" fill="#1d4a78" />
<line x1="38.30" y1="522.50" x2="44.70" y2="522.50" stroke="#1d4a78" stroke-width="0.9" />
<circle cx="49.52" cy="526.17" r="1.50" fill="#b21f24" />
<circle cx="51.50" cy="525.54" r="1.50" fill="#b21f24" />
<circle cx="53.48" cy="524.91" r="1.50" fill="#b21f24" />
<circle cx="49.52" cy="519.84" r="1.50" fill="#b21f24" />
<circle cx="51.50" cy="509.71" r="1.50" fill="#b21f24" />
<line x1="48.30" y1="524.50" x2="54.70" y2="524.50" stroke="#b21f24" stroke-width="0.9" />
<circle cx="57.52" cy="529.97" r="1.50" fill="#52b848" />
<circle cx="59.50" cy="527.44" r="1.50" fill="#52b848" />
<circle cx="61.48" cy="524.27" r="1.50" fill="#52b848" />
<circle cx="57.52" cy="522.37" r="1.50" fill="#52b848" />
<circle cx="59.50" cy="519.21" r="1.50" fill="#52b848" />
<circle cx="61.48" cy="518.58" r="1.50" fill="#52b848" />
<line x1="56.30" y1="523.50" x2="62.70" y2="523.50" stroke="#52b848" stroke-width="0.9" />
<circle cx="71.52" cy="533.77" r="1.50" fill="#1d4a78" />
<circle cx="73.50" cy="523.64" r="1.50" fill="#1d4a78" />
<circle cx="75.48" cy="498.32" r="1.50" fill="#1d4a78" />
<circle cx="71.52" cy="497.69" r="1.50" fill="#1d4a78" />
<circle cx="73.50" cy="488.19" r="1.50" fill="#1d4a78" />
<circle cx="75.48" cy="485.03" r="1.50" fill="#1d4a78" />
<line x1="70.30" y1="498.50" x2="76.70" y2="498.50" stroke="#1d4a78" stroke-width="0.9" />
<circle cx="81.02" cy="510.98" r="1.50" fill="#b21f24" />
<circle cx="83.00" cy="509.71" r="1.50" fill="#b21f24" />
<circle cx="84.98" cy="503.38" r="1.50" fill="#b21f24" />
<circle cx="81.02" cy="500.85" r="1.50" fill="#b21f24" />
<circle cx="83.00" cy="490.72" r="1.50" fill="#b21f24" />
<line x1="79.80" y1="504.50" x2="86.20" y2="504.50" stroke="#b21f24" stroke-width="0.9" />
<circle cx="89.02" cy="518.58" r="1.50" fill="#52b848" />
<circle cx="91.00" cy="514.78" r="1.50" fill="#52b848" />
<circle cx="92.98" cy="513.51" r="1.50" fill="#52b848" />
<circle cx="89.02" cy="508.45" r="1.50" fill="#52b848" />
<circle cx="91.00" cy="493.26" r="1.50" fill="#52b848" />
<line x1="87.80" y1="514.50" x2="94.20" y2="514.50" stroke="#52b848" stroke-width="0.9" />
<circle cx="38.00" cy="473.30" r="1.50" fill="#b21f24" />
<text x="41.60" y="475.53" font-size="6.2">RNA</text>
<circle cx="38.00" cy="481.30" r="1.50" fill="#52b848" />
<text x="41.60" y="483.53" font-size="6.2">RNP</text>
<circle cx="38.00" cy="489.80" r="1.50" fill="#1d4a78" />
<text x="41.60" y="492.03" font-size="6.2">LNPs</text>
<line x1="58.30" y1="471.50" x2="58.30" y2="487.00" stroke="#231f20" stroke-width="0.6" />
<line x1="60.00" y1="476.00" x2="60.00" y2="492.00" stroke="#231f20" stroke-width="0.6" />
<line x1="61.80" y1="471.50" x2="61.80" y2="492.00" stroke="#231f20" stroke-width="0.6" />
<text x="63.60" y="483.32" font-size="5.6">ns</text>
<text x="115.7" y="456.66" font-size="11.2" font-weight="bold" style="stroke-width:0.45px">L</text>
<line x1="150.50" y1="474.90" x2="150.50" y2="536.80" stroke="#231f20" stroke-width="1.1" />
<line x1="147.80" y1="536.50" x2="150.00" y2="536.50" stroke="#231f20" stroke-width="0.9" />
<text x="142.80" y="538.64" font-size="6.5" text-anchor="end">0</text>
<line x1="147.80" y1="524.50" x2="150.00" y2="524.50" stroke="#231f20" stroke-width="0.9" />
<text x="142.80" y="526.64" font-size="6.5" text-anchor="end">10</text>
<line x1="147.80" y1="512.50" x2="150.00" y2="512.50" stroke="#231f20" stroke-width="0.9" />
<text x="142.80" y="514.64" font-size="6.5" text-anchor="end">20</text>
<line x1="147.80" y1="500.50" x2="150.00" y2="500.50" stroke="#231f20" stroke-width="0.9" />
<text x="142.80" y="502.64" font-size="6.5" text-anchor="end">30</text>
<line x1="147.80" y1="488.50" x2="150.00" y2="488.50" stroke="#231f20" stroke-width="0.9" />
<text x="142.80" y="490.64" font-size="6.5" text-anchor="end">40</text>
<line x1="147.80" y1="476.50" x2="150.00" y2="476.50" stroke="#231f20" stroke-width="0.9" />
<text x="142.80" y="478.64" font-size="6.5" text-anchor="end">50</text>
<line x1="149.00" y1="530.30" x2="150.00" y2="530.30" stroke="#231f20" stroke-width="0.6" />
<line x1="149.00" y1="518.30" x2="150.00" y2="518.30" stroke="#231f20" stroke-width="0.6" />
<line x1="149.00" y1="506.30" x2="150.00" y2="506.30" stroke="#231f20" stroke-width="0.6" />
<line x1="149.00" y1="494.30" x2="150.00" y2="494.30" stroke="#231f20" stroke-width="0.6" />
<line x1="149.00" y1="482.30" x2="150.00" y2="482.30" stroke="#231f20" stroke-width="0.6" />
<text x="118.20" y="507.81" font-size="7.8" text-anchor="middle" textLength="58.3" lengthAdjust="spacingAndGlyphs" transform="rotate(-90 118.20 505.00)" style="stroke-width:0.26px">Percentage of B2M-</text>
<text x="127.70" y="508.21" font-size="7.8" text-anchor="middle" textLength="61.5" lengthAdjust="spacingAndGlyphs" transform="rotate(-90 127.70 505.40)" style="stroke-width:0.26px">within hCD45+ cells</text>
<line x1="149.60" y1="536.50" x2="230.00" y2="536.50" stroke="#231f20" stroke-width="0.9" />
<line x1="150.50" y1="536.30" x2="150.50" y2="538.30" stroke="#231f20" stroke-width="0.9" />
<text x="150.00" y="548.34" font-size="6.5" text-anchor="middle">0</text>
<line x1="176.50" y1="536.30" x2="176.50" y2="538.30" stroke="#231f20" stroke-width="0.9" />
<text x="176.70" y="548.34" font-size="6.5" text-anchor="middle">5</text>
<line x1="203.50" y1="536.30" x2="203.50" y2="538.30" stroke="#231f20" stroke-width="0.9" />
<text x="203.40" y="548.34" font-size="6.5" text-anchor="middle">10</text>
<line x1="230.50" y1="536.30" x2="230.50" y2="538.30" stroke="#231f20" stroke-width="0.9" />
<text x="230.10" y="548.34" font-size="6.5" text-anchor="middle">15</text>
<text x="190.60" y="560.21" font-size="7.8" text-anchor="middle" textLength="83.7" lengthAdjust="spacingAndGlyphs" style="stroke-width:0.26px">Weeks upon transplantation</text>
<line x1="171.50" y1="501.50" x2="171.50" y2="511.10" stroke="#52b848" stroke-width="0.9" />
<line x1="170.26" y1="501.50" x2="172.46" y2="501.50" stroke="#52b848" stroke-width="0.9" />
<line x1="170.26" y1="511.50" x2="172.46" y2="511.50" stroke="#52b848" stroke-width="0.9" />
<line x1="182.50" y1="500.30" x2="182.50" y2="517.10" stroke="#52b848" stroke-width="0.9" />
<line x1="180.94" y1="500.50" x2="183.14" y2="500.50" stroke="#52b848" stroke-width="0.9" />
<line x1="180.94" y1="517.50" x2="183.14" y2="517.50" stroke="#52b848" stroke-width="0.9" />
<line x1="192.50" y1="499.10" x2="192.50" y2="515.90" stroke="#52b848" stroke-width="0.9" />
<line x1="191.62" y1="499.50" x2="193.82" y2="499.50" stroke="#52b848" stroke-width="0.9" />
<line x1="191.62" y1="515.50" x2="193.82" y2="515.50" stroke="#52b848" stroke-width="0.9" />
<line x1="203.50" y1="511.70" x2="203.50" y2="518.90" stroke="#52b848" stroke-width="0.9" />
<line x1="202.30" y1="511.50" x2="204.50" y2="511.50" stroke="#52b848" stroke-width="0.9" />
<line x1="202.30" y1="518.50" x2="204.50" y2="518.50" stroke="#52b848" stroke-width="0.9" />
<line x1="214.50" y1="512.30" x2="214.50" y2="519.50" stroke="#52b848" stroke-width="0.9" />
<line x1="212.98" y1="512.50" x2="215.18" y2="512.50" stroke="#52b848" stroke-width="0.9" />
<line x1="212.98" y1="519.50" x2="215.18" y2="519.50" stroke="#52b848" stroke-width="0.9" />
<line x1="224.50" y1="514.70" x2="224.50" y2="521.90" stroke="#52b848" stroke-width="0.9" />
<line x1="223.66" y1="514.50" x2="225.86" y2="514.50" stroke="#52b848" stroke-width="0.9" />
<line x1="223.66" y1="521.50" x2="225.86" y2="521.50" stroke="#52b848" stroke-width="0.9" />
<path d="M171.36,506.30 L182.04,508.70 L192.72,507.50 L203.40,515.30 L214.08,515.90 L224.76,518.30" fill="none" stroke="#52b848" stroke-width="1.2" stroke-linejoin="round"/>
<circle cx="171.36" cy="506.30" r="1.30" fill="#52b848" />
<circle cx="182.04" cy="508.70" r="1.30" fill="#52b848" />
<circle cx="192.72" cy="507.50" r="1.30" fill="#52b848" />
<circle cx="203.40" cy="515.30" r="1.30" fill="#52b848" />
<circle cx="214.08" cy="515.90" r="1.30" fill="#52b848" />
<circle cx="224.76" cy="518.30" r="1.30" fill="#52b848" />
<line x1="171.50" y1="500.30" x2="171.50" y2="512.30" stroke="#1d4a78" stroke-width="0.9" />
<line x1="170.26" y1="500.50" x2="172.46" y2="500.50" stroke="#1d4a78" stroke-width="0.9" />
<line x1="170.26" y1="512.50" x2="172.46" y2="512.50" stroke="#1d4a78" stroke-width="0.9" />
<line x1="182.50" y1="501.50" x2="182.50" y2="518.30" stroke="#1d4a78" stroke-width="0.9" />
<line x1="180.94" y1="501.50" x2="183.14" y2="501.50" stroke="#1d4a78" stroke-width="0.9" />
<line x1="180.94" y1="518.50" x2="183.14" y2="518.50" stroke="#1d4a78" stroke-width="0.9" />
<line x1="192.50" y1="503.90" x2="192.50" y2="518.30" stroke="#1d4a78" stroke-width="0.9" />
<line x1="191.62" y1="503.50" x2="193.82" y2="503.50" stroke="#1d4a78" stroke-width="0.9" />
<line x1="191.62" y1="518.50" x2="193.82" y2="518.50" stroke="#1d4a78" stroke-width="0.9" />
<line x1="203.50" y1="513.50" x2="203.50" y2="523.10" stroke="#1d4a78" stroke-width="0.9" />
<line x1="202.30" y1="513.50" x2="204.50" y2="513.50" stroke="#1d4a78" stroke-width="0.9" />
<line x1="202.30" y1="523.50" x2="204.50" y2="523.50" stroke="#1d4a78" stroke-width="0.9" />
<line x1="214.50" y1="515.90" x2="214.50" y2="525.50" stroke="#1d4a78" stroke-width="0.9" />
<line x1="212.98" y1="515.50" x2="215.18" y2="515.50" stroke="#1d4a78" stroke-width="0.9" />
<line x1="212.98" y1="525.50" x2="215.18" y2="525.50" stroke="#1d4a78" stroke-width="0.9" />
<line x1="224.50" y1="511.10" x2="224.50" y2="527.90" stroke="#1d4a78" stroke-width="0.9" />
<line x1="223.66" y1="511.50" x2="225.86" y2="511.50" stroke="#1d4a78" stroke-width="0.9" />
<line x1="223.66" y1="527.50" x2="225.86" y2="527.50" stroke="#1d4a78" stroke-width="0.9" />
<path d="M171.36,506.30 L182.04,509.90 L192.72,511.10 L203.40,518.30 L214.08,520.70 L224.76,519.50" fill="none" stroke="#1d4a78" stroke-width="1.2" stroke-linejoin="round"/>
<circle cx="171.36" cy="506.30" r="1.30" fill="#1d4a78" />
<circle cx="182.04" cy="509.90" r="1.30" fill="#1d4a78" />
<circle cx="192.72" cy="511.10" r="1.30" fill="#1d4a78" />
<circle cx="203.40" cy="518.30" r="1.30" fill="#1d4a78" />
<circle cx="214.08" cy="520.70" r="1.30" fill="#1d4a78" />
<circle cx="224.76" cy="519.50" r="1.30" fill="#1d4a78" />
<line x1="171.50" y1="502.70" x2="171.50" y2="512.30" stroke="#b21f24" stroke-width="0.9" />
<line x1="170.26" y1="502.50" x2="172.46" y2="502.50" stroke="#b21f24" stroke-width="0.9" />
<line x1="170.26" y1="512.50" x2="172.46" y2="512.50" stroke="#b21f24" stroke-width="0.9" />
<line x1="182.50" y1="503.90" x2="182.50" y2="515.90" stroke="#b21f24" stroke-width="0.9" />
<line x1="180.94" y1="503.50" x2="183.14" y2="503.50" stroke="#b21f24" stroke-width="0.9" />
<line x1="180.94" y1="515.50" x2="183.14" y2="515.50" stroke="#b21f24" stroke-width="0.9" />
<line x1="192.50" y1="501.50" x2="192.50" y2="523.10" stroke="#b21f24" stroke-width="0.9" />
<line x1="191.62" y1="501.50" x2="193.82" y2="501.50" stroke="#b21f24" stroke-width="0.9" />
<line x1="191.62" y1="523.50" x2="193.82" y2="523.50" stroke="#b21f24" stroke-width="0.9" />
<line x1="203.50" y1="514.70" x2="203.50" y2="521.90" stroke="#b21f24" stroke-width="0.9" />
<line x1="202.30" y1="514.50" x2="204.50" y2="514.50" stroke="#b21f24" stroke-width="0.9" />
<line x1="202.30" y1="521.50" x2="204.50" y2="521.50" stroke="#b21f24" stroke-width="0.9" />
<line x1="214.50" y1="517.70" x2="214.50" y2="524.90" stroke="#b21f24" stroke-width="0.9" />
<line x1="212.98" y1="517.50" x2="215.18" y2="517.50" stroke="#b21f24" stroke-width="0.9" />
<line x1="212.98" y1="524.50" x2="215.18" y2="524.50" stroke="#b21f24" stroke-width="0.9" />
<line x1="224.50" y1="519.50" x2="224.50" y2="526.70" stroke="#b21f24" stroke-width="0.9" />
<line x1="223.66" y1="519.50" x2="225.86" y2="519.50" stroke="#b21f24" stroke-width="0.9" />
<line x1="223.66" y1="526.50" x2="225.86" y2="526.50" stroke="#b21f24" stroke-width="0.9" />
<path d="M171.36,507.50 L182.04,509.90 L192.72,512.30 L203.40,518.30 L214.08,521.30 L224.76,523.10" fill="none" stroke="#b21f24" stroke-width="1.2" stroke-linejoin="round"/>
<circle cx="171.36" cy="507.50" r="1.30" fill="#b21f24" />
<circle cx="182.04" cy="509.90" r="1.30" fill="#b21f24" />
<circle cx="192.72" cy="512.30" r="1.30" fill="#b21f24" />
<circle cx="203.40" cy="518.30" r="1.30" fill="#b21f24" />
<circle cx="214.08" cy="521.30" r="1.30" fill="#b21f24" />
<circle cx="224.76" cy="523.10" r="1.30" fill="#b21f24" />
<line x1="152.50" y1="476.50" x2="161.50" y2="476.50" stroke="#b21f24" stroke-width="0.9" />
<circle cx="157.00" cy="476.50" r="1.35" fill="#b21f24" />
<text x="164.50" y="478.73" font-size="6.2">RNA</text>
<line x1="152.50" y1="484.50" x2="161.50" y2="484.50" stroke="#52b848" stroke-width="0.9" />
<circle cx="157.00" cy="484.70" r="1.35" fill="#52b848" />
<text x="164.50" y="486.93" font-size="6.2">RNP</text>
<line x1="152.50" y1="493.50" x2="161.50" y2="493.50" stroke="#1d4a78" stroke-width="0.9" />
<circle cx="157.00" cy="493.80" r="1.35" fill="#1d4a78" />
<text x="164.50" y="496.03" font-size="6.2">LNPs</text>
<line x1="178.80" y1="474.00" x2="178.80" y2="488.00" stroke="#231f20" stroke-width="0.6" />
<line x1="181.30" y1="478.00" x2="181.30" y2="496.00" stroke="#231f20" stroke-width="0.6" />
<line x1="183.80" y1="474.00" x2="183.80" y2="496.00" stroke="#231f20" stroke-width="0.6" />
<text x="188.60" y="487.16" font-size="6.0" font-style="italic">ns</text>
<text x="395.2" y="456.86" font-size="11.2" font-weight="bold" style="stroke-width:0.45px">M</text>
<line x1="427.50" y1="474.40" x2="427.50" y2="537.30" stroke="#231f20" stroke-width="1.1" />
<line x1="424.80" y1="536.50" x2="427.00" y2="536.50" stroke="#231f20" stroke-width="0.9" />
<text x="421.60" y="539.14" font-size="6.5" text-anchor="end">0</text>
<line x1="424.80" y1="521.50" x2="427.00" y2="521.50" stroke="#231f20" stroke-width="0.9" />
<text x="421.60" y="523.89" font-size="6.5" text-anchor="end">10</text>
<line x1="424.80" y1="506.50" x2="427.00" y2="506.50" stroke="#231f20" stroke-width="0.9" />
<text x="421.60" y="508.64" font-size="6.5" text-anchor="end">20</text>
<line x1="424.80" y1="491.50" x2="427.00" y2="491.50" stroke="#231f20" stroke-width="0.9" />
<text x="421.60" y="493.39" font-size="6.5" text-anchor="end">30</text>
<line x1="424.80" y1="475.50" x2="427.00" y2="475.50" stroke="#231f20" stroke-width="0.9" />
<text x="421.60" y="478.14" font-size="6.5" text-anchor="end">40</text>
<line x1="426.00" y1="529.17" x2="427.00" y2="529.17" stroke="#231f20" stroke-width="0.6" />
<line x1="426.00" y1="513.92" x2="427.00" y2="513.92" stroke="#231f20" stroke-width="0.6" />
<line x1="426.00" y1="498.68" x2="427.00" y2="498.68" stroke="#231f20" stroke-width="0.6" />
<line x1="426.00" y1="483.43" x2="427.00" y2="483.43" stroke="#231f20" stroke-width="0.6" />
<text x="395.40" y="507.81" font-size="7.8" text-anchor="middle" textLength="58.3" lengthAdjust="spacingAndGlyphs" transform="rotate(-90 395.40 505.00)" style="stroke-width:0.26px">Percentage of B2M-</text>
<text x="405.10" y="507.61" font-size="7.8" text-anchor="middle" textLength="61.5" lengthAdjust="spacingAndGlyphs" transform="rotate(-90 405.10 504.80)" style="stroke-width:0.26px">within hCD45+ cells</text>
<line x1="426.60" y1="536.50" x2="486.30" y2="536.50" stroke="#231f20" stroke-width="0.9" />
<line x1="442.50" y1="536.80" x2="442.50" y2="538.40" stroke="#231f20" stroke-width="0.9" />
<line x1="473.50" y1="536.80" x2="473.50" y2="538.40" stroke="#231f20" stroke-width="0.9" />
<text x="442.00" y="548.68" font-size="6.6" text-anchor="middle">BM</text>
<text x="473.80" y="548.68" font-size="6.6" text-anchor="middle">Spleen</text>
<circle cx="431.20" cy="520.79" r="1.50" fill="#1d4a78" />
<circle cx="433.00" cy="517.74" r="1.50" fill="#1d4a78" />
<circle cx="434.80" cy="516.21" r="1.50" fill="#1d4a78" />
<circle cx="431.20" cy="515.45" r="1.50" fill="#1d4a78" />
<circle cx="433.00" cy="507.82" r="1.50" fill="#1d4a78" />
<circle cx="434.80" cy="499.44" r="1.50" fill="#1d4a78" />
<line x1="429.80" y1="516.50" x2="436.20" y2="516.50" stroke="#1d4a78" stroke-width="0.9" />
<circle cx="440.70" cy="520.02" r="1.50" fill="#b21f24" />
<circle cx="442.50" cy="519.26" r="1.50" fill="#b21f24" />
<circle cx="444.30" cy="518.50" r="1.50" fill="#b21f24" />
<circle cx="440.70" cy="516.21" r="1.50" fill="#b21f24" />
<circle cx="442.50" cy="492.57" r="1.50" fill="#b21f24" />
<line x1="439.30" y1="519.50" x2="445.70" y2="519.50" stroke="#b21f24" stroke-width="0.9" />
<circle cx="449.20" cy="517.74" r="1.50" fill="#52b848" />
<circle cx="451.00" cy="510.88" r="1.50" fill="#52b848" />
<circle cx="452.80" cy="504.01" r="1.50" fill="#52b848" />
<circle cx="449.20" cy="501.72" r="1.50" fill="#52b848" />
<circle cx="451.00" cy="499.44" r="1.50" fill="#52b848" />
<circle cx="452.80" cy="498.68" r="1.50" fill="#52b848" />
<line x1="447.80" y1="502.50" x2="454.20" y2="502.50" stroke="#52b848" stroke-width="0.9" />
<circle cx="463.20" cy="524.60" r="1.50" fill="#1d4a78" />
<circle cx="465.00" cy="519.26" r="1.50" fill="#1d4a78" />
<circle cx="466.80" cy="518.50" r="1.50" fill="#1d4a78" />
<circle cx="463.20" cy="518.50" r="1.50" fill="#1d4a78" />
<circle cx="465.00" cy="508.59" r="1.50" fill="#1d4a78" />
<line x1="461.80" y1="518.50" x2="468.20" y2="518.50" stroke="#1d4a78" stroke-width="0.9" />
<circle cx="471.70" cy="524.60" r="1.50" fill="#b21f24" />
<circle cx="473.50" cy="521.55" r="1.50" fill="#b21f24" />
<circle cx="475.30" cy="520.02" r="1.50" fill="#b21f24" />
<circle cx="471.70" cy="516.21" r="1.50" fill="#b21f24" />
<line x1="470.30" y1="520.50" x2="476.70" y2="520.50" stroke="#b21f24" stroke-width="0.9" />
<circle cx="480.20" cy="516.98" r="1.50" fill="#52b848" />
<circle cx="482.00" cy="516.21" r="1.50" fill="#52b848" />
<circle cx="483.80" cy="515.45" r="1.50" fill="#52b848" />
<circle cx="480.20" cy="515.45" r="1.50" fill="#52b848" />
<line x1="478.80" y1="516.50" x2="485.20" y2="516.50" stroke="#52b848" stroke-width="0.9" />
<line x1="470.50" y1="510.50" x2="486.30" y2="510.50" stroke="#231f20" stroke-width="0.9" />
<text x="478.40" y="510.20" font-size="5.0" text-anchor="middle">*</text>
<circle cx="460.80" cy="475.00" r="1.50" fill="#b21f24" />
<text x="464.80" y="477.23" font-size="6.2">RNA</text>
<circle cx="460.80" cy="483.00" r="1.50" fill="#52b848" />
<text x="464.80" y="485.23" font-size="6.2">RNP</text>
<circle cx="460.80" cy="491.30" r="1.50" fill="#1d4a78" />
<text x="464.80" y="493.53" font-size="6.2">LNPs</text>
<text x="10.2" y="588.86" font-size="11.2" font-weight="bold" style="stroke-width:0.45px">N</text>
<line x1="33.50" y1="597.40" x2="33.50" y2="676.80" stroke="#231f20" stroke-width="1.1" />
<line x1="31.60" y1="676.50" x2="33.80" y2="676.50" stroke="#231f20" stroke-width="0.9" />
<text x="28.40" y="678.64" font-size="6.5" text-anchor="end">0</text>
<line x1="31.60" y1="660.50" x2="33.80" y2="660.50" stroke="#231f20" stroke-width="0.9" />
<text x="28.40" y="663.14" font-size="6.5" text-anchor="end">10</text>
<line x1="31.60" y1="645.50" x2="33.80" y2="645.50" stroke="#231f20" stroke-width="0.9" />
<text x="28.40" y="647.64" font-size="6.5" text-anchor="end">20</text>
<line x1="31.60" y1="629.50" x2="33.80" y2="629.50" stroke="#231f20" stroke-width="0.9" />
<text x="28.40" y="632.14" font-size="6.5" text-anchor="end">30</text>
<line x1="31.60" y1="614.50" x2="33.80" y2="614.50" stroke="#231f20" stroke-width="0.9" />
<text x="28.40" y="616.64" font-size="6.5" text-anchor="end">40</text>
<line x1="31.60" y1="598.50" x2="33.80" y2="598.50" stroke="#231f20" stroke-width="0.9" />
<text x="28.40" y="601.14" font-size="6.5" text-anchor="end">50</text>
<line x1="32.80" y1="668.55" x2="33.80" y2="668.55" stroke="#231f20" stroke-width="0.6" />
<line x1="32.80" y1="653.05" x2="33.80" y2="653.05" stroke="#231f20" stroke-width="0.6" />
<line x1="32.80" y1="637.55" x2="33.80" y2="637.55" stroke="#231f20" stroke-width="0.6" />
<line x1="32.80" y1="622.05" x2="33.80" y2="622.05" stroke="#231f20" stroke-width="0.6" />
<line x1="32.80" y1="606.55" x2="33.80" y2="606.55" stroke="#231f20" stroke-width="0.6" />
<text x="13.80" y="639.31" font-size="7.8" text-anchor="middle" textLength="82" lengthAdjust="spacingAndGlyphs" transform="rotate(-90 13.80 636.50)" style="stroke-width:0.26px">Percentage of hCD45+ cells</text>
<line x1="33.40" y1="676.50" x2="137.50" y2="676.50" stroke="#231f20" stroke-width="0.9" />
<line x1="34.50" y1="676.30" x2="34.50" y2="677.90" stroke="#231f20" stroke-width="0.9" />
<text x="34.50" y="686.53" font-size="6.2" text-anchor="middle">0</text>
<line x1="60.50" y1="676.30" x2="60.50" y2="677.90" stroke="#231f20" stroke-width="0.9" />
<text x="60.00" y="686.53" font-size="6.2" text-anchor="middle">5</text>
<line x1="85.50" y1="676.30" x2="85.50" y2="677.90" stroke="#231f20" stroke-width="0.9" />
<text x="85.50" y="686.53" font-size="6.2" text-anchor="middle">10</text>
<line x1="111.50" y1="676.30" x2="111.50" y2="677.90" stroke="#231f20" stroke-width="0.9" />
<text x="111.00" y="686.53" font-size="6.2" text-anchor="middle">15</text>
<line x1="136.50" y1="676.30" x2="136.50" y2="677.90" stroke="#231f20" stroke-width="0.9" />
<text x="136.50" y="686.53" font-size="6.2" text-anchor="middle">20</text>
<text x="87.00" y="699.81" font-size="7.8" text-anchor="middle" textLength="83.5" lengthAdjust="spacingAndGlyphs" style="stroke-width:0.26px">Weeks upon transplantation</text>
<line x1="54.50" y1="666.22" x2="54.50" y2="675.52" stroke="#52b848" stroke-width="0.9" />
<line x1="53.80" y1="666.50" x2="56.00" y2="666.50" stroke="#52b848" stroke-width="0.9" />
<line x1="53.80" y1="675.50" x2="56.00" y2="675.50" stroke="#52b848" stroke-width="0.9" />
<line x1="65.50" y1="646.85" x2="65.50" y2="662.35" stroke="#52b848" stroke-width="0.9" />
<line x1="64.00" y1="646.50" x2="66.20" y2="646.50" stroke="#52b848" stroke-width="0.9" />
<line x1="64.00" y1="662.50" x2="66.20" y2="662.50" stroke="#52b848" stroke-width="0.9" />
<line x1="75.50" y1="620.50" x2="75.50" y2="648.40" stroke="#52b848" stroke-width="0.9" />
<line x1="74.20" y1="620.50" x2="76.40" y2="620.50" stroke="#52b848" stroke-width="0.9" />
<line x1="74.20" y1="648.50" x2="76.40" y2="648.50" stroke="#52b848" stroke-width="0.9" />
<line x1="85.50" y1="632.12" x2="85.50" y2="653.82" stroke="#52b848" stroke-width="0.9" />
<line x1="84.40" y1="632.50" x2="86.60" y2="632.50" stroke="#52b848" stroke-width="0.9" />
<line x1="84.40" y1="653.50" x2="86.60" y2="653.50" stroke="#52b848" stroke-width="0.9" />
<line x1="95.50" y1="625.15" x2="95.50" y2="653.05" stroke="#52b848" stroke-width="0.9" />
<line x1="94.60" y1="625.50" x2="96.80" y2="625.50" stroke="#52b848" stroke-width="0.9" />
<line x1="94.60" y1="653.50" x2="96.80" y2="653.50" stroke="#52b848" stroke-width="0.9" />
<line x1="111.50" y1="632.90" x2="111.50" y2="660.80" stroke="#52b848" stroke-width="0.9" />
<line x1="109.90" y1="632.50" x2="112.10" y2="632.50" stroke="#52b848" stroke-width="0.9" />
<line x1="109.90" y1="660.50" x2="112.10" y2="660.50" stroke="#52b848" stroke-width="0.9" />
<line x1="116.50" y1="622.05" x2="116.50" y2="643.75" stroke="#52b848" stroke-width="0.9" />
<line x1="115.00" y1="622.50" x2="117.20" y2="622.50" stroke="#52b848" stroke-width="0.9" />
<line x1="115.00" y1="643.50" x2="117.20" y2="643.50" stroke="#52b848" stroke-width="0.9" />
<path d="M54.90,670.88 L65.10,654.60 L75.30,634.45 L85.50,642.97 L95.70,639.10 L111.00,646.85 L116.10,632.90" fill="none" stroke="#52b848" stroke-width="1.2" stroke-linejoin="round"/>
<circle cx="54.90" cy="670.88" r="1.30" fill="#52b848" />
<circle cx="65.10" cy="654.60" r="1.30" fill="#52b848" />
<circle cx="75.30" cy="634.45" r="1.30" fill="#52b848" />
<circle cx="85.50" cy="642.97" r="1.30" fill="#52b848" />
<circle cx="95.70" cy="639.10" r="1.30" fill="#52b848" />
<circle cx="111.00" cy="646.85" r="1.30" fill="#52b848" />
<circle cx="116.10" cy="632.90" r="1.30" fill="#52b848" />
<line x1="54.50" y1="667.77" x2="54.50" y2="673.97" stroke="#1d4a78" stroke-width="0.9" />
<line x1="53.80" y1="667.50" x2="56.00" y2="667.50" stroke="#1d4a78" stroke-width="0.9" />
<line x1="53.80" y1="673.50" x2="56.00" y2="673.50" stroke="#1d4a78" stroke-width="0.9" />
<line x1="65.50" y1="648.40" x2="65.50" y2="663.90" stroke="#1d4a78" stroke-width="0.9" />
<line x1="64.00" y1="648.50" x2="66.20" y2="648.50" stroke="#1d4a78" stroke-width="0.9" />
<line x1="64.00" y1="663.50" x2="66.20" y2="663.50" stroke="#1d4a78" stroke-width="0.9" />
<line x1="75.50" y1="626.70" x2="75.50" y2="651.50" stroke="#1d4a78" stroke-width="0.9" />
<line x1="74.20" y1="626.50" x2="76.40" y2="626.50" stroke="#1d4a78" stroke-width="0.9" />
<line x1="74.20" y1="651.50" x2="76.40" y2="651.50" stroke="#1d4a78" stroke-width="0.9" />
<line x1="85.50" y1="625.15" x2="85.50" y2="642.20" stroke="#1d4a78" stroke-width="0.9" />
<line x1="84.40" y1="625.50" x2="86.60" y2="625.50" stroke="#1d4a78" stroke-width="0.9" />
<line x1="84.40" y1="642.50" x2="86.60" y2="642.50" stroke="#1d4a78" stroke-width="0.9" />
<line x1="95.50" y1="616.62" x2="95.50" y2="629.02" stroke="#1d4a78" stroke-width="0.9" />
<line x1="94.60" y1="616.50" x2="96.80" y2="616.50" stroke="#1d4a78" stroke-width="0.9" />
<line x1="94.60" y1="629.50" x2="96.80" y2="629.50" stroke="#1d4a78" stroke-width="0.9" />
<line x1="111.50" y1="611.20" x2="111.50" y2="626.70" stroke="#1d4a78" stroke-width="0.9" />
<line x1="109.90" y1="611.50" x2="112.10" y2="611.50" stroke="#1d4a78" stroke-width="0.9" />
<line x1="109.90" y1="626.50" x2="112.10" y2="626.50" stroke="#1d4a78" stroke-width="0.9" />
<line x1="116.50" y1="605.77" x2="116.50" y2="630.57" stroke="#1d4a78" stroke-width="0.9" />
<line x1="115.00" y1="605.50" x2="117.20" y2="605.50" stroke="#1d4a78" stroke-width="0.9" />
<line x1="115.00" y1="630.50" x2="117.20" y2="630.50" stroke="#1d4a78" stroke-width="0.9" />
<path d="M54.90,670.88 L65.10,656.15 L75.30,639.10 L85.50,633.67 L95.70,622.82 L111.00,618.95 L116.10,618.17" fill="none" stroke="#1d4a78" stroke-width="1.2" stroke-linejoin="round"/>
<circle cx="54.90" cy="670.88" r="1.30" fill="#1d4a78" />
<circle cx="65.10" cy="656.15" r="1.30" fill="#1d4a78" />
<circle cx="75.30" cy="639.10" r="1.30" fill="#1d4a78" />
<circle cx="85.50" cy="633.67" r="1.30" fill="#1d4a78" />
<circle cx="95.70" cy="622.82" r="1.30" fill="#1d4a78" />
<circle cx="111.00" cy="618.95" r="1.30" fill="#1d4a78" />
<circle cx="116.10" cy="618.17" r="1.30" fill="#1d4a78" />
<line x1="37.50" y1="605.50" x2="48.80" y2="605.50" stroke="#52b848" stroke-width="0.9" />
<circle cx="43.20" cy="605.00" r="1.35" fill="#52b848" />
<text x="51.30" y="607.23" font-size="6.2">RNP</text>
<line x1="37.50" y1="613.50" x2="48.80" y2="613.50" stroke="#1d4a78" stroke-width="0.9" />
<circle cx="43.20" cy="613.00" r="1.35" fill="#1d4a78" />
<text x="51.30" y="615.23" font-size="6.2">LNPs</text>
<text x="111.30" y="605.60" font-size="5.0" text-anchor="middle">**</text>
<text x="116.20" y="605.60" font-size="5.0" text-anchor="middle">*</text>
<text x="156.2" y="588.86" font-size="11.2" font-weight="bold" style="stroke-width:0.45px">O</text>
<line x1="183.50" y1="604.40" x2="183.50" y2="677.30" stroke="#231f20" stroke-width="1.1" />
<line x1="181.60" y1="676.50" x2="183.80" y2="676.50" stroke="#231f20" stroke-width="0.9" />
<text x="178.40" y="679.14" font-size="6.5" text-anchor="end">0</text>
<line x1="181.60" y1="662.50" x2="183.80" y2="662.50" stroke="#231f20" stroke-width="0.9" />
<text x="178.40" y="664.94" font-size="6.5" text-anchor="end">20</text>
<line x1="181.60" y1="648.50" x2="183.80" y2="648.50" stroke="#231f20" stroke-width="0.9" />
<text x="178.40" y="650.74" font-size="6.5" text-anchor="end">40</text>
<line x1="181.60" y1="634.50" x2="183.80" y2="634.50" stroke="#231f20" stroke-width="0.9" />
<text x="178.40" y="636.54" font-size="6.5" text-anchor="end">60</text>
<line x1="181.60" y1="620.50" x2="183.80" y2="620.50" stroke="#231f20" stroke-width="0.9" />
<text x="178.40" y="622.34" font-size="6.5" text-anchor="end">80</text>
<line x1="181.60" y1="605.50" x2="183.80" y2="605.50" stroke="#231f20" stroke-width="0.9" />
<text x="178.40" y="608.14" font-size="6.5" text-anchor="end">100</text>
<line x1="182.80" y1="669.70" x2="183.80" y2="669.70" stroke="#231f20" stroke-width="0.6" />
<line x1="182.80" y1="655.50" x2="183.80" y2="655.50" stroke="#231f20" stroke-width="0.6" />
<line x1="182.80" y1="641.30" x2="183.80" y2="641.30" stroke="#231f20" stroke-width="0.6" />
<line x1="182.80" y1="627.10" x2="183.80" y2="627.10" stroke="#231f20" stroke-width="0.6" />
<line x1="182.80" y1="612.90" x2="183.80" y2="612.90" stroke="#231f20" stroke-width="0.6" />
<text x="161.30" y="641.61" font-size="7.8" text-anchor="middle" textLength="82.5" lengthAdjust="spacingAndGlyphs" transform="rotate(-90 161.30 638.80)" style="stroke-width:0.26px">Percentage of hCD45+ cells</text>
<line x1="183.40" y1="676.50" x2="237.50" y2="676.50" stroke="#231f20" stroke-width="0.9" />
<line x1="196.50" y1="676.80" x2="196.50" y2="678.40" stroke="#231f20" stroke-width="0.9" />
<line x1="224.50" y1="676.80" x2="224.50" y2="678.40" stroke="#231f20" stroke-width="0.9" />
<text x="196.30" y="688.18" font-size="6.6" text-anchor="middle">BM</text>
<text x="224.50" y="688.18" font-size="6.6" text-anchor="middle">Spleen</text>
<circle cx="189.20" cy="651.24" r="1.20" fill="#1d4a78" />
<circle cx="191.00" cy="649.82" r="1.20" fill="#1d4a78" />
<circle cx="192.80" cy="647.69" r="1.20" fill="#1d4a78" />
<circle cx="189.20" cy="646.27" r="1.20" fill="#1d4a78" />
<circle cx="191.00" cy="644.14" r="1.20" fill="#1d4a78" />
<circle cx="192.80" cy="627.10" r="1.20" fill="#1d4a78" />
<line x1="187.50" y1="646.50" x2="194.50" y2="646.50" stroke="#1d4a78" stroke-width="0.9" />
<circle cx="200.70" cy="660.47" r="1.20" fill="#52b848" />
<circle cx="202.50" cy="658.34" r="1.20" fill="#52b848" />
<circle cx="204.30" cy="656.21" r="1.20" fill="#52b848" />
<circle cx="200.70" cy="655.50" r="1.20" fill="#52b848" />
<circle cx="202.50" cy="653.37" r="1.20" fill="#52b848" />
<circle cx="204.30" cy="646.98" r="1.20" fill="#52b848" />
<line x1="199.00" y1="655.50" x2="206.00" y2="655.50" stroke="#52b848" stroke-width="0.9" />
<circle cx="216.20" cy="648.40" r="1.20" fill="#1d4a78" />
<circle cx="218.00" cy="644.85" r="1.20" fill="#1d4a78" />
<circle cx="219.80" cy="637.04" r="1.20" fill="#1d4a78" />
<circle cx="216.20" cy="634.20" r="1.20" fill="#1d4a78" />
<circle cx="218.00" cy="627.81" r="1.20" fill="#1d4a78" />
<circle cx="219.80" cy="613.61" r="1.20" fill="#1d4a78" />
<line x1="214.50" y1="637.50" x2="221.50" y2="637.50" stroke="#1d4a78" stroke-width="0.9" />
<circle cx="230.20" cy="648.40" r="1.20" fill="#52b848" />
<circle cx="232.00" cy="644.85" r="1.20" fill="#52b848" />
<circle cx="233.80" cy="643.43" r="1.20" fill="#52b848" />
<circle cx="230.20" cy="642.72" r="1.20" fill="#52b848" />
<circle cx="232.00" cy="632.07" r="1.20" fill="#52b848" />
<circle cx="233.80" cy="624.97" r="1.20" fill="#52b848" />
<line x1="228.50" y1="642.50" x2="235.50" y2="642.50" stroke="#52b848" stroke-width="0.9" />
<line x1="187.00" y1="620.50" x2="205.00" y2="620.50" stroke="#231f20" stroke-width="0.9" />
<text x="196.00" y="620.20" font-size="5.0" text-anchor="middle">**</text>
<line x1="217.50" y1="608.50" x2="235.00" y2="608.50" stroke="#231f20" stroke-width="0.9" />
<text x="226.20" y="606.62" font-size="5.6" text-anchor="middle">ns</text>
<circle cx="190.00" cy="600.00" r="1.30" fill="#1d4a78" />
<text x="193.80" y="602.23" font-size="6.2">LNPs</text>
<circle cx="190.00" cy="607.50" r="1.30" fill="#52b848" />
<text x="193.80" y="609.73" font-size="6.2">RNP</text>
<text x="252.89999999999998" y="589.36" font-size="11.2" font-weight="bold" style="stroke-width:0.45px">P</text>
<line x1="287.50" y1="600.30" x2="287.50" y2="677.10" stroke="#231f20" stroke-width="1.1" />
<line x1="285.50" y1="676.50" x2="287.70" y2="676.50" stroke="#231f20" stroke-width="0.9" />
<text x="282.30" y="678.94" font-size="6.5" text-anchor="end">0</text>
<line x1="285.50" y1="651.50" x2="287.70" y2="651.50" stroke="#231f20" stroke-width="0.9" />
<text x="282.30" y="653.97" font-size="6.5" text-anchor="end">20</text>
<line x1="285.50" y1="626.50" x2="287.70" y2="626.50" stroke="#231f20" stroke-width="0.9" />
<text x="282.30" y="629.01" font-size="6.5" text-anchor="end">40</text>
<line x1="285.50" y1="601.50" x2="287.70" y2="601.50" stroke="#231f20" stroke-width="0.9" />
<text x="282.30" y="604.04" font-size="6.5" text-anchor="end">60</text>
<line x1="286.70" y1="664.12" x2="287.70" y2="664.12" stroke="#231f20" stroke-width="0.6" />
<line x1="286.70" y1="639.15" x2="287.70" y2="639.15" stroke="#231f20" stroke-width="0.6" />
<line x1="286.70" y1="614.18" x2="287.70" y2="614.18" stroke="#231f20" stroke-width="0.6" />
<text x="256.30" y="640.41" font-size="7.8" text-anchor="middle" textLength="61" lengthAdjust="spacingAndGlyphs" transform="rotate(-90 256.30 637.60)" style="stroke-width:0.26px">Percentage of B2M-</text>
<text x="264.80" y="642.21" font-size="7.8" text-anchor="middle" textLength="63" lengthAdjust="spacingAndGlyphs" transform="rotate(-90 264.80 639.40)" style="stroke-width:0.26px">within hCD45+ cells</text>
<line x1="287.30" y1="676.50" x2="388.00" y2="676.50" stroke="#231f20" stroke-width="0.9" />
<line x1="288.50" y1="676.60" x2="288.50" y2="678.20" stroke="#231f20" stroke-width="0.9" />
<text x="288.50" y="686.53" font-size="6.2" text-anchor="middle">0</text>
<line x1="313.50" y1="676.60" x2="313.50" y2="678.20" stroke="#231f20" stroke-width="0.9" />
<text x="313.20" y="686.53" font-size="6.2" text-anchor="middle">5</text>
<line x1="337.50" y1="676.60" x2="337.50" y2="678.20" stroke="#231f20" stroke-width="0.9" />
<text x="337.90" y="686.53" font-size="6.2" text-anchor="middle">10</text>
<line x1="362.50" y1="676.60" x2="362.50" y2="678.20" stroke="#231f20" stroke-width="0.9" />
<text x="362.60" y="686.53" font-size="6.2" text-anchor="middle">15</text>
<line x1="387.50" y1="676.60" x2="387.50" y2="678.20" stroke="#231f20" stroke-width="0.9" />
<text x="387.30" y="686.53" font-size="6.2" text-anchor="middle">20</text>
<text x="339.20" y="700.11" font-size="7.8" text-anchor="middle" textLength="84.4" lengthAdjust="spacingAndGlyphs" style="stroke-width:0.26px">Weeks upon transplantation</text>
<line x1="308.50" y1="636.65" x2="308.50" y2="644.14" stroke="#52b848" stroke-width="0.9" />
<line x1="307.16" y1="636.50" x2="309.36" y2="636.50" stroke="#52b848" stroke-width="0.9" />
<line x1="307.16" y1="644.50" x2="309.36" y2="644.50" stroke="#52b848" stroke-width="0.9" />
<line x1="318.50" y1="645.39" x2="318.50" y2="650.38" stroke="#52b848" stroke-width="0.9" />
<line x1="317.04" y1="645.50" x2="319.24" y2="645.50" stroke="#52b848" stroke-width="0.9" />
<line x1="317.04" y1="650.50" x2="319.24" y2="650.50" stroke="#52b848" stroke-width="0.9" />
<line x1="328.50" y1="641.65" x2="328.50" y2="656.63" stroke="#52b848" stroke-width="0.9" />
<line x1="326.92" y1="641.50" x2="329.12" y2="641.50" stroke="#52b848" stroke-width="0.9" />
<line x1="326.92" y1="656.50" x2="329.12" y2="656.50" stroke="#52b848" stroke-width="0.9" />
<line x1="337.50" y1="644.14" x2="337.50" y2="669.11" stroke="#52b848" stroke-width="0.9" />
<line x1="336.80" y1="644.50" x2="339.00" y2="644.50" stroke="#52b848" stroke-width="0.9" />
<line x1="336.80" y1="669.50" x2="339.00" y2="669.50" stroke="#52b848" stroke-width="0.9" />
<line x1="347.50" y1="651.63" x2="347.50" y2="661.62" stroke="#52b848" stroke-width="0.9" />
<line x1="346.68" y1="651.50" x2="348.88" y2="651.50" stroke="#52b848" stroke-width="0.9" />
<line x1="346.68" y1="661.50" x2="348.88" y2="661.50" stroke="#52b848" stroke-width="0.9" />
<line x1="362.50" y1="646.64" x2="362.50" y2="659.12" stroke="#52b848" stroke-width="0.9" />
<line x1="361.50" y1="646.50" x2="363.70" y2="646.50" stroke="#52b848" stroke-width="0.9" />
<line x1="361.50" y1="659.50" x2="363.70" y2="659.50" stroke="#52b848" stroke-width="0.9" />
<line x1="367.50" y1="647.89" x2="367.50" y2="660.37" stroke="#52b848" stroke-width="0.9" />
<line x1="366.44" y1="647.50" x2="368.64" y2="647.50" stroke="#52b848" stroke-width="0.9" />
<line x1="366.44" y1="660.50" x2="368.64" y2="660.50" stroke="#52b848" stroke-width="0.9" />
<path d="M308.26,640.40 L318.14,647.89 L328.02,649.14 L337.90,656.63 L347.78,656.63 L362.60,652.88 L367.54,654.13" fill="none" stroke="#52b848" stroke-width="1.2" stroke-linejoin="round"/>
<circle cx="308.26" cy="640.40" r="1.30" fill="#52b848" />
<circle cx="318.14" cy="647.89" r="1.30" fill="#52b848" />
<circle cx="328.02" cy="649.14" r="1.30" fill="#52b848" />
<circle cx="337.90" cy="656.63" r="1.30" fill="#52b848" />
<circle cx="347.78" cy="656.63" r="1.30" fill="#52b848" />
<circle cx="362.60" cy="652.88" r="1.30" fill="#52b848" />
<circle cx="367.54" cy="654.13" r="1.30" fill="#52b848" />
<line x1="308.50" y1="645.39" x2="308.50" y2="650.38" stroke="#1d4a78" stroke-width="0.9" />
<line x1="307.16" y1="645.50" x2="309.36" y2="645.50" stroke="#1d4a78" stroke-width="0.9" />
<line x1="307.16" y1="650.50" x2="309.36" y2="650.50" stroke="#1d4a78" stroke-width="0.9" />
<line x1="318.50" y1="641.65" x2="318.50" y2="649.14" stroke="#1d4a78" stroke-width="0.9" />
<line x1="317.04" y1="641.50" x2="319.24" y2="641.50" stroke="#1d4a78" stroke-width="0.9" />
<line x1="317.04" y1="649.50" x2="319.24" y2="649.50" stroke="#1d4a78" stroke-width="0.9" />
<line x1="328.50" y1="642.89" x2="328.50" y2="655.38" stroke="#1d4a78" stroke-width="0.9" />
<line x1="326.92" y1="642.50" x2="329.12" y2="642.50" stroke="#1d4a78" stroke-width="0.9" />
<line x1="326.92" y1="655.50" x2="329.12" y2="655.50" stroke="#1d4a78" stroke-width="0.9" />
<line x1="337.50" y1="650.38" x2="337.50" y2="662.87" stroke="#1d4a78" stroke-width="0.9" />
<line x1="336.80" y1="650.50" x2="339.00" y2="650.50" stroke="#1d4a78" stroke-width="0.9" />
<line x1="336.80" y1="662.50" x2="339.00" y2="662.50" stroke="#1d4a78" stroke-width="0.9" />
<line x1="347.50" y1="651.63" x2="347.50" y2="661.62" stroke="#1d4a78" stroke-width="0.9" />
<line x1="346.68" y1="651.50" x2="348.88" y2="651.50" stroke="#1d4a78" stroke-width="0.9" />
<line x1="346.68" y1="661.50" x2="348.88" y2="661.50" stroke="#1d4a78" stroke-width="0.9" />
<line x1="362.50" y1="657.88" x2="362.50" y2="662.87" stroke="#1d4a78" stroke-width="0.9" />
<line x1="361.50" y1="657.50" x2="363.70" y2="657.50" stroke="#1d4a78" stroke-width="0.9" />
<line x1="361.50" y1="662.50" x2="363.70" y2="662.50" stroke="#1d4a78" stroke-width="0.9" />
<line x1="367.50" y1="654.13" x2="367.50" y2="661.62" stroke="#1d4a78" stroke-width="0.9" />
<line x1="366.44" y1="654.50" x2="368.64" y2="654.50" stroke="#1d4a78" stroke-width="0.9" />
<line x1="366.44" y1="661.50" x2="368.64" y2="661.50" stroke="#1d4a78" stroke-width="0.9" />
<path d="M308.26,647.89 L318.14,645.39 L328.02,649.14 L337.90,656.63 L347.78,656.63 L362.60,660.37 L367.54,657.88" fill="none" stroke="#1d4a78" stroke-width="1.2" stroke-linejoin="round"/>
<circle cx="308.26" cy="647.89" r="1.30" fill="#1d4a78" />
<circle cx="318.14" cy="645.39" r="1.30" fill="#1d4a78" />
<circle cx="328.02" cy="649.14" r="1.30" fill="#1d4a78" />
<circle cx="337.90" cy="656.63" r="1.30" fill="#1d4a78" />
<circle cx="347.78" cy="656.63" r="1.30" fill="#1d4a78" />
<circle cx="362.60" cy="660.37" r="1.30" fill="#1d4a78" />
<circle cx="367.54" cy="657.88" r="1.30" fill="#1d4a78" />
<line x1="291.70" y1="607.50" x2="301.00" y2="607.50" stroke="#1d4a78" stroke-width="0.9" />
<circle cx="296.30" cy="607.70" r="1.35" fill="#1d4a78" />
<text x="302.60" y="609.93" font-size="6.2">LNPs</text>
<line x1="291.70" y1="616.50" x2="301.00" y2="616.50" stroke="#52b848" stroke-width="0.9" />
<circle cx="296.30" cy="616.00" r="1.35" fill="#52b848" />
<text x="302.60" y="618.23" font-size="6.2">RNP</text>
<line x1="319.50" y1="605.00" x2="319.50" y2="618.50" stroke="#231f20" stroke-width="0.6" />
<text x="321.60" y="613.02" font-size="5.6">ns</text>
<text x="396.2" y="589.36" font-size="11.2" font-weight="bold" style="stroke-width:0.45px">Q</text>
<line x1="441.50" y1="601.10" x2="441.50" y2="677.10" stroke="#231f20" stroke-width="1.1" />
<line x1="439.20" y1="676.50" x2="441.40" y2="676.50" stroke="#231f20" stroke-width="0.9" />
<text x="436.00" y="678.94" font-size="6.5" text-anchor="end">0</text>
<line x1="439.20" y1="651.50" x2="441.40" y2="651.50" stroke="#231f20" stroke-width="0.9" />
<text x="436.00" y="654.24" font-size="6.5" text-anchor="end">20</text>
<line x1="439.20" y1="627.50" x2="441.40" y2="627.50" stroke="#231f20" stroke-width="0.9" />
<text x="436.00" y="629.54" font-size="6.5" text-anchor="end">40</text>
<line x1="439.20" y1="602.50" x2="441.40" y2="602.50" stroke="#231f20" stroke-width="0.9" />
<text x="436.00" y="604.84" font-size="6.5" text-anchor="end">60</text>
<line x1="440.40" y1="664.25" x2="441.40" y2="664.25" stroke="#231f20" stroke-width="0.6" />
<line x1="440.40" y1="639.55" x2="441.40" y2="639.55" stroke="#231f20" stroke-width="0.6" />
<line x1="440.40" y1="614.85" x2="441.40" y2="614.85" stroke="#231f20" stroke-width="0.6" />
<text x="411.00" y="640.81" font-size="7.8" text-anchor="middle" textLength="59.5" lengthAdjust="spacingAndGlyphs" transform="rotate(-90 411.00 638.00)" style="stroke-width:0.26px">Percentage of B2M-</text>
<text x="420.40" y="640.81" font-size="7.8" text-anchor="middle" textLength="62" lengthAdjust="spacingAndGlyphs" transform="rotate(-90 420.40 638.00)" style="stroke-width:0.26px">within hCD45+ cells</text>
<line x1="441.00" y1="676.50" x2="490.40" y2="676.50" stroke="#231f20" stroke-width="0.9" />
<line x1="466.50" y1="676.60" x2="466.50" y2="678.20" stroke="#231f20" stroke-width="0.9" />
<text x="466.70" y="688.38" font-size="6.6" text-anchor="middle">Spleen</text>
<circle cx="454.52" cy="667.96" r="1.20" fill="#1d4a78" />
<circle cx="456.50" cy="666.72" r="1.20" fill="#1d4a78" />
<circle cx="458.48" cy="664.25" r="1.20" fill="#1d4a78" />
<circle cx="454.52" cy="661.78" r="1.20" fill="#1d4a78" />
<circle cx="456.50" cy="658.08" r="1.20" fill="#1d4a78" />
<circle cx="458.48" cy="650.66" r="1.20" fill="#1d4a78" />
<line x1="452.00" y1="663.50" x2="461.00" y2="663.50" stroke="#1d4a78" stroke-width="0.9" />
<circle cx="476.02" cy="666.72" r="1.20" fill="#52b848" />
<circle cx="478.00" cy="656.84" r="1.20" fill="#52b848" />
<circle cx="479.98" cy="651.90" r="1.20" fill="#52b848" />
<circle cx="476.02" cy="649.43" r="1.20" fill="#52b848" />
<circle cx="478.00" cy="645.73" r="1.20" fill="#52b848" />
<circle cx="479.98" cy="642.02" r="1.20" fill="#52b848" />
<line x1="473.50" y1="650.50" x2="482.50" y2="650.50" stroke="#52b848" stroke-width="0.9" />
<circle cx="448.00" cy="609.00" r="1.30" fill="#1d4a78" />
<text x="451.40" y="611.23" font-size="6.2">LNPs</text>
<circle cx="448.00" cy="617.00" r="1.30" fill="#52b848" />
<text x="451.40" y="619.23" font-size="6.2">RNP</text>
<line x1="468.30" y1="605.50" x2="468.30" y2="619.50" stroke="#231f20" stroke-width="0.6" />
<text x="471.50" y="615.02" font-size="5.6">ns</text>
<rect x="0.5" y="0.5" width="519" height="708" fill="none" stroke="#4d4d4d" stroke-width="1"/>
</svg>
</body></html>
